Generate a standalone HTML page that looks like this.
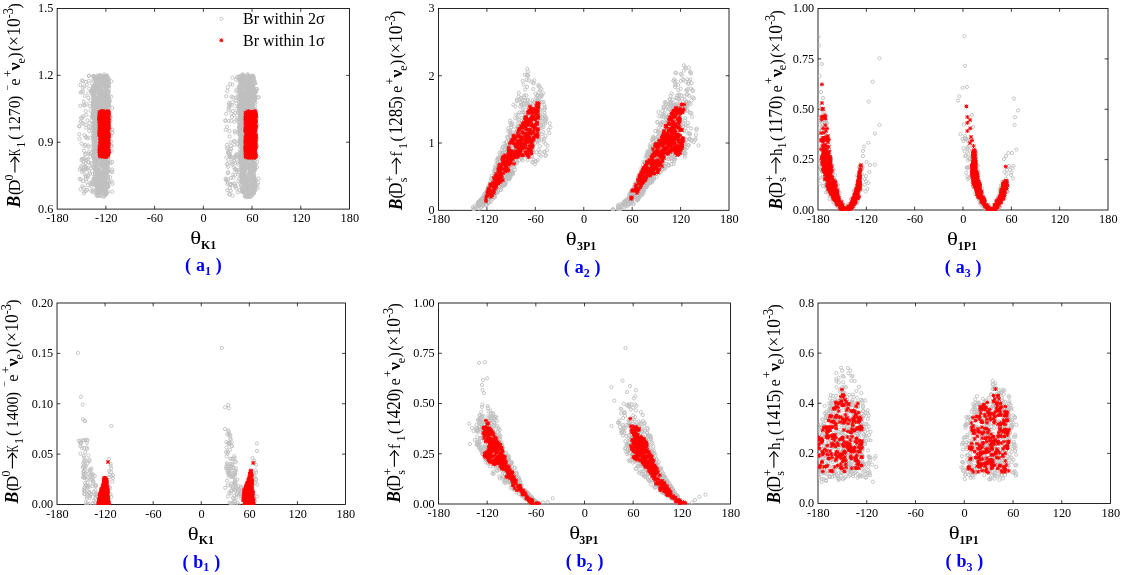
<!DOCTYPE html>
<html><head><meta charset="utf-8"><title>Branching ratios vs mixing angles</title>
<style>
html,body{margin:0;padding:0;background:#fff;}
svg{display:block;will-change:transform;font-family:"Liberation Serif",serif;}
.t{font-size:13.3px;fill:#000;}
.yl{font-size:16.5px;fill:#000;}
.fr{fill:none;stroke:#000;stroke-width:0.85;}
.tk{stroke:#000;stroke-width:0.75;fill:none;}
</style></head><body>
<svg width="1123" height="575" viewBox="0 0 1123 575">
<rect width="1123" height="575" fill="#fff"/>
<defs>
<marker id="mg" markerUnits="userSpaceOnUse" markerWidth="6" markerHeight="6" refX="3" refY="3" overflow="visible"><circle cx="3" cy="3" r="1.6" fill="none" stroke="#c0c0c0" stroke-width="0.9"/></marker>
<marker id="mr" markerUnits="userSpaceOnUse" markerWidth="6" markerHeight="6" refX="3" refY="3" overflow="visible"><path d="M1.05 3H4.95M3 1.05V4.95M1.35 1.35L4.65 4.65M4.65 1.35L1.35 4.65" fill="none" stroke="#ff0000" stroke-width="1.0"/></marker>
<clipPath id="ca1"><rect x="57.2" y="8.5" width="292.3" height="201.2"/></clipPath>
<clipPath id="ca2"><rect x="438.5" y="8.5" width="290.5" height="202.4"/></clipPath>
<clipPath id="ca3"><rect x="818.0" y="8.5" width="290.0" height="202.1"/></clipPath>
<clipPath id="cb1"><rect x="57.0" y="303.0" width="288.5" height="202.1"/></clipPath>
<clipPath id="cb2"><rect x="438.5" y="303.0" width="292.0" height="201.6"/></clipPath>
<clipPath id="cb3"><rect x="818.0" y="303.0" width="292.5" height="201.1"/></clipPath>
</defs>
<g id="a1">
<rect class="fr" x="57.17" y="8.50" width="292.33" height="200.60"/>
<text class="t" text-anchor="middle" transform="translate(57.5 222.2) scale(0.925 1)">-180</text>
<text class="t" text-anchor="middle" transform="translate(106.2 222.2) scale(0.925 1)">-120</text>
<text class="t" text-anchor="middle" transform="translate(154.9 222.2) scale(0.925 1)">-60</text>
<text class="t" text-anchor="middle" transform="translate(203.6 222.2) scale(0.925 1)">0</text>
<text class="t" text-anchor="middle" transform="translate(252.4 222.2) scale(0.925 1)">60</text>
<text class="t" text-anchor="middle" transform="translate(301.1 222.2) scale(0.925 1)">120</text>
<text class="t" text-anchor="middle" transform="translate(349.8 222.2) scale(0.925 1)">180</text>
<text class="t" text-anchor="end" transform="translate(53.4 212.9) scale(0.92 1)">0.6</text>
<text class="t" text-anchor="end" transform="translate(53.4 146.0) scale(0.92 1)">0.9</text>
<text class="t" text-anchor="end" transform="translate(53.4 79.2) scale(0.92 1)">1.2</text>
<text class="t" text-anchor="end" transform="translate(53.4 12.3) scale(0.92 1)">1.5</text>
<path class="tk" d="M105.89 209.10v-3.4M105.89 8.50v3.4M154.61 209.10v-3.4M154.61 8.50v3.4M203.33 209.10v-3.4M203.33 8.50v3.4M252.06 209.10v-3.4M252.06 8.50v3.4M300.78 209.10v-3.4M300.78 8.50v3.4M57.17 142.23h3.4M349.50 142.23h-3.4M57.17 75.37h3.4M349.50 75.37h-3.4"/>
<g clip-path="url(#ca1)">
<polyline fill="none" stroke="none" marker-start="url(#mg)" marker-mid="url(#mg)" marker-end="url(#mg)" points="98.6,101.8 99.5,141.5 105.2,94.2 91.2,90.9 225.7,178.7 247.0,136.5 249.7,169.9 251.3,105.9 94.3,147.6 245.3,100.2 109.1,112.4 241.8,109.3 83.2,164.3 236.3,154.3 100.1,141.3 247.1,88.0 252.3,104.4 99.9,79.4 108.5,154.6 103.4,95.5 244.6,123.2 241.2,181.1 248.5,136.5 252.9,98.0 93.7,76.8 252.0,135.4 102.2,162.7 104.2,155.9 94.8,179.6 108.2,82.5 245.9,134.5 243.8,153.1 243.1,96.5 109.0,79.9 108.3,126.0 243.9,77.2 240.4,154.4 105.6,126.1 242.3,127.2 100.6,89.9 242.7,95.9 106.2,81.2 103.4,142.7 103.6,163.6 98.1,188.4 251.6,83.0 240.5,144.4 241.8,75.6 84.9,169.1 105.8,110.6 231.5,96.7 247.2,150.5 245.7,76.0 248.4,180.8 247.6,144.4 106.9,114.9 248.5,188.4 240.3,80.7 225.7,129.8 241.9,83.3 246.0,110.5 96.9,90.3 100.0,170.5 252.1,163.5 105.6,128.5 106.1,96.0 104.0,142.5 242.2,135.7 111.8,145.8 252.9,170.9 249.7,186.2 241.4,116.8 94.8,99.5 249.1,119.4 99.2,170.6 97.1,179.3 104.9,183.6 93.2,104.3 241.0,167.7 247.6,193.1 251.1,90.9 107.6,146.2 235.2,157.6 92.9,89.0 247.7,74.2 102.1,164.2 96.8,106.2 241.4,79.3 250.5,172.1 249.3,94.7 94.6,84.9 107.1,171.4 227.1,190.2 96.1,108.5 244.4,113.7 245.8,136.9 251.6,94.4 243.2,76.7 98.8,114.7 97.0,189.5 107.7,114.8 234.5,161.0 97.9,76.6 84.9,174.6 253.9,127.7 230.3,151.8 247.5,140.9 105.9,106.4 98.5,92.2 246.6,155.2 251.8,121.6 107.2,99.6 99.8,115.1 249.7,90.5 254.3,83.1 104.5,107.9 100.7,75.9 108.5,96.4 254.0,90.2 241.5,102.4 106.6,147.5 240.8,185.5 242.7,187.8 107.2,174.9 81.4,168.2 103.3,167.1 243.1,152.2 249.3,196.8 101.7,104.5 246.5,165.6 99.5,77.0 251.3,147.7 254.7,160.8 97.1,113.5 229.4,131.1 245.5,196.6 243.8,146.6 246.3,82.2 108.0,134.0 108.8,99.8 254.8,185.7 241.8,108.0 99.8,187.6 242.1,112.8 243.5,177.2 239.6,140.4 254.4,178.4 109.1,105.5 251.3,164.3 242.6,159.0 98.3,93.9 242.8,135.5 98.3,170.4 239.3,128.1 94.8,120.0 253.8,100.6 242.9,167.3 108.7,125.9 97.4,130.5 88.4,161.9 242.2,176.9 244.8,166.9 248.8,183.0 92.7,191.8 100.5,175.3 254.8,89.8 245.5,104.7 106.1,105.4 245.4,113.6 248.4,124.7 110.1,100.7 84.3,191.5 85.9,191.1 97.7,109.3 248.4,163.3 230.5,157.3 103.2,194.1 240.7,80.5 101.3,143.5 235.9,79.8 243.2,109.4 104.9,145.4 94.7,79.2 239.8,88.8 99.5,91.8 106.7,99.2 247.6,167.2 86.3,114.9 102.2,185.2 106.9,109.0 102.2,117.6 252.2,146.4 104.6,83.7 83.2,116.2 244.9,159.3 93.2,113.3 86.5,160.0 96.6,81.8 241.9,118.1 108.9,106.6 94.2,92.3 242.2,115.7 99.0,132.1 247.1,92.6 105.8,83.6 253.0,173.9 248.2,100.6 239.0,106.2 250.4,95.1 103.7,160.8 250.0,94.1 254.6,100.0 229.2,194.3 103.8,142.9 111.3,145.7 103.7,112.7 108.4,145.7 242.7,116.8 104.4,142.7 101.3,78.8 253.1,114.1 243.3,155.7 248.6,91.1 102.0,90.3 236.2,91.4 247.1,102.3 250.6,196.5 240.5,159.7 104.7,194.1 105.2,165.6 254.4,190.6 103.7,155.4 253.0,185.6 249.4,115.2 244.6,162.4 249.9,132.7 246.6,88.3 245.5,83.2 99.9,165.8 250.2,174.4 104.4,171.3 103.5,152.3 242.1,76.6 249.5,88.6 244.6,142.0 244.9,196.4 249.4,132.7 93.2,75.8 96.5,183.6 227.3,164.2 79.6,138.7 243.5,148.5 247.5,113.9 255.0,190.7 95.7,84.1 241.6,101.7 249.4,191.3 240.1,85.1 244.0,147.0 105.1,104.3 248.7,137.7 256.0,116.4 255.0,91.3 95.5,131.5 248.1,163.4 101.4,76.4 97.3,86.7 97.3,95.8 100.5,116.3 242.1,169.7 97.7,192.4 254.5,118.4 104.8,185.6 244.1,97.9 88.0,167.8 242.9,171.3 91.4,116.4 103.4,124.8 244.0,102.4 244.5,146.7 253.6,141.0 250.9,177.6 243.3,175.4 97.6,175.9 249.8,161.0 109.1,124.9 240.4,104.7 239.9,190.3 242.3,91.8 251.2,84.2 88.8,151.8 96.2,127.4 94.9,78.4 101.5,164.4 98.1,194.9 103.4,166.0 255.3,91.5 107.1,77.5 110.6,116.7 100.9,117.9 252.2,159.6 251.8,161.6 99.2,129.4 241.4,127.7 252.8,83.9 104.1,128.1 105.5,92.8 105.5,141.7 252.7,119.8 244.6,151.9 101.6,85.3 111.8,181.5 103.6,117.1 102.6,94.9 103.2,160.1 108.0,171.5 241.2,120.0 93.9,158.0 243.0,94.9 248.5,104.8 112.4,132.6 100.0,82.6 101.0,82.5 241.4,140.1 239.9,146.5 99.2,96.0 96.5,138.7 253.9,146.1 255.0,83.4 239.2,128.0 107.0,164.9 242.5,75.3 90.7,127.4 100.4,77.1 108.9,135.2 253.1,106.8 109.1,115.0 100.5,181.1 102.7,113.9 249.9,151.0 230.0,154.7 100.3,141.3 242.3,97.3 96.4,150.7 94.4,104.8 105.0,176.5 252.1,116.3 93.7,94.1 96.1,79.9 239.1,127.2 254.8,101.4 238.2,169.9 239.2,119.4 106.2,157.8 245.5,180.3 91.8,91.0 245.9,157.1 94.5,108.7 242.3,109.0 80.7,179.5 100.9,76.1 97.2,196.1 251.9,185.2 249.2,152.4 98.7,110.6 251.3,82.5 241.7,177.3 102.0,76.0 106.8,148.9 107.1,100.6 247.1,152.8 247.1,133.6 101.4,179.3 245.7,182.7 246.8,81.2 255.6,113.6 225.6,120.9 238.6,87.5 247.9,167.5 253.2,87.9 104.3,156.9 245.9,92.5 251.0,140.7 244.0,145.7 108.5,144.0 108.2,157.4 247.5,184.2 107.8,177.8 95.8,100.8 105.9,169.4 242.8,179.7 240.9,91.8 108.3,153.0 226.8,148.1 101.9,91.9 230.9,183.9 248.7,186.0 253.8,88.6 247.7,164.9 101.1,83.3 99.2,187.0 242.0,150.1 243.1,92.8 232.6,195.7 105.1,112.7 245.6,161.3 107.9,153.9 254.5,96.1 258.7,97.1 249.7,153.0 236.8,169.8 102.1,132.5 240.2,116.5 239.6,140.3 229.6,136.5 94.9,146.3 94.6,143.8 99.3,113.9 258.5,178.5 108.1,93.1 107.5,113.5 106.4,102.7 103.7,90.6 95.5,106.3 247.8,180.2 248.1,188.6 105.7,104.7 94.1,123.0 108.7,162.8 244.4,170.2 100.5,79.6 235.9,100.3 249.0,196.3 240.6,85.8 249.7,84.7 227.6,184.1 248.6,133.4 104.2,165.6 245.7,183.4 246.7,144.5 98.7,161.6 253.8,114.4 243.9,122.0 242.4,187.5 96.6,117.6 106.0,77.3 104.2,167.2 250.7,165.0 244.0,85.2 253.5,190.8 87.3,120.4 88.9,80.8 92.6,112.1 103.6,123.4 88.3,93.5 103.2,174.4 80.2,105.8 97.6,98.8 97.4,115.3 88.0,185.2 252.9,78.7 242.1,95.0 109.1,135.3 236.1,97.7 111.3,141.6 104.2,124.4 244.3,117.2 248.4,87.7 251.0,128.9 98.4,102.3 102.6,82.3 106.0,174.3 94.7,153.3 257.5,188.2 106.0,111.9 249.4,149.0 254.7,167.7 97.9,85.5 104.2,106.8 100.4,174.8 254.5,150.3 243.5,146.3 108.4,171.3 97.8,100.7 104.1,118.1 92.3,91.7 100.0,112.4 242.0,174.3 241.6,188.2 241.9,119.4 253.8,89.4 239.2,101.8 95.2,122.5 81.9,171.8 242.0,179.1 99.4,171.6 242.4,77.9 229.3,106.6 250.4,123.5 100.0,156.9 253.0,150.7 93.9,118.7 248.9,136.3 83.5,105.0 104.3,83.0 232.8,164.4 250.3,78.6 231.4,113.4 94.1,90.3 104.7,103.5 257.0,167.1 256.4,127.2 244.8,118.3 111.1,96.6 252.6,112.8 250.0,81.7 102.0,173.9 99.2,167.3 102.5,154.6 241.5,170.4 243.3,136.9 243.5,146.8 256.3,89.5 95.0,169.3 245.5,173.9 100.4,178.6 249.3,146.8 254.5,124.5 243.0,173.0 100.1,88.4 245.3,113.2 104.2,123.6 90.4,100.7 250.1,125.0 240.2,132.4 93.9,76.1 254.9,135.8 251.0,125.6 239.2,105.9 247.2,186.9 253.6,98.3 253.6,154.8 98.3,173.1 89.1,88.6 253.0,146.6 239.3,178.6 108.9,103.5 96.2,143.3 246.6,157.2 250.1,144.4 242.3,166.6 98.5,174.8 246.9,195.3 244.1,102.0 99.6,141.8 243.7,112.4 241.2,96.4 242.9,124.9 97.0,134.2 253.1,87.3 244.3,104.4 99.6,188.6 93.9,94.4 239.2,88.4 103.7,76.1 102.8,164.7 248.2,164.4 254.6,155.0 245.2,178.0 252.6,159.5 98.8,157.8 94.3,115.1 100.1,106.6 228.1,152.3 249.4,92.1 102.4,155.6 237.3,144.2 79.6,178.9 100.0,95.0 243.1,127.5 248.6,175.7 236.3,103.5 94.0,105.9 97.2,170.3 250.5,92.0 86.3,167.2 112.1,161.9 243.8,177.6 242.1,82.0 255.2,121.6 228.2,172.1 256.6,155.5 254.0,137.3 235.3,113.1 250.9,151.8 104.2,113.6 241.4,184.8 252.6,147.0 254.0,88.1 100.6,146.6 96.1,134.6 98.1,130.3 240.0,129.2 240.4,90.1 254.1,188.5 247.3,149.2 239.4,86.0 106.2,156.9 250.9,174.0 85.7,176.2 93.5,98.5 106.1,142.6 241.5,178.4 228.8,153.3 101.8,184.9 250.5,128.5 108.7,101.6 246.6,101.0 247.2,86.3 95.8,171.9 254.9,168.8 82.3,118.0 96.1,88.9 101.1,97.5 248.9,134.9 104.2,139.7 237.6,96.4 101.2,98.9 245.8,150.0 84.6,95.8 100.4,153.9 105.4,88.4 93.5,97.3 94.9,145.4 255.4,125.9 94.3,128.2 101.6,138.2 103.8,177.3 249.7,97.0 254.4,141.3 235.1,174.9 101.0,115.8 92.6,89.1 100.4,90.8 104.7,148.9 251.2,88.4 97.2,78.9 101.5,146.6 112.3,183.7 100.4,105.2 244.3,182.3 101.3,144.9 97.9,78.9 103.4,106.3 107.3,169.2 95.3,180.3 239.8,87.3 244.9,134.2 249.6,106.5 248.2,178.0 95.4,141.1 240.6,142.6 102.6,151.9 96.4,167.8 101.8,175.4 83.6,101.5 106.2,120.3 247.7,75.6 93.0,133.3 96.7,180.5 99.1,126.7 254.4,96.8 82.0,158.8 241.9,119.5 248.5,179.2 242.7,162.6 104.3,111.6 104.8,178.5 100.7,117.6 251.4,180.6 102.0,120.7 240.0,93.8 241.6,191.7 100.6,81.6 244.8,98.0 83.3,170.1 248.3,143.8 254.9,124.7 98.8,97.9 243.9,167.0 106.3,172.1 249.9,187.5 101.2,165.1 253.0,185.2 236.7,89.9 248.7,189.1 102.0,171.3 101.2,120.8 94.7,111.9 106.2,99.8 93.1,136.3 250.3,164.3 242.3,137.9 246.3,186.1 95.0,99.0 105.8,116.8 105.6,162.0 93.7,113.0 242.3,175.6 248.2,181.6 92.9,173.9 246.1,120.3 254.0,111.5 249.3,142.3 91.7,152.7 243.1,155.6 100.0,104.5 94.8,152.3 242.9,106.9 249.7,126.4 105.8,114.6 92.5,102.2 240.3,109.3 255.0,106.4 91.1,168.2 95.6,108.7 94.8,172.9 93.8,156.5 252.8,162.9 107.9,167.2 250.8,87.8 241.5,98.2 107.8,159.7 93.5,151.3 239.4,90.6 248.2,78.7 251.9,157.6 106.8,167.5 241.0,164.1 242.4,76.6 101.4,150.8 253.4,180.2 105.0,143.6 106.8,164.8 98.5,139.7 101.2,131.5 102.8,83.4 252.0,155.8 103.7,77.2 104.4,114.6 105.1,181.7 249.0,91.6 86.0,137.1 100.0,115.2 250.8,132.9 106.0,105.0 251.5,139.3 103.9,178.0 102.6,145.8 252.5,76.2 248.5,196.8 245.6,140.8 92.9,92.1 93.3,190.4 253.4,148.9 105.9,84.4 245.6,196.1 103.2,82.4 247.3,193.8 227.3,91.1 240.7,160.6 106.1,100.3 104.6,114.6 252.4,123.1 97.8,132.1 252.2,152.6 253.0,99.0 255.1,152.2 258.0,182.8 97.2,107.6 108.2,79.8 250.8,78.2 100.1,183.9 250.8,89.7 247.3,89.2 244.3,87.9 98.1,112.4 83.4,161.1 251.4,186.9 242.8,182.5 244.9,143.6 248.0,86.5 250.7,172.7 254.6,179.4 246.9,84.5 95.3,109.6 110.2,177.2 95.4,108.8 92.5,128.8 245.3,83.5 97.0,77.6 246.5,159.3 95.8,159.5 96.3,119.7 108.9,102.5 246.6,83.0 92.0,83.6 85.0,144.8 89.0,76.0 248.2,167.7 98.1,127.7 107.9,80.8 105.8,112.1 254.6,165.5 97.1,162.3 112.3,191.8 107.2,186.9 90.0,106.1 106.5,110.9 91.2,163.2 252.3,181.0 101.1,79.1 96.6,89.6 108.7,85.9 240.4,119.3 94.0,152.9 250.9,76.4 102.9,80.4 96.7,146.2 240.3,134.2 241.4,113.2 246.1,158.6 246.2,125.2 105.0,157.8 103.8,146.5 256.6,145.9 102.2,152.6 253.3,126.0 246.2,130.9 244.2,84.1 254.8,170.0 239.6,134.8 246.1,138.5 245.8,110.4 232.8,111.0 103.5,179.8 93.9,127.1 108.7,83.0 99.6,195.2 248.7,78.2 248.3,104.4 101.2,102.1 248.9,105.6 251.5,154.4 85.9,168.3 104.4,196.5 107.3,185.2 240.1,80.0 96.5,141.1 244.6,99.5 96.8,160.8 108.7,96.8 100.1,178.2 246.6,161.5 253.4,124.1 253.9,111.0 252.3,177.7 101.2,112.8 106.6,160.6 108.6,140.7 103.4,165.3 107.2,172.8 111.4,81.3 257.4,146.0 243.4,113.9 253.4,154.5 93.9,104.6 89.5,123.0 240.0,105.3 241.4,137.8 239.1,126.9 242.6,168.8 244.4,103.8 107.5,171.7 98.9,127.8 102.8,172.6 251.6,149.1 93.6,155.4 100.2,139.4 240.2,125.5 240.7,128.3 241.4,181.3 107.7,179.9 250.2,80.2 106.5,163.4 112.3,169.6 101.1,131.3 241.5,113.2 97.7,100.1 108.3,154.8 98.8,123.4 245.8,140.5 252.7,189.3 246.6,123.4 248.4,85.9 248.3,100.9 229.7,188.2 93.6,108.7 95.9,142.5 239.4,128.5 102.2,160.8 97.0,184.5 103.7,152.3 93.6,91.7 244.6,103.5 239.3,142.0 250.5,109.4 102.4,109.6 243.2,101.4 248.5,98.5 254.5,121.1 245.4,149.8 94.2,90.6 106.1,95.1 94.3,105.6 103.6,183.0 98.5,156.7 107.6,162.5 240.3,114.7 107.9,143.8 104.2,142.4 99.5,183.4 254.5,180.2 255.2,99.7 80.2,84.9 240.0,141.4 89.2,131.0 99.9,123.4 95.0,122.6 253.3,76.5 240.0,81.7 101.8,108.0 102.1,125.9 240.8,127.5 256.1,127.6 107.2,98.3 254.0,153.6 93.6,167.8 107.9,97.8 255.4,92.8 243.9,180.8 254.2,171.9 89.7,173.4 241.9,171.9 103.6,95.8 93.7,130.9 101.1,83.1 253.6,162.8 94.7,152.1 95.8,114.9 108.0,97.0 252.3,113.2 105.9,146.7 94.8,125.9 234.1,183.4 95.2,164.4 251.5,193.3 93.6,101.9 100.4,106.5 251.5,163.1 247.4,130.5 250.4,156.3 95.4,79.3 107.8,184.0 240.4,99.4 250.3,166.6 107.3,100.7 93.6,134.5 242.5,149.5 107.6,184.1 82.4,122.9 109.1,113.0 251.9,175.9 92.7,115.9 241.1,136.3 239.4,145.7 245.2,149.4 103.0,112.0 242.9,151.4 105.3,168.7 251.8,115.9 248.2,76.5 106.3,142.3 97.8,105.8 244.3,145.2 107.8,116.2 80.6,121.9 96.4,104.6 104.4,79.7 229.2,104.4 99.3,126.3 249.3,138.1 254.4,113.6 252.1,123.6 248.6,107.2 254.9,131.7 97.9,79.0 107.9,150.5 249.6,99.6 97.5,105.1 249.9,132.7 88.8,126.7 102.0,154.4 239.6,133.4 248.2,84.2 92.7,88.2 245.6,155.3 107.3,156.0 95.8,158.1 245.0,93.4 106.7,110.0 244.3,97.5 248.2,92.2 245.9,89.3 255.5,137.4 240.3,137.9 229.5,155.4 240.0,91.4 246.9,102.2 94.6,156.0 93.7,104.1 96.7,125.0 253.9,148.4 88.3,145.4 106.6,165.8 93.8,109.3 87.1,189.9 255.9,118.9 93.4,116.8 107.1,151.2 242.7,156.4 236.3,156.2 105.9,135.8 248.9,156.4 253.6,154.5 240.9,82.2 254.3,152.0 101.1,92.3 254.4,166.1 254.1,142.8 244.1,80.1 110.7,163.2 93.2,79.7 104.0,181.6 233.4,177.8 99.0,97.1 248.6,79.0 100.8,87.0 254.0,141.2 100.6,155.7 255.0,153.4 93.2,126.4 252.8,133.1 251.0,132.1 86.7,104.1 254.8,116.9 101.4,173.5 254.1,100.9 106.8,192.5 105.9,125.5 249.2,163.9 101.3,103.2 253.2,148.5 95.9,185.3 107.0,164.3 243.9,181.9 243.0,116.3 247.5,157.0 106.4,188.0 106.9,108.3 252.1,175.8 94.5,177.9 105.0,131.4 107.3,139.8 98.0,176.7 106.2,127.5 244.5,84.3 105.4,181.2 242.4,128.7 103.9,137.8 94.7,149.3 246.7,142.7 86.2,127.8 245.4,176.1 249.0,143.1 231.9,161.8 237.3,77.4 99.5,138.7 248.7,96.5 229.8,194.4 243.2,132.9 249.9,192.5 101.0,119.3 243.0,138.3 240.1,152.8 246.2,93.6 93.6,140.9 245.2,184.3 239.7,105.3 248.6,140.4 254.4,167.7 240.6,90.1 250.1,113.7 108.4,77.8 250.0,187.1 106.0,124.9 107.4,128.7 104.6,76.5 109.0,121.5 101.1,111.0 228.8,121.0 107.5,149.4 97.9,175.1 98.1,132.0 105.0,133.3 93.7,124.8 103.2,113.0 251.6,85.1 250.4,116.0 231.9,116.9 97.0,163.8 94.1,139.2 99.4,139.5 253.0,108.4 242.6,179.6 240.5,99.3 241.3,101.5 94.1,113.6 239.6,76.7 103.8,85.8 104.5,193.0 251.7,115.3 105.4,133.4 240.3,79.7 244.5,129.7 240.4,162.2 250.4,170.6 95.7,124.4 98.4,122.4 239.2,110.4 247.5,159.7 93.6,141.8 243.4,147.0 102.5,159.5 255.4,102.7 103.9,155.1 108.3,171.3 247.8,127.5 247.1,106.6 97.9,187.6 104.1,138.0 242.3,181.5 107.1,76.0 235.3,186.6 244.7,78.8 94.5,160.0 248.5,178.6 239.5,122.0 95.9,139.8 107.9,107.1 98.6,161.6 253.3,102.1 99.8,152.7 230.3,184.9 97.4,87.5 251.3,98.0 99.0,93.3 107.6,111.1 101.3,158.8 244.1,152.6 235.2,162.6 95.5,190.1 248.8,131.4 100.3,192.3 241.7,103.4 252.3,111.9 239.7,96.8 246.2,158.6 106.6,157.3 100.2,141.2 105.5,106.2 93.1,103.8 83.9,193.3 254.1,153.2 250.7,167.5 106.8,144.9 255.0,123.9 101.3,119.5 247.5,98.4 253.5,191.9 104.8,187.5 246.4,89.4 95.8,170.9 240.3,128.1 106.5,100.1 99.5,177.1 107.6,81.5 104.1,142.6 81.5,160.1 104.3,185.9 230.7,190.8 97.0,129.8 100.2,90.2 105.9,141.1 97.0,99.9 253.9,167.0 101.1,115.4 249.5,109.5 99.5,138.9 247.8,189.4 104.5,81.4 232.0,105.4 249.9,164.9 241.8,161.9 103.7,183.1 101.3,163.0 95.9,90.7 103.6,188.0 81.5,91.7 253.4,157.1 99.9,191.1 105.6,135.1 104.0,189.6 84.0,158.9 242.6,145.3 102.6,97.5 244.6,107.5 99.7,75.7 99.3,122.1 90.3,137.7 240.1,143.0 106.9,186.2 92.5,106.5 100.2,113.4 239.6,94.2 249.7,161.4 249.1,83.9 108.3,104.9 104.1,178.4 87.8,177.4 245.0,77.5 98.5,136.6 256.3,180.4 243.6,104.4 107.8,90.8 104.1,163.7 251.1,118.5 104.3,74.4 106.7,92.7 228.4,159.8 106.8,144.5 244.1,115.9 248.2,157.0 249.3,135.8 101.7,93.4 108.0,79.7 255.6,124.7 243.2,102.4 98.8,177.7 242.9,75.4 249.2,130.1 102.8,160.6 93.5,111.2 252.6,108.0 245.7,185.0 241.0,124.0 93.8,111.2 248.3,129.8 101.5,195.6 102.7,189.7 241.6,95.5 105.4,190.6 96.5,81.8 242.3,191.7 97.7,97.8 240.2,104.3 95.0,149.8 226.4,157.4 93.2,94.3 245.6,146.9 247.1,107.2 247.0,161.5 230.5,185.2 253.0,160.0 98.6,194.7 249.8,158.8 239.3,78.7 247.5,84.8 100.9,96.8 252.6,76.4 251.6,144.8 102.4,129.8 228.3,152.3 99.6,75.3 93.6,90.5 95.9,138.6 252.1,152.9 95.3,158.6 96.0,115.0 228.1,152.9 241.6,162.1 104.4,183.3 238.1,112.2 94.1,95.5 104.4,179.6 246.3,185.6 108.2,162.0 243.1,74.4 242.0,165.6 104.6,79.8 102.1,81.7 102.4,102.6 100.9,175.7 106.2,96.8 248.8,150.0 250.7,152.3 244.6,130.5 101.3,191.2 106.9,171.1 105.9,101.2 252.4,160.7 230.0,156.6 108.7,159.9 106.9,75.8 249.8,157.4 235.1,168.7 106.6,171.2 107.0,105.2 95.8,185.5 240.5,110.7 108.8,105.5 97.6,102.1 239.0,107.1 99.5,114.9 244.1,176.4 252.7,85.3 228.1,166.8 240.5,114.6 102.2,117.7 254.8,169.9 245.8,127.9 245.9,163.8 85.8,179.1 254.5,181.8 101.4,135.5 104.6,189.2 247.8,93.9 245.0,117.7 104.8,151.2 250.3,89.4 104.0,82.9 107.4,85.3 103.6,148.2 255.0,131.5 107.3,86.0 99.7,181.1 239.3,123.4 252.7,148.7 110.3,120.7 104.2,112.0 99.3,175.0 98.5,154.2 244.1,158.4 101.9,80.1 243.2,117.2 108.2,164.1 249.1,179.9 240.5,136.7 94.6,106.8 103.5,77.6 99.5,122.5 252.2,174.8 234.5,121.7 99.3,187.4 105.3,97.6 94.8,165.5 238.9,172.2 231.1,149.2 94.3,127.4 254.1,193.0 105.6,143.2 247.1,148.7 242.0,79.9 96.0,89.2 101.4,184.0 103.5,163.9 241.0,158.6 108.1,93.6 243.8,192.3 242.3,166.1 111.8,150.6 252.2,106.3 234.2,115.3 252.6,91.2 254.7,131.1 96.8,162.0 97.2,169.9 107.7,163.2 242.1,164.3 100.4,133.5 108.2,91.9 252.1,141.3 108.2,186.7 99.8,108.4 101.6,155.3 100.5,124.2 106.9,90.8 253.5,150.5 99.4,96.8 107.9,113.4 98.0,115.0 249.5,186.6 107.9,177.0 85.2,166.4 244.9,185.4 100.1,156.3 105.2,110.0 103.1,191.0 242.5,139.3 227.4,164.2 102.0,184.9 93.9,103.5 249.1,129.3 96.7,153.7 97.8,175.3 233.4,157.7 240.4,119.2 238.2,164.5 102.6,173.2 98.9,145.6 96.2,119.0 246.5,104.6 252.0,85.9 245.8,98.5 85.5,154.0 255.7,119.3 106.9,132.8 102.7,144.4 240.3,106.8 257.7,125.2 241.0,174.3 242.2,169.1 253.9,148.1 99.8,126.4 100.5,123.6 88.7,146.9 106.3,172.7 248.0,104.1 101.2,106.9 252.6,106.2 245.0,171.1 240.5,183.6 240.7,94.8 97.2,123.7 256.1,187.6 88.9,75.7 251.9,162.2 97.2,152.7 98.7,195.7 103.7,106.4 104.8,194.8 84.4,86.4 249.5,76.4 250.5,100.2 100.6,96.2 243.2,182.0 102.6,149.6 106.8,99.3 258.4,157.4 253.7,163.6 105.5,79.8 93.7,143.8 237.8,162.5 86.5,181.7 252.8,132.7 107.0,154.2 101.8,171.9 254.1,150.3 106.6,86.6 106.3,144.5 254.5,164.2 98.4,113.2 253.1,148.6 253.4,117.1 255.5,119.3 253.3,116.4 104.7,97.5 101.5,164.2 112.1,171.6 112.1,107.8 96.0,144.4 250.4,178.6 254.8,96.0 99.1,112.5 244.1,84.0 230.6,184.5 95.3,184.7 232.3,102.0 105.3,105.6 97.3,134.1 103.5,86.3 241.1,83.0 95.8,170.1 244.9,169.2 94.4,137.5 254.8,109.1 250.3,115.1 255.0,138.2 106.3,89.8 251.7,172.3 83.0,81.0 243.7,144.9 96.8,85.4 98.0,184.4 248.3,175.4 241.1,79.1 101.0,178.5 95.3,184.6 245.8,168.2 108.4,122.2 245.2,179.9 245.0,184.3 251.7,157.9 243.3,169.7 107.7,115.2 241.0,106.4 103.8,156.3 231.5,120.9 102.4,104.4 102.1,183.5 99.8,136.4 243.9,172.9 97.7,135.7 97.9,121.5 248.3,81.1 247.1,121.3 241.7,106.9 233.7,167.2 100.5,186.0 252.4,194.3 241.1,156.7 96.1,82.1 251.7,135.3 250.0,110.5 109.1,101.8 245.8,117.1 243.3,119.0 102.6,90.9 253.3,187.1 251.6,148.7 83.6,170.5 234.8,131.0 246.1,190.1 244.4,80.7 88.5,162.5 234.4,144.8 92.6,92.4 249.4,90.9 242.1,165.3 100.1,78.0 90.5,182.7 97.3,179.8 246.1,154.8 106.3,126.6 105.5,168.6 249.6,183.1 104.2,79.0 93.5,101.2 243.6,158.4 246.3,104.0 250.2,143.4 253.5,156.2 241.1,84.9 106.5,194.3 257.2,161.8 253.8,89.7 101.2,142.5 90.5,184.5 98.3,182.5 97.7,187.4 247.8,166.3 243.4,119.7 241.4,181.5 243.1,148.4 95.5,86.3 249.4,99.6 100.8,118.5 250.2,113.7 247.0,150.9 97.7,143.7 240.9,103.4 92.4,184.3 248.4,133.6 101.7,129.5 242.9,134.5 245.5,97.1 234.7,157.3 104.6,175.9 96.6,107.1 98.7,84.1 246.0,160.4 99.1,107.7 249.1,139.9 98.5,79.2 245.1,149.5 250.0,148.1 102.0,154.1 241.2,114.2 253.7,193.3 254.0,176.0 99.2,96.5 248.2,117.6 246.4,185.2 101.6,107.1 247.3,189.5 255.1,142.5 108.6,100.9 97.4,112.2 244.7,115.8 96.8,149.8 102.0,100.8 95.3,93.1 249.9,192.3 99.4,121.8 240.0,118.8 84.5,146.3 251.3,138.8 97.1,193.4 243.1,163.6 249.4,157.5 254.1,145.6 94.0,111.0 244.4,86.9 248.7,98.4 100.7,164.9 245.9,150.5 249.4,107.8 243.4,145.3 254.2,174.6 104.3,114.1 108.1,81.1 106.6,92.5 101.3,127.7 254.1,95.1 245.8,104.6 239.5,113.9 247.3,158.6 99.3,182.8 97.9,107.0 239.9,81.6 248.9,173.5 253.2,155.9 254.4,119.3 99.0,164.4 240.9,116.7 105.8,79.0 84.5,135.1 102.3,165.0 104.8,167.2 104.6,96.2 104.1,162.3 97.2,81.1 104.7,190.9 83.5,123.8 246.3,163.7 251.6,127.6 251.4,171.3 98.8,161.5 94.1,135.7 246.1,110.9 252.1,76.4 85.5,168.5 243.3,165.9 96.0,135.2 95.0,130.2 245.7,185.2 232.6,157.4 97.5,140.5 247.1,173.3 97.5,110.1 98.8,146.5 236.3,170.5 98.7,93.1 90.6,110.7 81.9,80.5 251.4,88.7 101.5,116.7 97.1,112.8 239.1,111.6 243.0,108.9 253.0,75.6 242.5,152.1 108.9,126.0 239.1,99.5 106.7,87.2 250.4,153.1 253.7,190.3 100.6,175.1 104.1,109.3 253.3,99.8 229.9,156.2 94.8,174.2 104.1,126.1 97.9,142.1 108.6,97.9 108.2,137.4 255.9,164.4 247.4,147.7 245.4,85.9 248.0,149.6 97.2,189.2 244.5,143.5 80.5,189.4 254.7,183.9 240.1,157.8 257.0,88.9 239.3,95.4 252.8,148.3 255.0,98.3 98.9,159.2 97.6,111.4 245.2,170.5 96.5,195.1 242.4,105.8 249.0,81.1 97.4,90.9 93.0,138.3 88.3,175.4 251.2,146.3 107.6,117.9 242.8,79.4 106.8,75.6 251.4,192.2 93.7,114.6 80.6,92.7 253.4,123.4 253.4,164.2 250.3,110.9 237.0,77.4 252.2,117.2 105.8,94.2 247.5,149.6 247.3,102.6 245.4,154.5 245.1,141.1 248.3,98.6 100.1,190.7 95.0,176.6 230.9,148.5 239.6,128.6 99.4,107.5 242.2,174.8 247.6,114.3 99.1,136.0 108.4,83.2 107.6,181.2 93.6,154.1 106.0,102.8 245.2,79.3 93.7,131.4 103.2,98.1 255.0,144.3 239.9,130.5 102.5,128.5 93.0,87.3 244.1,157.1 256.1,155.2 253.6,189.2 242.4,156.9 93.3,144.9 248.0,110.7 94.0,178.1 242.5,96.6 112.2,129.6 95.8,152.1 97.8,119.0 245.6,77.5 231.6,163.7 243.7,168.0 84.8,105.4 244.0,100.3 240.6,122.9 97.0,112.9 248.4,92.4 101.9,117.8 99.0,177.4 248.8,132.5 106.2,102.7 98.5,189.2 103.2,109.7 94.8,168.8 106.5,119.4 104.9,144.9 98.3,193.5 252.7,99.0 88.2,97.8 232.4,84.7 94.0,149.7 254.3,113.1 251.8,125.8 252.5,178.8 104.7,172.1 105.4,154.8 255.3,91.9 86.0,137.1 253.8,162.5 92.7,95.2 239.8,76.6 105.1,159.0 243.4,181.8 83.0,181.1 107.2,84.8 242.7,93.4 242.8,86.8 250.4,86.2 94.1,122.1 103.9,135.8 97.5,162.5 250.3,136.1 106.3,191.5 238.6,157.9 102.2,103.7 243.3,137.6 97.7,143.9 247.1,180.1 247.6,121.2 246.0,85.3 247.3,187.2 104.1,184.2 254.0,170.0 107.4,119.1 244.7,78.0 95.9,169.0 239.9,102.8 243.3,163.8 102.9,141.2 96.9,185.8 106.1,142.0 254.5,156.6 241.5,111.3 250.7,159.0 231.0,178.0 245.1,90.5 249.4,142.6 85.7,111.1 238.5,76.4 247.4,118.8 248.4,180.7 247.5,126.4 247.1,79.2 104.3,82.8 104.4,161.1 239.8,109.8 250.5,100.7 101.1,153.7 242.6,118.1 254.0,193.0 104.4,134.4 93.4,85.6 243.3,86.9 248.7,187.9 253.8,137.4 235.1,141.7 237.2,118.5 105.3,77.8 101.5,145.3 229.1,102.8 96.3,166.0 242.3,94.1 96.5,166.0 99.6,94.3 240.1,81.9 248.9,105.5 236.5,108.6 104.3,172.4 112.1,172.2 99.5,192.7 90.6,156.7 97.8,172.9 239.3,122.6 103.5,181.0 249.9,171.3 105.6,99.1 240.3,162.1 244.6,160.3 102.1,98.1 107.1,133.2 100.1,89.0 249.9,79.7 256.5,91.0 108.4,186.7 243.3,183.0 248.4,93.8 250.2,179.3 250.1,152.4 250.3,155.4 247.7,117.8 249.4,187.7 248.4,127.7 101.6,177.9 245.9,153.2 101.0,86.5 102.3,98.9 240.3,154.6 245.9,164.7 241.5,167.0 108.3,168.3 102.2,80.6 254.2,118.4 87.7,159.0 107.0,163.5 105.0,190.6 241.4,154.5 249.2,126.2 245.8,99.2 245.9,110.9 102.7,97.2 95.4,98.9 244.7,135.5 244.6,98.2 254.2,185.5 104.9,98.1 243.5,145.5 94.6,128.4 97.3,168.8 250.1,164.4 254.3,183.9 106.3,78.3 250.0,171.1 108.2,130.2 251.0,185.3 241.5,141.5 247.3,116.2 97.1,184.3 104.4,110.5 251.8,181.6 97.4,143.6 92.7,116.5 107.3,109.9 240.0,76.6 245.6,124.1 86.3,124.9 94.4,119.3 247.9,192.0 257.0,117.3 246.7,197.3 79.3,134.2 253.2,96.0 246.5,179.7 107.8,131.8 253.7,186.3 101.0,168.9 107.5,136.5 255.8,185.9 98.8,154.0 100.2,75.4 254.3,80.1 86.8,84.6 250.7,152.6 251.2,125.0 254.7,81.6 91.6,164.4 89.5,171.2 102.1,94.2 97.8,102.2 245.4,182.3 253.8,82.5 251.7,103.4 94.4,102.9 249.7,100.5 245.9,98.6 83.3,170.3 97.2,174.6 254.8,97.4 249.5,131.9 243.6,128.0 96.6,182.5 97.9,121.4 241.8,161.2 240.1,157.2 94.4,161.7 104.5,189.7 243.2,109.7 103.4,103.1 107.8,161.9 109.2,112.8 100.8,164.3 245.3,128.9 94.6,109.1 96.4,169.1 96.3,143.3 235.2,169.7 102.8,101.8 242.3,188.9 101.1,196.0 107.5,110.4 96.4,90.4 250.4,106.0 93.1,149.9 105.5,166.8 250.7,104.4 104.8,108.8 252.9,128.0 248.2,130.2 102.6,149.9 94.9,98.3 100.9,86.9 104.2,122.6 93.5,146.9 246.6,118.2 92.7,93.8 105.3,102.5 94.2,159.6 101.7,153.1 228.6,108.3 106.9,154.2 243.3,99.3 82.9,87.7 93.5,87.6 241.2,94.4 98.4,191.6 107.3,125.0 246.9,96.6 94.3,77.7 97.0,120.1 108.6,103.6 103.5,196.5 246.4,165.1 232.4,77.6 255.0,143.0 243.6,79.1 98.3,76.9 247.3,146.7 98.7,124.2 101.6,124.5 252.5,179.2 98.3,100.2 102.1,154.4 97.0,177.6 247.1,80.5 242.1,75.2 107.1,162.7 99.7,160.9 244.5,178.3 98.4,185.3 95.7,131.4 95.4,145.3 252.4,186.8 238.8,131.9 97.5,118.2 105.9,193.7 245.1,97.4 241.4,120.8 249.2,82.4 104.0,136.2 100.5,142.2 96.9,194.4 242.1,82.7 93.0,123.1 247.4,126.6 243.9,174.2 101.1,126.8 245.2,191.0 99.7,114.9 102.9,113.8 227.7,87.3 239.4,131.0 247.9,75.7 255.2,83.4 247.6,165.1 251.6,99.5 245.5,98.0 93.9,99.3 250.0,137.8 95.1,84.9 100.0,152.4 245.5,181.8 96.8,190.0 106.5,97.7 107.3,116.3 104.3,121.3 91.6,120.4 107.9,119.3 251.2,144.4 95.1,159.8 248.5,182.9 248.8,146.1 99.1,161.0 239.4,134.4 245.8,193.7 226.7,180.3 103.2,171.5 241.5,171.6 241.1,141.2 247.8,194.1 242.1,174.0 108.3,183.3 239.8,99.0 105.7,92.7 96.8,188.5 105.8,89.5 242.4,115.2 93.7,106.7 104.6,176.3 97.0,113.9 108.1,170.7 97.8,126.4 251.6,88.0 248.7,90.2 239.4,110.3 93.8,147.1 252.5,145.6 241.4,158.0 244.4,190.0 100.5,84.4 252.3,83.6 105.8,108.7 244.0,192.9 242.6,92.3 106.6,178.7 96.5,122.3 227.0,144.8 108.3,152.0 239.8,78.6 108.6,86.0 108.1,126.4 246.2,94.3 99.0,185.1 85.1,154.7 240.9,176.8 102.9,129.7 241.4,95.2 103.3,77.1 249.1,161.3 248.7,92.1 253.7,77.7 104.6,93.4 248.0,167.5 227.7,148.5 241.3,177.3 106.4,152.3 108.8,85.3 253.6,77.6 253.4,81.6 98.0,80.1 101.1,122.9 101.4,183.1 105.6,162.6 105.3,93.2 103.1,188.9 106.4,86.8 238.4,106.9 108.9,88.3 242.4,83.6 87.4,138.2 95.2,178.9 103.6,174.2 105.6,147.0 94.8,96.8 238.8,105.2 252.6,194.9 244.5,137.4 102.5,142.5 103.4,95.0 112.3,132.8 254.8,118.9 98.3,105.6 102.8,132.5 254.6,141.9 248.6,152.3 95.3,140.5 244.4,103.3 257.2,184.8 96.6,137.7 244.2,135.0 104.2,129.7 249.2,77.1 106.0,90.3 253.0,155.9 240.5,94.7 106.6,167.2 246.2,100.8 240.5,127.6 110.1,117.1 253.0,174.7 104.2,188.4 96.1,122.6 99.3,99.0 243.9,189.7 102.0,189.1 243.7,172.1 102.5,128.7 102.1,94.0 103.3,155.8 102.2,84.5 245.9,118.1 101.4,159.8 94.4,112.7 252.7,134.0 253.1,90.4 100.7,93.8 246.5,133.3 81.1,166.5 251.8,78.2 105.9,76.4 239.7,119.8 254.7,166.4 96.2,90.6 102.5,124.5 252.3,83.7 100.5,115.4 247.5,128.2 107.2,122.5 247.8,158.2 108.2,191.5 238.4,174.5 98.1,183.2 79.1,126.2 92.5,182.0 244.2,149.5 236.5,119.7 248.3,92.4 101.8,123.1 98.9,176.9 239.9,131.3 244.0,166.4 254.4,118.8 247.3,127.2 101.6,124.8 97.0,147.8 97.9,116.2 106.2,80.1 107.1,172.8 243.0,191.3 246.8,152.6 242.1,115.6 241.5,95.0 102.9,131.5 233.2,174.4 228.2,179.4 92.7,94.2 247.7,194.5 98.8,149.9 246.6,78.2 248.1,110.0 104.6,81.3 97.3,121.8 254.4,142.5 240.0,116.5 246.1,77.2 242.1,148.9 242.4,163.4 252.9,159.9 241.0,110.2 99.1,107.5 245.6,116.5 94.8,141.0 108.4,150.0 247.7,133.8 97.2,192.7 86.5,176.7 97.3,108.1 105.4,96.9 234.8,184.5 239.8,146.0 103.5,102.9 105.3,190.2 254.1,180.6 100.8,96.5 93.8,76.6 93.0,114.8 245.1,104.7 95.8,150.7 248.7,119.5 244.9,187.8 103.5,124.7 250.2,79.7 234.0,141.0 99.7,191.6 250.8,154.0 227.7,173.3 248.3,177.7 248.1,124.7 101.2,143.6 243.1,111.6 250.8,128.8 257.4,138.8 253.1,151.2 80.9,117.8 97.1,170.8 107.8,142.4 83.9,187.6 247.7,87.7 254.2,151.6 242.5,160.8 101.1,144.0 79.8,169.4 251.6,98.2 235.2,132.6 96.9,164.7 107.3,110.3 105.1,137.5 93.0,155.9 99.2,137.6 245.7,95.0 95.1,102.3 252.8,123.4 249.6,166.0 254.2,125.5 249.1,133.1 250.1,97.9 237.8,192.3 97.7,98.5 102.0,105.0 239.8,150.3 108.8,146.8 245.8,125.6 93.6,181.1 98.4,187.7 251.7,93.4 240.3,98.6 248.7,105.2 104.1,123.6 97.2,75.5 243.1,188.8 233.0,97.3 101.7,95.6 95.6,128.0 251.6,157.9 101.6,113.7 242.3,126.4 104.7,145.9 102.6,168.9 250.5,93.1 108.0,147.0 100.7,191.9 251.5,143.2 248.7,131.3 104.1,124.0 250.3,137.6 100.4,179.5 93.2,166.8 250.9,172.7 104.1,109.7 243.1,109.3 100.8,182.8 244.8,195.4 245.4,108.1 250.1,97.2 108.7,125.5 93.3,183.0 95.1,78.8 95.3,146.6 246.7,132.5 254.1,147.5 88.1,153.5 251.5,188.9 102.0,134.3 253.8,113.7 91.4,91.4 95.7,146.7 81.4,143.5 242.6,124.1 254.8,93.6 242.4,83.2 95.1,160.2 251.6,154.8 254.3,176.6 99.6,145.4 92.9,117.6 106.1,151.7 95.4,164.0 253.1,170.0 95.9,181.5 92.7,96.1 107.5,87.6 245.7,106.1 252.7,105.4 240.1,94.3 225.2,120.4 246.7,85.1 249.6,146.9 98.0,149.3 104.5,131.3 89.8,154.1 101.1,134.7 106.0,116.1 248.5,177.1 239.3,109.8 108.0,186.4 246.2,85.8 103.8,181.2 243.2,120.2 250.6,104.2 254.0,177.5 107.0,172.0 103.0,145.2 93.3,178.9 103.0,191.2 249.7,76.2 105.3,177.7 231.1,145.8 83.3,158.8 105.9,138.2 100.9,130.0 100.0,111.5 241.9,153.6 243.1,88.3 240.6,115.0 104.4,124.2 109.6,181.9 103.8,81.2 241.9,132.4 254.0,114.9 99.3,142.5 107.9,131.9 86.7,169.1 99.7,154.3 241.9,173.6 108.8,133.0 225.8,179.8 247.0,192.0 228.7,110.2 241.9,126.3 247.7,123.0 239.5,126.4 242.6,126.9 101.6,122.5 238.2,181.1 95.3,111.1 247.3,122.8 251.8,96.9 248.8,101.5 253.3,119.1 254.9,183.2 246.2,146.4 247.6,194.4 103.7,142.8 241.3,115.4 102.3,116.6 94.2,96.9 247.6,98.4 95.9,86.8 99.0,186.0 230.4,104.8 108.6,148.5 248.0,79.4 99.8,118.9 99.4,143.6 94.2,130.2 245.9,89.0 99.2,152.5 103.3,157.3 249.4,109.1 95.9,151.3 246.3,105.3 105.1,152.7 240.9,151.3 94.1,136.4 250.5,109.4 250.1,101.1 251.9,182.0 252.6,161.1 93.0,113.3 104.0,151.3 96.1,103.5 244.4,106.5 101.8,155.2 91.9,183.3 94.6,161.8 243.7,79.9 101.1,159.8 242.9,190.6 100.7,84.1 106.9,144.9 104.0,186.8 95.5,78.2 106.1,106.1 243.7,137.8 252.3,104.9 102.7,130.5 226.1,113.7 91.3,190.9 105.1,86.5 101.3,77.4 240.4,159.5 251.0,196.6 249.5,87.2 241.9,165.4 100.1,81.4 102.2,85.0 101.4,99.8 93.4,192.2 249.3,81.9 100.0,93.9 249.0,183.4 91.5,186.6 106.7,117.3 247.2,143.0 96.2,101.3 248.0,112.1 101.0,139.8 96.3,140.4 104.0,180.0 98.1,78.2 248.6,94.0 99.9,125.3 242.1,156.8 254.3,120.1 110.2,129.6 254.1,177.5 101.0,179.0 102.0,125.1 241.9,176.2 102.1,95.5 105.3,118.4 249.0,189.3 97.9,138.1 235.9,155.9 93.8,117.6 96.6,105.4 251.1,169.2 96.7,99.1 244.1,115.7 227.1,127.0 94.6,110.2 85.1,163.4 105.8,159.4 227.5,182.4 247.6,129.0 248.8,85.4 100.0,95.7 235.6,185.9 253.5,122.1 109.0,91.5 249.6,127.9 248.2,195.1 247.0,123.5 237.5,154.3 254.4,110.6 108.9,101.7 252.7,115.2 105.4,86.1 107.8,97.0 240.0,129.0 247.3,79.6 236.2,188.3 250.5,121.7 96.6,152.1 239.6,77.5 97.8,110.0 250.7,97.7 257.8,97.4 84.0,150.8 226.3,96.2 246.3,150.3 86.4,159.9 110.9,135.9 239.6,125.0 242.3,190.0 251.1,138.8 99.4,156.0 101.3,192.4 83.0,91.6 98.9,81.4 108.0,106.3 239.4,92.5 98.7,175.1 248.3,94.5 230.5,142.2 94.2,158.6 106.3,183.0 95.9,159.8 248.0,180.2 246.6,113.9 104.5,122.1 245.9,149.6 251.4,168.7 108.1,145.3 95.7,85.0 98.7,191.5 101.3,91.6 243.0,183.3 249.3,192.4 105.1,194.6 106.6,110.9 105.0,84.7 247.5,153.4 243.0,109.5 241.2,115.2 254.5,180.2 241.1,112.7 99.8,158.7 243.2,141.4 254.9,155.2 242.7,158.4 248.2,154.1 94.6,128.1 95.8,114.7 105.4,193.6 94.6,127.5 82.4,186.3 79.5,126.4 107.7,94.2 230.1,83.9 94.6,131.9 240.8,100.9 96.0,87.2 107.2,162.7 245.4,111.7 104.3,115.8 249.2,160.1 102.1,171.5 85.9,82.0 248.0,187.5 96.6,107.4"/>
<polyline fill="none" stroke="none" marker-start="url(#mr)" marker-mid="url(#mr)" marker-end="url(#mr)" points="103.0,146.8 101.3,129.3 101.0,125.2 108.7,140.4 102.4,115.4 107.5,154.1 108.8,113.3 106.9,125.1 101.2,133.7 102.2,154.0 100.8,127.9 100.9,144.2 104.0,133.5 107.9,138.3 104.2,150.8 104.9,152.6 105.5,144.5 104.4,116.3 104.9,151.5 106.5,155.2 101.8,150.8 100.9,111.6 99.7,120.6 101.5,147.2 104.2,151.4 102.8,117.9 102.1,119.9 106.7,154.4 104.5,136.5 104.7,143.2 107.3,149.1 103.6,134.2 103.8,118.5 100.0,149.0 103.5,119.0 99.7,112.1 103.4,137.4 108.1,146.1 103.2,138.1 99.5,118.5 103.5,138.3 105.8,153.5 102.8,129.2 100.7,123.9 101.1,149.1 105.3,147.4 99.9,133.0 105.6,121.2 104.4,112.9 105.5,138.8 105.5,112.9 104.5,127.8 101.5,156.6 104.3,143.7 104.0,152.2 100.9,133.4 106.0,119.0 100.7,133.6 104.5,151.3 105.5,121.9 102.5,149.5 100.9,125.4 102.4,138.8 106.2,118.1 103.5,150.8 105.6,150.8 107.5,135.3 101.9,125.7 104.4,152.8 102.0,147.3 101.8,122.0 99.8,129.2 107.1,130.2 105.3,115.1 102.3,135.1 99.4,123.9 107.1,115.7 106.9,140.4 101.5,119.2 105.7,137.2 102.6,148.3 104.5,153.9 102.6,131.5 107.3,125.2 106.6,147.1 105.6,138.8 107.6,119.0 108.5,151.1 102.6,111.1 108.9,152.3 105.4,156.0 100.8,125.1 103.1,118.7 101.0,150.8 104.2,129.9 103.2,143.4 106.0,129.5 100.3,126.0 102.2,119.3 104.9,155.2 104.9,113.4 100.6,154.2 108.7,128.5 103.7,123.4 105.8,152.9 104.9,143.7 99.4,150.8 104.6,112.9 102.5,145.1 101.3,148.1 105.2,140.7 107.9,153.0 102.3,117.4 106.0,145.6 101.9,129.8 107.5,118.7 100.2,154.4 99.4,120.8 99.5,131.9 106.0,121.2 100.5,134.2 101.4,137.3 103.4,123.2 107.1,123.2 104.7,112.8 107.7,119.5 105.6,156.9 101.4,143.1 100.0,153.6 105.6,143.7 99.7,128.7 105.0,122.8 106.5,137.2 101.3,151.0 105.5,122.5 102.7,141.9 105.4,131.0 105.7,113.8 101.5,115.4 105.9,144.3 106.1,140.1 102.5,134.4 103.4,117.7 107.1,117.2 102.0,145.3 107.6,115.5 106.7,122.1 108.1,115.6 108.8,123.9 101.8,149.3 102.5,118.5 102.2,154.2 104.6,133.5 104.7,116.1 104.7,143.9 99.3,119.6 108.2,133.8 101.8,139.2 103.1,113.4 108.5,127.0 103.8,127.7 107.1,127.7 102.5,131.9 108.6,152.6 99.8,154.0 105.0,117.7 102.4,142.1 108.3,147.1 102.6,133.4 106.7,138.3 104.4,113.7 100.9,117.2 101.5,143.1 104.6,133.1 104.6,118.6 100.9,139.5 108.6,119.7 104.4,120.4 99.9,156.3 106.8,148.3 105.6,114.2 102.7,156.5 103.9,143.8 108.5,143.9 101.0,153.1 106.4,122.1 99.7,125.9 103.4,122.5 103.0,132.2 101.4,152.1 105.5,155.0 105.2,119.7 99.9,124.5 104.6,151.2 107.1,153.6 106.6,134.8 102.7,118.1 99.4,147.0 105.2,123.3 100.5,112.0 103.7,122.2 107.5,114.2 104.0,132.4 105.7,120.2 105.0,122.4 103.1,121.4 107.2,134.8 99.5,133.2 107.4,115.9 107.4,141.9 106.5,145.1 99.6,130.0 107.3,143.3 106.6,139.5 103.0,149.5 100.6,150.4 107.3,133.3 105.0,144.1 99.5,118.4 107.0,124.3 103.2,146.6 105.9,113.6 103.1,121.5 103.6,129.1 102.8,147.0 103.9,140.2 101.3,125.2 103.8,138.8 103.4,147.0 102.8,122.0 102.2,133.0 107.5,145.3 101.4,155.5 107.8,140.6 104.3,151.2 105.8,139.2 99.7,135.2 107.4,130.4 108.3,128.3 103.4,148.0 103.5,120.1 105.3,115.2 100.3,139.8 104.4,116.5 103.3,111.8 107.5,150.3 100.1,127.4 101.7,141.1 104.2,136.8 107.6,137.5 104.8,144.7 101.5,145.3 108.2,139.4 108.1,125.6 102.3,137.3 99.9,135.2 100.3,138.3 108.4,111.9 102.5,111.8 102.6,126.7 99.3,117.7 105.3,133.4 105.9,127.5 106.1,140.6 106.7,124.8 104.0,114.4 102.4,134.2 107.2,153.8 106.4,124.0 103.2,145.7 107.9,154.2 102.9,126.4 106.5,134.2 107.4,131.2 100.7,129.0 104.6,144.0 102.9,155.9 100.7,129.2 101.2,118.6 107.6,153.3 108.5,136.8 99.7,112.8 101.6,155.0 102.5,154.7 102.9,112.9 106.8,144.6 104.9,136.4 106.0,119.0 102.6,129.2 100.5,139.9 104.6,118.0 107.6,114.8 102.9,120.2 106.6,119.5 99.9,148.7 102.8,145.5 106.2,151.2 102.6,148.1 104.3,148.9 102.0,116.1 105.4,153.4 102.3,136.8 104.9,114.8 105.2,147.3 102.3,111.5 102.6,130.2 105.1,119.2 99.8,152.1 104.6,130.8 106.8,115.1 105.9,149.7 103.1,129.6 108.2,118.2 105.4,133.9 104.1,140.5 104.9,142.0 101.7,146.0 103.6,122.7 100.8,145.8 108.1,151.4 106.9,155.5 108.6,135.8 106.3,114.8 99.6,116.1 105.3,154.9 103.9,153.3 101.2,143.1 105.4,117.3 102.3,144.1 104.4,143.5 104.1,149.2 105.0,137.6 107.3,150.5 105.5,156.9 105.4,151.3 104.4,148.7 102.7,130.5 105.8,153.1 107.5,151.5 105.5,153.3 108.8,118.2 102.0,126.0 103.8,149.2 107.8,140.2 99.9,129.0 105.9,151.0 100.7,151.0 107.0,147.8 105.5,157.0 106.4,131.3 108.7,135.0 108.6,137.2 106.7,143.4 99.5,116.6 107.8,113.4 103.5,136.2 107.6,121.1 102.5,150.1 103.5,145.3 100.7,143.8 104.0,155.2 103.4,128.6 102.3,120.4 105.4,118.3 102.3,134.2 107.5,120.9 100.8,153.6 106.2,128.5 100.1,125.7 101.1,114.4 102.4,128.9 106.3,155.8 101.8,121.9 101.4,119.3 106.2,137.1 100.9,130.6 103.1,133.4 106.5,149.8 107.2,134.1 106.5,156.5 108.4,135.0 107.4,117.8 104.0,133.0 103.7,137.6 108.3,126.5 103.2,149.3 104.3,136.2 108.0,111.0 103.5,148.0 104.3,126.8 100.3,142.5 105.2,117.0 99.3,135.3 104.6,146.5 105.1,112.5 106.0,126.1 106.1,141.6 107.0,123.8 103.5,130.4 103.7,126.8 99.9,120.8 103.3,121.7 104.7,127.3 105.5,120.7 104.8,137.7 108.3,146.0 107.7,135.4 104.6,112.6 104.1,131.7 100.0,130.7 104.0,133.0 108.9,114.7 104.4,125.4 102.5,131.2 107.9,151.3 100.9,124.7 105.1,143.0 105.1,123.2 105.8,133.2 103.7,153.4 101.9,150.5 105.9,142.7 102.7,125.4 105.9,137.1 100.0,117.3 106.0,112.1 104.0,116.1 105.9,124.7 105.3,127.8 107.2,112.7 108.7,143.6 99.4,114.6 103.9,152.3 102.7,111.0 107.0,118.5 101.6,146.7 104.9,151.6 107.1,112.0 105.3,147.2 104.8,147.1 106.0,135.3 107.6,142.8 101.7,137.3 107.9,140.9 107.8,115.4 101.5,127.2 105.0,120.4 100.2,144.2 103.8,119.6 108.6,111.9 105.9,152.6 106.4,132.6 101.6,141.3 100.8,154.9 104.4,129.0 103.7,155.6 100.4,144.4 100.7,122.9 101.7,142.1 105.4,124.0 104.3,148.8 99.8,130.6 102.7,146.3 107.5,148.9 103.0,152.3 106.6,135.8 108.0,114.4 102.5,145.4 105.6,155.2 107.7,140.9 103.4,130.5 108.4,123.0 101.7,111.6 100.1,149.6 102.3,128.3 108.4,122.2 107.7,127.1 107.4,154.8 104.4,152.5 102.4,123.6 106.7,145.3 108.3,132.5 108.1,113.2 108.5,120.8 105.9,153.6 107.6,137.6 106.6,130.9 105.6,119.2 100.7,147.7 104.5,149.2 99.9,119.0 106.3,134.9 100.7,143.4 104.5,122.5 101.7,140.3 108.8,127.2 101.4,140.8 105.9,142.0 103.4,148.7 102.0,149.7 108.1,155.6 104.4,121.4 105.8,112.5 106.5,124.4 107.7,112.9 108.3,130.9 102.3,138.0 108.8,150.9 103.5,134.0 100.5,138.0 101.1,114.9 103.8,113.8 102.8,135.9 107.2,125.6 105.8,125.0 102.5,125.6 103.4,114.5 104.4,152.2 103.3,139.0 104.6,136.4 255.9,114.9 253.3,140.6 251.9,135.4 249.7,122.3 251.7,128.9 252.2,146.2 251.9,136.8 246.1,131.7 249.9,125.0 249.3,129.6 251.7,143.8 253.0,141.9 245.7,151.7 253.4,121.2 255.1,150.8 247.2,114.8 246.0,150.3 245.9,148.1 249.9,132.8 248.4,142.7 255.9,138.8 250.0,134.2 251.0,135.9 248.7,145.0 250.4,126.0 250.6,145.0 252.5,132.4 256.0,115.2 250.4,127.0 255.6,154.4 250.3,157.0 254.3,131.1 252.0,149.1 247.8,140.7 246.7,146.6 252.9,127.1 251.8,140.4 251.1,134.1 247.3,156.2 254.3,136.9 247.4,115.7 254.4,155.7 252.1,112.3 249.0,136.0 247.8,113.8 252.4,153.3 247.1,130.4 255.3,116.7 248.0,113.0 255.6,126.2 246.4,130.2 249.6,153.3 247.3,127.6 247.4,142.0 246.8,135.8 250.4,153.0 253.8,131.1 245.7,142.2 248.3,150.7 249.0,118.8 250.8,157.8 254.5,153.5 252.4,115.5 249.2,150.1 247.1,142.7 255.3,135.2 249.8,115.5 253.7,124.7 246.6,126.4 248.9,114.6 255.1,156.4 249.3,151.3 249.2,128.7 246.7,152.3 245.5,122.6 251.9,134.8 253.9,144.5 249.5,155.9 252.0,134.0 252.7,126.8 247.1,146.5 248.3,151.8 245.9,124.6 253.5,117.6 247.9,147.1 250.9,148.6 254.5,134.5 246.7,143.7 248.6,146.3 246.3,136.6 248.3,111.3 246.9,134.0 246.0,156.9 255.3,118.0 246.0,112.7 254.6,118.8 251.5,124.5 249.7,157.1 253.1,150.1 251.9,140.4 249.5,152.6 252.8,139.3 246.3,149.0 254.3,138.8 248.6,136.5 247.9,144.7 251.6,136.3 250.7,116.2 255.2,115.7 249.2,127.4 251.5,147.2 248.0,126.9 251.6,147.8 250.9,154.6 250.6,131.9 250.6,121.0 245.9,138.4 253.7,134.9 249.4,130.0 247.0,117.2 254.2,113.6 247.9,126.5 253.6,150.1 254.5,143.7 254.2,137.4 254.3,131.7 250.6,155.4 249.3,130.0 246.4,142.1 254.9,129.0 253.5,147.2 253.7,127.2 245.7,144.7 251.9,146.7 245.7,149.7 245.5,131.1 250.0,130.7 251.0,144.8 253.9,158.0 248.4,130.2 250.3,141.0 255.0,148.9 252.1,119.2 246.5,154.2 254.0,129.1 252.2,124.1 253.5,131.6 254.9,155.0 252.9,133.1 254.0,156.9 249.1,129.7 247.4,148.6 247.7,147.4 255.4,140.6 246.9,137.0 246.7,130.2 246.9,131.0 252.8,122.4 249.4,118.5 247.4,157.6 254.8,146.5 246.9,139.3 251.4,139.6 255.4,116.6 248.5,133.3 247.2,143.3 248.4,111.4 247.6,135.8 254.9,138.2 250.0,150.1 254.0,127.4 253.1,153.2 252.0,154.9 251.1,143.6 250.7,144.6 247.0,120.4 248.5,130.4 250.6,157.3 251.8,147.4 252.5,131.1 252.4,149.9 247.5,123.5 253.6,126.3 246.9,135.2 255.1,113.8 254.9,139.1 249.8,140.3 245.5,130.4 250.7,139.7 255.1,154.6 254.9,126.2 254.7,123.4 246.2,156.0 251.0,116.4 254.4,113.9 253.4,129.1 253.1,118.9 253.0,156.0 248.1,117.8 250.9,133.5 252.4,123.7 252.2,155.0 245.4,116.4 255.4,127.3 249.6,127.0 254.9,149.5 248.3,143.8 246.6,133.0 253.3,135.0 251.0,132.4 252.4,113.4 245.8,139.0 250.2,133.4 254.2,132.8 251.0,149.1 248.8,144.0 248.6,157.5 254.0,133.2 252.6,123.3 246.2,128.4 253.6,156.1 248.9,125.0 255.8,156.2 252.4,119.0 253.5,138.0 246.8,117.7 254.6,128.0 251.4,146.1 252.9,131.7 248.3,121.3 249.1,144.0 255.5,128.4 249.8,150.2 254.9,113.2 249.5,122.6 251.8,154.5 251.5,140.9 251.4,124.6 253.2,139.2 246.2,140.3 247.1,148.1 253.1,153.8 252.1,113.4 254.6,146.0 254.3,130.6 252.0,135.7 255.5,141.5 250.1,114.1 247.1,123.8 250.2,152.9 252.8,115.8 256.0,121.7 247.3,128.9 249.1,149.7 253.3,127.3 247.2,133.2 247.9,113.5 254.7,130.3 254.8,145.2 249.9,141.4 254.1,148.9 254.0,131.7 252.0,147.6 252.1,138.6 246.7,147.4 247.6,133.3 247.2,144.2 250.7,147.2 252.3,121.3 248.4,130.9 245.5,113.3 246.8,131.2 254.8,115.8 246.1,129.9 251.0,113.0 251.1,133.6 247.4,121.0 250.3,147.5 252.5,146.1 252.6,113.5 253.9,112.8 247.1,135.0 245.9,146.8 251.8,156.8 254.1,143.5 248.8,124.8 255.6,136.0 256.0,121.3 253.7,153.1 245.9,139.9 251.4,139.0 252.7,122.1 254.9,150.6 246.2,137.5 254.2,153.4 248.0,118.6 252.7,141.7 250.0,153.5 246.4,151.5 255.9,113.9 255.6,154.7 253.4,147.2 255.1,147.5 245.7,148.7 250.3,128.1 247.2,143.0 253.2,156.5 254.7,114.2 246.0,150.6 249.7,119.8 250.8,114.0 249.3,142.4 249.3,127.2 254.0,156.9 254.1,127.1 250.1,153.7 251.5,111.9 248.6,132.5 249.9,148.8 252.9,145.4 251.2,141.6 245.8,127.3 245.6,149.1 246.0,121.9 246.8,124.6 255.4,145.0 252.5,149.0 246.9,120.8 253.3,147.1 252.2,128.0 246.7,138.5 252.0,112.3 255.5,140.0 246.5,132.6 254.4,122.6 252.7,113.4 246.1,128.3 247.2,147.5 250.4,119.6 255.1,145.0 247.1,122.4 255.5,119.2 245.8,129.3 254.7,147.3 245.3,119.3 250.4,136.8 252.3,121.9 252.1,121.1 247.3,119.0 255.6,143.6 248.9,146.8 251.4,133.3 245.7,140.9 248.5,132.5 249.4,121.0 252.4,143.0 253.3,137.7 253.4,117.8 246.8,112.2 254.5,156.1 249.5,117.4 249.1,139.7 250.5,139.0 245.5,141.9 245.5,156.3 253.7,124.3 246.8,154.7 247.0,126.4 247.5,152.9 255.4,141.3 252.5,131.4 251.1,120.5 254.7,151.9 250.4,138.8 250.2,152.3 248.1,113.3 247.1,155.1 252.3,113.0 246.3,119.5 252.4,149.1 252.8,151.8 251.8,137.0 251.7,152.6 250.3,126.7 249.6,129.0 253.9,155.8 255.2,124.2 249.4,150.6 248.8,135.5 248.8,113.8 247.4,153.7 254.6,111.3 250.9,156.6 249.7,122.6 249.6,124.6 255.8,115.8 249.8,144.1 252.2,143.7 250.1,119.5 246.6,116.8 245.6,119.4 252.9,125.8 251.3,121.6 245.4,129.0 248.5,143.0 252.4,136.8 245.5,147.9 252.5,124.6 245.4,147.1 248.5,155.9 249.9,116.6 251.1,113.8 254.4,137.5 251.7,151.1 245.5,153.3 249.0,131.4 248.6,125.5 255.1,137.1 246.4,124.5 247.1,146.6 247.1,150.3 251.5,126.9 254.3,149.5 247.7,135.4 255.5,111.3 245.5,136.7 253.7,136.0 253.3,132.3 245.8,123.9 248.8,118.9 245.7,142.9 247.2,127.8 253.9,115.7 254.8,154.2 246.6,133.0 251.2,150.8 248.5,112.9 250.7,119.6 250.2,145.9 254.5,127.0 248.5,150.5 253.3,144.5 249.3,132.7 252.5,115.3 249.5,139.6 254.9,126.8 256.0,136.6 249.1,116.1 250.7,141.2 251.8,125.8 246.9,155.7 256.0,126.5 251.9,141.0 248.2,124.2 246.1,138.0 246.8,136.2 249.8,119.3 252.4,153.3 251.8,143.2 254.9,123.7 254.7,124.6 250.8,142.9 252.9,153.1 246.8,135.6 252.2,127.9 252.1,152.9 255.0,128.4 254.8,143.6 249.0,114.7 251.5,125.7 255.2,157.4 249.8,138.9 248.8,121.0 250.8,156.0 254.7,145.0 252.3,123.4 247.6,148.0 251.1,140.8 253.9,123.0 248.4,137.5 248.8,135.7 249.9,148.4 254.0,125.7 251.2,148.5 252.7,154.1 255.5,144.6 253.7,121.2 249.6,134.2 246.7,136.0 249.3,115.0 254.7,136.9 251.8,120.8 250.1,124.8 253.6,114.4 250.8,150.4 252.7,118.7 249.5,124.5 251.1,130.0 245.6,131.5 251.2,140.5 247.4,117.4 248.2,115.3 249.4,142.2 248.7,140.6 251.0,124.0 252.4,148.5 255.8,134.6 248.6,133.1 254.1,141.7 250.4,114.8 253.9,137.5 248.3,135.6 251.3,118.7 256.0,147.4 248.5,123.2 255.6,130.9 248.7,149.6 247.0,118.0 250.7,113.0 254.0,151.0"/>
</g>
<g fill="#000" transform="translate(20.2 207.4) rotate(-90) scale(1 1.06)"><text x="0.00" y="0.00" font-size="17.5" font-weight="bold" font-style="italic">B</text><text x="12.40" y="0.00" font-size="16">(</text><text x="16.10" y="0.00" font-size="16">D</text><text x="26.90" y="-6.90" font-size="12">0</text><path d="M34.90 -5.00H50.20M45.30 -9.20L50.60 -5.00L45.30 -0.80" fill="none" stroke="#000" stroke-width="1.05" stroke-linejoin="miter"/><text transform="translate(51.30 0.00) scale(0.620 1)" font-size="16">K</text><text x="59.60" y="4.70" font-size="12">1</text><text x="67.60" y="0.00" font-size="16">(</text><text x="75.40" y="0.00" font-size="15.8">1270</text><text x="106.30" y="0.00" font-size="16">)</text><text x="117.10" y="-8.70" font-size="9.7">&#8722;</text><text x="121.66" y="0.00" font-size="16.5">e</text><text x="130.30" y="-7.60" font-size="12">+</text><text transform="translate(136.90 0.00) scale(1.100 1)" font-size="16.5" font-weight="bold">&#957;</text><text x="144.03" y="4.60" font-size="12">e</text><text x="149.60" y="0.00" font-size="16">)</text><text x="156.40" y="0.00" font-size="16">(</text><text x="161.50" y="0.00" font-size="17.5">&#215;</text><text x="171.66" y="0.00" font-size="17.5">10</text><text x="189.20" y="-6.60" font-size="11.5">-</text><text x="192.95" y="-6.40" font-size="13">3</text><text x="198.80" y="0.00" font-size="16">)</text></g>
<text transform="translate(190.3 244.0) scale(1.2 1)" font-size="19" fill="#000">&#952;</text>
<text x="200.9" y="249.2" font-size="12" font-weight="bold" fill="#000">K1</text>
<text text-anchor="middle" x="203.4" y="271.2" font-size="18" font-weight="bold" fill="#0000ff" word-spacing="0.4">( a<tspan dy="3.6" font-size="12">1</tspan><tspan dy="-3.6"> )</tspan></text>
</g>
<g id="a2">
<rect class="fr" x="438.50" y="8.50" width="290.50" height="201.80"/>
<text class="t" text-anchor="middle" transform="translate(438.8 223.4) scale(0.925 1)">-180</text>
<text class="t" text-anchor="middle" transform="translate(487.2 223.4) scale(0.925 1)">-120</text>
<text class="t" text-anchor="middle" transform="translate(535.6 223.4) scale(0.925 1)">-60</text>
<text class="t" text-anchor="middle" transform="translate(584.0 223.4) scale(0.925 1)">0</text>
<text class="t" text-anchor="middle" transform="translate(632.5 223.4) scale(0.925 1)">60</text>
<text class="t" text-anchor="middle" transform="translate(680.9 223.4) scale(0.925 1)">120</text>
<text class="t" text-anchor="middle" transform="translate(729.3 223.4) scale(0.925 1)">180</text>
<text class="t" text-anchor="end" transform="translate(434.7 214.1) scale(0.92 1)">0</text>
<text class="t" text-anchor="end" transform="translate(434.7 146.8) scale(0.92 1)">1</text>
<text class="t" text-anchor="end" transform="translate(434.7 79.6) scale(0.92 1)">2</text>
<text class="t" text-anchor="end" transform="translate(434.7 12.3) scale(0.92 1)">3</text>
<path class="tk" d="M486.92 210.30v-3.4M486.92 8.50v3.4M535.33 210.30v-3.4M535.33 8.50v3.4M583.75 210.30v-3.4M583.75 8.50v3.4M632.17 210.30v-3.4M632.17 8.50v3.4M680.58 210.30v-3.4M680.58 8.50v3.4M438.50 143.03h3.4M729.00 143.03h-3.4M438.50 75.77h3.4M729.00 75.77h-3.4"/>
<g clip-path="url(#ca2)">
<polyline fill="none" stroke="none" marker-start="url(#mg)" marker-mid="url(#mg)" marker-end="url(#mg)" points="502.4,154.1 661.6,158.1 502.5,184.0 624.1,203.1 628.2,204.3 504.0,183.2 670.6,115.2 531.0,106.5 658.4,168.3 683.1,112.7 678.1,115.0 668.7,142.1 640.3,188.6 632.0,199.2 639.0,197.8 539.2,124.1 629.7,194.9 537.7,142.5 498.1,184.1 638.3,180.4 522.0,132.9 504.5,184.2 522.7,124.4 542.3,122.4 625.2,202.7 653.4,179.8 511.5,145.3 512.6,171.7 691.3,140.8 681.6,75.2 658.7,173.4 490.2,183.7 681.5,125.0 680.1,121.9 670.3,151.9 498.5,177.6 655.2,160.5 644.5,177.8 487.6,193.9 506.8,151.4 510.7,151.7 514.0,156.1 507.8,176.1 536.7,141.2 522.3,101.3 510.9,133.9 650.3,165.4 678.7,95.3 510.3,178.0 499.0,157.4 637.2,195.2 618.3,207.5 626.9,202.6 508.2,179.1 499.1,187.5 681.8,148.3 526.0,120.0 514.0,152.5 531.0,127.5 637.3,197.3 655.9,158.7 638.1,187.1 538.0,95.0 631.4,194.4 507.2,175.7 685.5,149.0 635.8,183.4 485.6,205.4 686.7,140.2 510.0,142.4 508.3,131.0 513.5,158.8 613.2,209.2 488.5,203.0 483.6,203.2 506.5,156.1 512.0,156.8 678.3,99.0 507.1,158.6 689.7,139.4 479.2,208.6 679.5,124.5 503.3,182.6 507.4,176.1 478.9,202.5 664.6,113.5 689.0,81.2 533.3,82.4 663.9,122.8 647.2,154.5 623.8,202.3 649.4,174.4 666.7,163.8 670.2,132.5 665.3,145.1 479.2,203.8 664.0,155.1 482.3,198.3 646.5,171.4 637.2,182.9 684.7,157.0 493.9,178.8 545.3,123.5 503.3,185.9 495.4,168.1 679.1,109.2 659.0,132.4 538.6,86.5 533.0,147.1 645.4,185.4 633.3,197.4 647.3,163.4 687.8,105.7 484.9,198.1 524.5,155.2 484.4,200.8 686.3,101.4 486.6,192.5 631.4,197.0 647.6,179.9 642.2,175.1 519.1,160.1 537.4,99.6 630.7,203.7 689.7,133.3 682.3,148.5 502.4,186.0 482.8,199.5 498.0,190.9 515.5,160.8 654.3,144.8 520.8,98.4 663.9,106.3 625.4,205.1 627.8,204.5 673.8,104.9 690.1,134.3 688.1,83.5 520.0,154.8 521.5,158.7 528.1,100.1 528.3,104.1 624.0,203.0 514.3,136.2 496.3,190.0 656.2,162.6 498.7,182.1 536.6,136.4 513.9,152.0 490.0,192.4 634.8,183.6 657.5,151.2 538.1,101.2 696.4,129.9 685.7,153.4 508.2,150.0 521.5,104.8 641.9,172.6 639.3,188.0 624.7,207.5 636.1,184.5 624.4,201.9 513.4,166.8 506.3,182.4 691.1,128.3 624.9,203.3 520.3,132.1 538.7,114.5 653.2,136.6 484.7,202.0 483.8,201.2 521.7,121.3 683.3,126.3 508.0,138.1 495.1,194.2 531.4,81.7 646.3,186.4 495.3,181.9 512.3,161.1 624.1,202.6 638.3,176.6 503.9,185.4 653.6,153.9 491.6,178.3 528.4,124.5 635.3,189.4 520.4,134.9 671.8,93.5 625.9,203.1 662.4,127.8 627.0,201.6 682.3,110.1 544.5,138.4 511.7,172.0 516.1,147.1 664.9,132.4 654.7,173.7 495.7,176.9 645.4,178.0 637.2,193.7 685.9,68.6 479.3,205.2 668.8,114.6 655.7,150.7 507.2,147.2 536.2,152.4 487.9,199.5 652.9,179.5 505.1,164.3 660.0,124.7 547.0,150.3 532.0,131.9 672.7,158.6 505.4,184.0 498.1,159.2 643.7,183.6 520.6,102.5 662.2,157.9 685.1,127.7 481.6,204.0 688.5,133.7 612.9,209.6 496.4,188.6 634.7,191.9 493.7,188.9 545.3,122.0 650.8,155.3 502.3,165.9 543.9,141.9 517.2,127.5 635.5,184.4 500.8,183.4 495.2,171.3 625.9,201.5 491.7,186.0 657.4,122.4 683.3,123.9 626.3,203.3 692.9,91.0 620.7,209.1 651.6,182.6 524.6,100.1 478.4,202.3 649.9,146.3 483.9,194.6 662.1,135.0 501.6,181.5 510.6,151.9 631.9,195.6 683.4,153.2 643.7,193.0 684.8,99.8 645.1,163.2 652.3,176.9 509.5,175.3 626.7,199.6 489.7,193.1 637.5,192.7 653.9,178.5 490.2,195.1 525.6,141.7 542.8,117.7 510.7,135.4 641.5,189.0 504.2,148.6 520.2,106.7 647.8,151.3 628.8,197.1 645.6,163.0 652.2,161.1 649.1,164.3 498.6,159.3 532.6,100.3 654.0,157.2 510.4,136.3 664.8,124.5 487.1,197.1 505.9,166.7 687.0,90.5 532.9,108.5 650.4,176.8 515.2,106.4 528.0,71.8 670.8,154.4 670.6,95.9 633.1,198.9 487.6,196.8 641.7,192.0 510.0,174.0 647.9,160.2 687.8,122.9 646.2,185.9 519.9,147.6 633.4,197.0 672.4,155.2 494.1,196.7 496.0,172.8 654.2,170.4 490.6,181.4 625.9,203.3 487.9,187.6 547.6,145.5 682.6,105.6 676.9,104.0 512.5,151.8 639.0,183.9 490.3,197.9 529.4,114.3 498.6,172.8 649.4,163.2 549.4,133.1 550.4,127.3 528.8,107.9 539.9,114.3 510.7,164.5 517.6,123.2 492.3,182.8 490.4,191.9 646.2,170.8 631.6,198.2 675.4,72.8 672.4,130.3 529.0,105.5 534.1,102.0 507.8,153.7 498.4,181.5 631.8,195.3 522.6,160.5 687.3,79.4 668.6,165.8 660.2,172.3 523.1,104.6 497.0,180.1 653.9,145.4 675.2,141.1 539.7,86.4 677.3,126.4 495.3,169.7 492.5,193.2 671.9,161.3 662.6,114.7 483.6,202.1 685.8,106.4 668.3,126.0 690.9,73.6 643.1,191.3 477.2,206.3 634.9,195.8 690.3,72.6 672.7,154.2 497.2,163.0 501.1,183.0 533.6,152.2 674.7,141.9 534.3,80.1 495.0,167.6 665.3,166.8 651.7,162.9 528.7,80.2 548.3,129.9 680.5,109.2 518.4,129.4 642.9,164.8 488.8,197.7 650.2,153.0 682.5,109.4 482.8,205.7 659.4,140.1 623.8,203.9 624.5,204.3 664.6,130.6 481.0,201.0 646.5,156.1 672.1,141.2 498.4,165.6 497.5,159.3 652.2,157.1 523.6,84.6 685.3,118.2 660.2,148.9 509.2,142.4 489.8,183.6 659.0,162.3 625.5,206.0 494.9,178.9 670.7,101.7 672.5,110.4 679.5,144.0 627.4,201.9 646.2,180.9 528.7,148.5 533.4,114.0 669.5,151.9 527.9,117.3 645.0,173.8 682.9,110.7 527.8,75.3 677.7,122.4 647.8,160.3 502.3,167.0 658.8,143.8 500.6,166.0 648.6,179.6 648.0,163.5 485.2,196.0 687.0,147.6 650.6,144.1 538.7,150.0 634.8,188.4 698.4,145.5 658.4,155.5 659.9,152.5 527.3,99.8 636.2,199.1 544.0,152.1 627.0,199.1 652.5,153.8 621.0,206.4 641.5,182.7 542.8,125.1 496.1,173.8 636.8,182.3 669.8,103.2 673.8,138.7 673.5,106.1 624.0,203.0 647.8,154.7 502.3,170.3 669.5,99.2 624.4,201.3 662.7,165.1 661.8,121.8 523.4,154.3 512.0,172.2 656.7,177.0 477.9,203.4 496.5,189.1 516.6,130.7 539.8,152.0 473.6,209.1 654.6,159.6 510.7,173.0 484.2,199.2 684.2,143.3 648.1,160.6 516.4,142.4 637.7,185.0 499.6,186.7 502.5,157.6 532.9,103.8 631.1,199.8 524.8,114.9 494.8,172.9 629.9,195.1 678.2,149.7 528.0,152.2 492.4,193.4 499.5,152.7 537.6,95.1 515.1,152.9 505.4,176.9 505.8,158.4 520.3,153.1 664.9,102.3 481.6,198.8 534.0,132.1 535.7,110.2 538.4,84.8 630.1,194.3 489.0,188.8 667.0,117.5 647.5,157.5 650.8,161.5 646.0,164.4 487.8,190.6 499.2,188.1 540.2,128.3 659.0,151.7 485.0,197.1 479.1,201.3 678.2,105.7 515.3,132.3 658.3,136.2 648.2,159.1 539.0,100.5 510.1,130.2 679.9,102.3 488.7,189.1 644.2,190.0 491.3,196.1 519.4,123.6 663.3,148.7 513.4,104.7 514.1,144.7 501.8,152.7 648.2,152.5 544.2,105.1 501.6,183.7 658.4,132.4 684.4,148.3 526.4,95.3 669.8,143.4 533.9,118.6 681.3,95.5 515.4,133.8 644.8,188.3 671.3,118.1 675.2,82.7 480.1,201.4 659.7,157.5 523.3,138.7 665.5,109.8 546.4,119.7 633.2,190.6 663.8,107.2 647.4,161.9 526.8,75.1 676.1,98.1 654.0,149.7 541.5,127.9 645.4,157.5 503.3,171.2 500.0,187.6 667.0,106.8 644.5,172.8 663.2,143.6 509.2,170.6 619.4,208.5 665.0,127.2 484.5,196.1 625.7,203.2 677.9,105.6 663.7,108.4 501.8,186.9 521.6,156.1 685.0,106.7 641.0,174.5 545.2,117.1 651.6,175.6 515.1,154.7 510.0,120.6 637.6,200.1 472.9,207.1 492.2,187.7 486.7,204.5 663.8,145.2 635.0,189.2 515.6,138.0 624.0,202.6 618.0,209.5 496.0,183.6 638.2,195.2 668.0,106.3 497.6,190.0 649.5,172.4 480.9,204.4 509.0,172.1 627.7,200.9 661.4,116.5 663.2,169.1 633.2,192.9 688.9,103.0 640.9,189.9 510.7,157.6 682.0,98.8 488.2,186.7 649.7,183.3 542.7,114.4 524.2,117.2 535.4,93.7 671.4,164.3 662.5,149.6 503.2,169.5 473.6,209.1 476.1,207.8 668.9,123.1 511.7,131.7 527.5,136.1 636.3,191.5 670.6,127.1 670.6,140.4 515.7,136.8 499.9,176.1 503.0,162.1 511.3,175.2 673.3,80.8 696.0,134.9 646.5,174.2 545.3,155.8 517.5,149.8 666.7,120.0 618.0,205.6 539.1,118.1 690.0,113.1 618.6,208.3 656.4,169.3 663.5,117.0 518.1,156.6 499.5,177.3 684.5,152.9 509.5,171.4 520.3,127.2 650.8,182.1 670.2,128.5 538.7,92.4 690.6,103.8 689.2,95.9 539.3,154.7 665.4,150.8 508.1,173.5 643.3,182.5 665.0,142.0 627.3,206.0 666.1,119.5 530.0,106.6 646.7,155.0 521.1,104.7 670.5,158.4 522.5,148.6 502.4,181.8 648.6,168.8 495.8,189.9 515.1,163.1 539.1,117.0 673.9,107.4 642.2,193.0 640.0,183.4 662.7,162.8 635.2,186.4 628.9,204.5 497.1,192.5 501.4,157.2 515.4,139.1 618.8,207.6 487.9,197.0 691.5,100.3 678.8,114.7 626.4,200.9 501.4,182.3 487.4,189.4 675.1,158.9 656.6,155.8 645.3,169.7 502.9,158.8 488.5,187.6 631.9,192.9 521.9,140.0 510.2,161.0 654.0,178.5 620.9,208.9 623.7,205.2 626.7,202.9 529.1,135.7 500.2,171.5 643.3,176.2 540.3,109.2 675.9,140.8 652.8,154.5 663.6,116.7 507.1,137.0 497.0,167.5 667.2,156.9 479.3,205.2 676.4,105.1 630.9,193.8 499.2,159.7 658.4,157.8 539.5,97.4 666.8,137.3 506.7,146.2 505.9,178.6 506.5,141.9 636.5,184.3 641.2,186.9 630.4,192.5 667.4,121.2 683.1,138.9 663.2,145.3 502.0,181.0 499.2,186.7 672.6,106.1 687.7,94.2 649.9,182.3 487.8,197.6 531.2,103.3 495.3,181.7 650.8,156.1 485.1,193.2 517.9,114.7 645.3,164.8 481.0,201.5 649.3,151.9 680.6,88.7 489.1,187.8 688.8,67.6 685.6,81.7 639.8,196.5 686.9,103.7 642.0,194.0 694.0,98.4 684.4,96.2 493.4,192.9 638.9,196.0 687.6,103.2 685.1,67.2 511.7,174.6 662.7,166.7 524.7,101.1 542.4,118.7 668.3,136.9 495.6,188.0 632.6,190.0 478.4,201.9 657.8,158.4 515.2,118.3 504.1,143.5 691.0,88.4 523.2,103.4 510.3,142.3 519.9,142.3 640.2,187.5 630.4,200.1 492.6,196.0 677.3,152.9 675.6,81.2 636.8,191.3 510.8,171.6 480.8,207.7 689.3,139.0 504.9,177.8 515.7,148.7 525.1,89.6 537.7,99.5 658.4,130.6 688.7,84.0 505.2,152.2 524.8,142.1 487.9,191.4 479.1,204.5 524.8,129.8 636.1,185.5 637.2,184.6 517.0,142.5 493.0,194.6 643.6,177.3 632.0,202.0 505.8,145.2 624.7,201.5 641.3,174.7 524.3,107.7 491.1,188.8 480.1,204.0 507.7,145.5 543.5,127.1 532.3,161.9 671.5,158.2 531.3,129.7 687.8,110.4 662.5,145.8 487.4,199.9 519.0,126.5 648.4,170.6 672.5,119.3 672.1,106.4 630.4,203.6 676.8,149.3 635.3,194.1 640.6,182.7 543.3,132.1 488.0,196.5 652.2,181.9 503.0,182.8 509.3,170.8 647.0,183.1 667.4,117.2 630.7,200.2 664.4,136.8 647.9,184.3 653.8,161.7 514.5,162.8 680.2,134.9 497.6,192.9 515.1,169.8 652.9,145.6 683.0,80.1 510.5,148.8 506.0,142.3 489.5,202.3 517.5,150.3 639.8,185.4 676.0,155.4 542.1,134.2 664.9,168.9 649.8,155.8 502.9,147.5 639.4,179.3 636.8,192.1 545.6,135.9 653.5,157.5 480.8,200.0 689.8,138.6 508.4,176.7 646.8,169.5 650.4,148.7 474.6,206.1 504.9,164.9 516.2,115.1 521.3,155.0 529.4,122.1 493.2,179.8 519.4,99.4 671.6,129.1 673.5,103.1 521.2,97.7 484.3,196.6 544.9,116.0 635.1,191.1 501.7,157.1 684.0,138.6 662.7,166.0 475.2,208.2 638.4,198.8 673.2,114.8 674.1,159.1 517.4,118.8 665.0,146.7 479.3,201.7 678.0,118.3 675.6,144.4 663.5,148.9 521.1,138.9 493.4,186.5 501.3,176.9 687.7,89.1 489.9,193.6 623.5,203.9 506.2,178.1 653.3,138.2 489.3,189.9 654.4,169.7 647.1,172.6 518.8,148.4 674.4,139.5 671.6,104.2 513.0,173.7 686.0,125.1 692.7,97.4 661.6,156.7 652.4,159.9 508.5,172.9 656.0,163.4 643.5,175.6 528.9,136.9 486.7,193.9 543.8,139.4 619.5,206.1 499.7,177.0 657.7,136.5 673.0,148.1 637.4,200.5 536.9,116.0 508.3,128.1 523.3,112.0 539.0,132.9 659.7,158.9 536.2,98.1 521.9,158.5 540.3,118.6 520.2,139.5 532.8,137.7 674.4,147.3 544.0,109.9 516.9,100.0 501.7,150.1 532.0,124.8 677.9,126.1 512.8,173.0 539.2,140.7 632.5,198.8 524.5,95.4 665.8,103.7 682.1,121.5 544.5,112.9 658.5,112.0 635.4,186.0 642.6,170.9 681.8,146.8 677.9,121.3 519.3,134.0 516.8,101.2 618.3,208.9 666.8,137.8 510.0,154.8 657.7,151.3 691.7,83.1 690.2,71.7 652.2,164.5 511.0,125.0 520.0,141.9 619.5,208.8 509.4,175.0 495.5,165.3 654.3,164.8 482.4,199.0 537.8,109.9 686.4,131.3 679.7,130.1 505.1,157.3 647.2,185.4 678.9,99.0 673.2,142.1 494.5,193.3 646.4,181.2 527.3,127.3 508.9,175.7 508.2,167.0 651.1,176.6 493.9,186.2 693.7,142.3 673.7,129.8 651.2,178.1 681.0,73.8 538.7,132.7 524.0,149.9 506.7,147.1 632.7,193.4 691.4,112.9 650.4,172.4 541.7,120.7 655.2,130.9 510.5,151.4 542.4,101.8 549.8,123.4 511.4,127.3 642.7,173.5 540.1,90.5 523.6,130.2 527.0,103.8 519.0,142.5 512.3,151.0 643.9,188.7 531.5,116.7 519.7,152.8 507.5,178.0 652.0,140.1 535.9,161.4 686.6,94.6 671.5,111.1 692.2,116.6 629.0,201.3 495.0,191.6 519.4,112.2 677.8,117.9 624.0,203.2 661.1,124.0 665.7,102.3 633.9,192.9 528.9,119.8 482.3,203.6 633.4,192.1 535.7,142.7 685.0,110.0 658.0,132.0 540.7,156.2 673.3,138.8 502.9,161.6 504.9,149.7 497.7,172.4 516.3,140.3 516.8,162.9 540.7,110.3 534.9,164.2 494.7,177.5 500.6,189.9 643.7,189.2 495.1,169.6 686.2,90.1 652.3,179.8 667.9,153.4 629.5,194.4 491.0,201.5 628.1,199.4 648.6,159.8 500.9,184.9 683.9,65.3 538.8,136.6 482.6,201.8 630.9,202.6 678.9,98.8 663.7,139.0 502.5,183.3 664.3,149.0 477.4,203.5 514.5,145.1 541.5,89.1 531.7,135.3 657.4,141.7 504.1,159.4 543.3,93.4 651.9,176.3 677.8,106.6 668.5,158.4 667.4,135.9 493.5,188.0 529.7,111.4 537.1,124.2 696.7,128.6 533.7,159.9 523.5,154.5 652.5,139.1 613.0,209.4 638.4,188.4 687.0,110.7 677.3,95.2 527.0,86.9 541.0,95.8 497.5,171.5 489.1,202.1 533.7,141.3 510.3,123.0 649.8,151.6 692.4,89.9 652.9,139.4 668.9,134.8 639.7,189.9 546.0,155.4 494.8,177.2 664.3,163.2 529.1,140.3 533.6,112.2 503.2,164.3 635.3,191.6 498.5,166.6 498.0,162.9 519.3,136.7 482.4,203.5 654.0,164.8 482.9,197.0 532.9,149.7 680.9,138.5 493.7,171.3 530.3,124.5 510.2,172.6 650.7,147.5 687.2,102.0 671.7,135.5 527.3,156.8 531.8,110.1 532.9,110.8 539.9,146.2 646.3,176.0 662.4,122.5 659.3,116.3 653.5,159.1 489.6,186.2 497.3,166.3 647.3,182.7 533.3,89.0 489.8,187.6 668.1,159.3 686.0,139.4 479.3,202.9 538.8,104.1 674.7,124.4 631.0,201.9 676.9,98.2 624.5,202.1 484.4,197.4 662.0,170.0 489.1,197.1 526.7,105.0 493.9,197.4 541.1,124.9 515.4,160.2 511.8,142.7 651.5,168.8 509.2,159.3 683.6,149.9 683.2,79.4 486.5,191.5 529.6,140.2 533.7,83.4 677.8,121.7 674.2,161.1 661.4,136.9 661.3,159.6 544.7,107.1 527.3,68.8 494.0,197.5 671.1,103.1 519.6,156.2 499.8,182.8 644.5,186.3 537.1,96.1 628.1,200.1 494.7,170.4 668.1,164.9 691.7,140.1 628.9,201.2 631.4,199.7 533.5,135.7 684.4,154.5 646.8,153.8 502.5,147.0 540.7,116.8 668.0,116.5 495.7,192.9 647.7,151.2 480.4,199.7 641.3,168.3 516.2,133.0 683.0,111.8 675.5,85.1 537.5,140.8 667.6,117.7 673.7,164.0 511.9,162.8 545.5,143.9 481.5,200.4 651.2,178.2 492.8,198.8 499.9,158.5 657.4,145.6 532.5,133.0 511.9,124.4 675.0,87.0 643.6,183.3 500.2,164.3 489.3,198.7 624.0,203.6 505.4,155.8 672.3,106.2 508.8,178.7 510.0,131.4 650.0,179.5 514.0,126.7 521.6,117.9 501.3,157.2 528.3,75.9 643.1,172.4 679.6,119.3 679.6,143.4 669.0,104.2 494.4,175.1 483.2,205.8 545.5,120.9 535.6,161.1 623.0,204.0 522.7,108.5 650.9,179.6 525.7,146.6 619.9,204.3 485.9,201.7 657.7,137.4 535.0,129.1 617.9,205.6 666.1,131.1 631.0,191.7 487.6,193.4 657.7,142.6 487.8,193.5 500.1,154.3 640.5,172.1 531.3,139.6 537.5,133.3 642.5,189.5 520.6,157.8 491.0,185.9 651.5,155.7 539.3,104.0 681.7,112.1 523.8,128.1 504.5,165.2 525.9,117.0 509.2,135.4 486.7,205.0 658.6,128.1 635.5,196.5 524.1,97.2 634.6,188.3 497.9,157.9 631.1,193.9 678.1,84.9 480.5,202.2 644.8,170.8 483.9,196.9 625.5,203.8 652.0,148.0 516.5,139.8 507.0,174.5 501.4,177.2 653.6,164.5 520.3,132.9 678.2,90.0 518.5,127.3 531.5,117.6 661.0,138.3 649.9,154.3 630.4,193.6 637.7,198.3 488.3,194.6 679.3,94.5 511.5,148.0 641.0,181.3 544.7,151.7 639.5,186.2 489.5,186.8 506.6,159.6 524.3,112.7 661.3,156.9 473.6,209.7 684.2,108.5 541.7,139.4 639.7,193.8 493.8,181.3 625.6,203.5 510.6,136.9 630.6,199.2 499.3,171.3 496.3,178.8 487.0,200.4 647.3,163.2 521.4,112.6 543.7,102.1 500.4,185.1 500.9,189.9 640.6,191.2 527.7,160.0 665.5,133.9 500.8,167.1 695.0,140.0 546.3,118.0 686.7,106.1 539.3,137.8 503.8,158.9 661.6,124.8 484.1,198.4 634.1,194.9 650.0,178.4 672.9,130.9 488.3,186.8 523.2,112.2 502.6,169.2 514.5,167.0 677.0,152.0 625.6,201.7 630.9,193.9 695.6,138.5 659.1,147.2 637.8,177.7 687.9,144.9 645.5,182.2 658.5,147.1 510.3,133.9 541.4,96.8 660.1,158.2 654.0,137.8 633.7,203.5 680.7,148.1 657.6,141.6 509.2,179.4 641.0,192.7 645.6,168.5 636.1,186.6 664.1,166.5 663.8,114.7 537.6,127.9 626.9,201.5 527.1,133.9 690.2,79.4 531.9,155.9 646.0,172.5 503.2,152.5 652.0,149.5 484.6,200.7 484.9,196.8 508.5,164.8 641.9,195.2 670.0,99.5 630.0,194.5 504.9,164.7 681.3,152.5 509.3,147.2 683.8,130.7 683.7,151.2 526.6,79.8 672.4,146.5 502.4,152.5 672.2,99.4 653.9,141.0 518.7,135.9 518.1,126.7 505.4,183.4 622.0,204.6 644.1,190.0 683.7,70.7 496.4,172.6 644.8,162.2 494.5,189.4 632.2,190.6 496.6,160.5 537.8,160.2 542.0,95.0 538.5,102.2 531.9,156.6 518.8,119.4 633.4,204.3 512.1,167.9 648.5,172.2 490.9,178.6 518.4,96.5 633.7,191.1 633.8,186.9 640.1,184.7 502.5,182.9 680.6,109.2 522.7,143.1 625.1,201.6 641.1,171.0 499.6,181.9 503.7,180.4 495.1,197.1 676.4,140.2 508.3,175.5 503.6,171.3 668.7,109.1 625.6,201.3 510.2,175.8 647.2,161.5 645.4,176.1 498.6,181.0 646.8,187.1 671.7,113.6 509.8,171.8 481.4,202.6 519.1,140.0 544.8,108.7 492.0,175.8 510.4,172.5 657.3,122.0 673.1,157.4 688.9,145.3 626.9,201.7 676.1,141.2 642.0,192.2 524.7,74.9 684.8,144.2 637.6,199.5 529.0,112.3 533.2,162.5 638.0,180.9 477.7,205.1 687.7,125.9 669.4,108.5 625.3,201.0 684.9,120.7 656.3,140.0 499.6,186.4 668.8,165.1 507.3,149.8 503.7,161.1 630.0,196.5 660.9,145.5 662.4,111.0 630.2,194.3 670.7,110.7 636.5,199.7 527.0,153.8 512.2,122.7 674.1,79.5 511.4,142.3 522.7,80.9 676.3,73.1 532.4,138.7 508.1,147.8 678.9,110.0 642.9,183.3 480.1,201.8 504.0,181.6 674.5,150.5 512.7,172.2 639.9,194.8 644.8,167.0 532.7,128.0 517.3,161.6 504.7,185.3 536.2,131.3 680.9,81.0 510.5,168.1 649.7,182.2 625.1,202.5 482.4,205.9 633.0,192.6 643.7,161.9 518.8,92.8 502.1,157.9 674.3,108.8 510.0,154.2 653.9,152.1 629.8,200.5"/>
<polyline fill="none" stroke="none" marker-start="url(#mr)" marker-mid="url(#mr)" marker-end="url(#mr)" points="494.0,183.7 531.0,109.5 538.3,103.5 493.8,177.9 528.0,122.6 524.2,122.2 527.9,151.8 535.7,135.6 511.2,141.6 517.9,156.5 535.6,114.1 509.0,150.4 511.7,158.3 524.2,126.3 509.9,150.9 535.0,112.1 500.4,167.5 529.7,141.6 525.4,137.2 527.1,133.6 490.5,184.4 493.2,185.9 493.9,190.8 518.5,155.6 534.2,118.8 509.5,150.9 523.3,124.8 536.1,106.1 521.0,149.0 498.3,170.1 509.2,164.7 527.4,153.4 530.8,150.4 492.1,192.7 533.0,117.0 538.1,116.3 510.3,153.7 507.7,163.5 536.9,124.3 518.9,136.0 531.4,125.9 499.6,172.2 499.2,164.4 526.7,142.2 531.4,148.0 504.1,164.4 491.4,194.3 538.1,105.9 535.4,109.6 501.9,176.2 485.9,199.2 519.9,128.8 516.1,145.4 520.7,151.3 513.8,135.5 538.4,106.8 488.7,188.6 523.5,148.2 513.3,141.0 528.1,111.6 517.2,145.6 519.4,153.5 528.2,139.0 532.7,116.7 496.2,181.9 532.9,139.5 518.9,135.1 513.5,139.8 531.4,153.4 519.1,130.6 518.4,151.8 508.6,150.5 507.7,156.4 501.5,164.8 489.2,194.3 498.4,175.6 503.2,156.6 486.9,196.2 496.3,176.6 501.3,167.0 519.0,148.9 529.9,129.7 529.5,110.5 499.5,172.0 503.8,158.7 515.9,151.4 505.1,162.3 493.2,185.7 516.0,147.4 530.3,147.1 526.0,116.8 520.1,151.5 525.1,151.8 497.7,181.5 509.3,153.8 538.1,129.2 527.3,137.8 505.9,161.7 537.7,129.1 512.2,154.7 498.7,170.3 506.1,167.6 535.3,119.6 502.3,159.8 525.7,118.1 501.2,176.8 531.9,116.0 493.9,192.9 537.5,136.2 503.5,162.4 525.4,122.8 537.7,111.2 521.9,138.4 526.1,127.2 494.4,180.4 486.5,196.4 531.2,151.8 505.7,164.8 492.0,195.2 517.9,132.2 510.2,152.3 495.8,181.1 506.4,157.8 528.0,129.8 535.9,135.9 510.2,162.9 496.8,180.3 533.0,133.3 498.2,177.8 521.6,143.3 533.3,111.3 520.3,150.9 493.8,187.6 508.9,159.3 528.6,157.1 529.1,110.3 528.7,142.0 490.6,190.3 529.5,119.2 500.4,181.9 526.2,129.5 532.5,110.9 523.4,155.2 515.7,154.4 530.9,109.0 521.8,144.8 500.3,180.2 513.8,155.7 509.9,143.5 536.4,136.1 500.3,172.3 531.1,133.4 521.3,155.0 525.9,124.5 535.5,111.5 508.6,162.6 528.7,137.4 536.5,123.4 526.8,123.7 532.3,113.1 495.7,187.2 533.4,109.5 529.2,145.6 518.5,141.9 537.2,137.0 528.4,135.0 520.9,140.7 533.3,137.1 504.6,162.7 528.1,113.3 508.6,160.9 537.3,133.9 530.5,130.2 514.4,156.3 513.7,136.2 502.9,162.5 525.0,118.3 531.9,117.8 495.3,183.0 515.0,151.6 490.4,184.8 488.2,190.6 506.0,163.0 532.6,125.1 526.8,125.3 517.7,136.5 515.4,138.1 506.6,166.9 504.8,155.2 529.1,149.2 529.2,138.5 508.8,147.5 538.6,103.5 498.4,183.5 516.8,157.3 534.9,127.4 520.7,137.9 526.7,136.8 517.4,143.7 489.0,194.7 521.4,145.4 511.5,139.9 506.5,169.5 535.6,124.5 536.8,103.1 530.0,106.6 519.4,142.3 496.9,183.2 520.8,137.8 526.8,140.5 504.4,169.1 534.3,117.1 528.4,121.3 529.4,150.1 525.1,143.2 519.8,141.4 516.0,144.2 533.4,126.7 511.0,157.5 493.0,184.0 502.8,180.1 537.8,117.8 526.6,133.9 498.6,167.8 522.5,123.2 509.2,158.6 487.4,192.4 510.3,153.8 488.7,190.0 510.7,163.0 523.4,146.5 511.3,159.8 531.3,109.9 531.9,147.5 522.1,132.1 495.9,185.2 533.5,131.9 532.8,145.5 522.0,136.5 526.4,153.5 522.9,132.2 533.9,119.2 522.4,155.3 501.7,169.6 527.7,155.5 495.4,186.6 502.7,157.9 512.8,159.2 508.3,154.9 511.9,151.1 496.3,173.8 506.4,157.7 505.5,162.0 527.3,119.7 519.3,148.9 501.9,168.5 508.5,154.0 528.5,139.9 501.8,180.3 505.1,170.3 516.9,140.8 531.4,142.7 518.4,153.1 537.9,114.8 521.5,127.3 520.4,140.9 524.5,146.8 514.1,163.8 530.9,119.2 528.1,151.8 508.6,158.2 534.4,125.2 533.8,139.1 490.6,185.9 518.8,129.1 511.7,156.3 520.1,144.4 524.4,140.4 487.9,193.0 505.7,171.6 525.6,137.0 524.1,143.6 500.7,174.2 505.1,157.8 494.2,183.9 508.1,169.1 526.3,136.1 531.2,122.6 518.5,149.5 537.3,130.6 538.1,117.9 512.0,156.4 527.9,124.1 530.4,125.2 494.5,188.9 528.8,140.0 524.9,124.0 537.1,134.0 521.1,126.0 528.7,129.9 525.7,120.2 515.2,144.8 529.4,133.9 531.8,145.7 529.0,137.7 494.6,188.1 530.3,120.4 517.1,156.7 526.6,152.6 529.5,112.5 495.9,186.5 499.8,178.3 497.5,182.4 528.9,138.5 506.0,166.6 529.1,132.6 527.7,140.8 538.1,108.9 525.3,134.3 496.8,178.6 536.9,122.1 532.9,108.8 531.9,142.2 486.1,201.3 500.1,176.4 513.4,143.4 503.2,173.3 495.4,175.8 526.8,148.3 491.8,194.8 515.9,144.7 491.0,196.9 523.6,133.2 517.7,135.3 522.4,127.9 514.2,157.2 528.6,154.9 522.8,127.8 532.7,140.4 513.5,153.1 534.2,129.1 525.4,145.2 537.2,123.0 526.6,118.6 509.6,163.4 513.5,138.4 522.6,146.3 496.7,183.4 507.9,159.7 534.7,127.0 508.4,170.7 517.8,145.9 501.1,176.8 525.9,117.6 491.4,185.0 537.6,106.0 520.1,147.9 537.6,111.9 492.9,182.9 494.6,187.5 663.3,153.3 680.0,153.4 681.2,130.0 658.2,160.1 672.4,144.3 668.8,130.6 681.6,104.3 676.5,126.4 677.1,119.0 662.9,135.9 642.0,174.8 656.8,160.8 672.5,125.4 662.8,150.6 673.9,129.5 675.7,113.0 650.8,169.0 662.1,150.6 644.4,176.4 658.8,165.8 682.1,112.2 679.4,120.1 669.5,140.8 674.4,149.0 681.1,111.3 640.1,175.4 641.7,183.0 640.3,187.4 669.3,145.5 680.9,149.3 678.2,136.0 638.3,180.5 671.0,150.6 652.1,159.4 662.4,137.9 681.9,148.2 671.3,120.0 674.0,137.1 645.0,171.5 652.6,169.1 682.3,140.8 666.0,125.8 649.4,169.0 660.5,163.6 665.8,149.2 675.2,149.2 659.3,169.7 635.9,188.4 657.4,155.1 658.7,146.9 653.5,156.0 640.4,183.0 651.9,171.6 676.3,111.5 669.0,134.9 670.9,143.5 678.4,140.2 675.4,152.8 676.2,110.1 678.2,134.2 661.3,152.8 664.9,136.1 646.3,168.0 667.6,153.1 663.6,144.9 668.9,150.2 642.4,180.8 646.0,168.0 631.2,198.9 659.3,143.6 653.5,162.5 663.6,139.1 632.0,190.9 664.1,138.0 651.4,162.9 676.9,135.8 645.9,165.6 667.5,147.6 660.7,142.0 651.4,156.6 653.0,148.9 644.3,178.3 669.1,119.4 675.8,135.0 650.1,171.6 674.5,129.9 678.5,154.6 679.5,118.5 668.9,141.0 649.9,174.2 674.2,124.5 668.7,130.6 669.7,123.5 677.5,139.3 653.2,172.7 663.4,148.0 680.1,149.8 631.8,197.3 684.1,104.4 670.0,128.8 654.5,169.5 675.2,115.6 656.0,167.4 668.5,140.1 678.9,121.0 676.3,153.4 671.5,113.5 666.6,135.1 644.9,180.4 655.8,143.6 641.3,172.5 652.3,170.6 662.0,166.1 641.4,183.2 652.6,172.8 662.2,136.5 675.9,151.4 657.7,153.5 660.0,153.4 675.4,136.2 675.2,144.1 652.7,154.4 660.4,140.7 677.1,113.1 671.7,141.1 657.5,172.4 649.0,172.1 661.2,142.4 666.4,139.4 676.1,123.7 638.5,180.0 666.5,139.3 643.0,169.8 650.9,173.4 633.0,189.9 663.4,132.1 682.0,130.0 671.9,113.9 675.1,137.5 671.0,150.8 668.4,138.1 676.8,137.2 657.5,169.1 657.2,146.1 641.0,179.5 679.0,110.2 639.6,175.3 662.2,145.9 665.0,149.8 650.2,175.4 663.9,158.0 659.6,164.4 669.6,124.2 670.8,140.1 665.2,147.6 682.3,145.7 640.5,174.8 667.7,154.0 666.6,126.0 657.3,150.0 678.7,149.7 679.8,151.8 673.4,133.0 683.6,109.2 659.3,152.5 673.7,121.7 679.7,127.9 671.5,136.3 639.5,176.5 664.9,152.5 674.1,140.9 639.7,177.6 657.3,151.8 642.7,170.2 647.3,173.9 638.2,184.0 683.0,141.7 648.5,171.6 678.9,142.5 658.3,147.1 664.6,150.6 672.8,122.8 664.1,140.1 643.4,170.8 673.8,139.6 663.5,140.6 667.7,134.7 676.2,134.6 636.9,192.9 666.5,142.0 678.2,136.4 647.1,161.6 658.8,161.2 662.5,160.6 656.5,165.7 660.1,156.9 635.9,186.9 679.2,121.0 645.5,177.7 675.6,131.3 659.1,140.5 649.4,175.6 643.7,167.5 669.7,117.1 682.0,104.8 631.1,197.8 653.0,166.0 671.9,129.7 664.1,130.8 642.9,172.5 663.3,155.3 638.0,190.9 637.0,188.4 679.7,112.0 680.0,119.8 643.4,169.9 671.2,149.4 672.3,141.0 667.6,143.3 638.3,179.5 674.1,138.1 676.1,107.7 670.3,119.1 677.1,148.6 654.2,173.3 642.1,172.2 671.4,140.7 676.6,113.4 663.0,143.1 676.9,148.3 672.6,117.0 651.9,170.3 675.5,110.6 669.0,144.6 661.8,154.4 673.5,110.6 683.1,110.8 675.4,134.4 672.9,118.0 656.3,145.0 671.1,142.3 669.4,138.7 659.4,162.1 643.1,176.2 651.2,170.4 643.8,171.0 639.3,180.3 667.8,137.0 669.3,123.4 657.9,171.9 679.7,130.1 677.7,127.2 665.1,142.6 639.2,181.1 664.9,138.6 679.0,123.9 682.6,138.0 676.6,111.4 672.8,115.0 645.5,178.7 665.5,138.4 671.5,131.0 647.2,175.3 654.4,173.7 672.7,130.6 659.9,144.5 655.2,153.9 635.9,190.6 663.8,133.7 670.7,142.3 681.8,111.8 674.3,127.7 663.2,136.3 680.4,112.3 671.9,134.8 657.5,152.4 646.9,162.7 667.9,145.9 666.3,127.5 677.1,151.0 678.5,120.7 645.1,178.7 672.7,142.6 656.8,150.5 672.2,138.3 674.6,147.7 647.5,163.8 680.4,113.3 669.8,152.3 651.5,165.7 680.0,146.9 656.5,146.8 671.1,118.7 647.6,169.4 667.8,153.4 640.8,179.9 681.9,146.4 659.2,143.9 649.9,159.6 644.7,180.4 643.8,176.5 680.0,112.0 675.8,108.9 635.8,185.0 677.7,145.9 644.0,169.4 649.9,173.5 643.3,182.6 675.1,117.0 674.5,142.3 638.5,189.2 650.6,169.5 671.6,146.3 673.1,150.2 645.3,165.3 668.9,139.6 680.0,135.5 683.0,138.7 660.2,155.4 654.9,145.3 652.3,168.1 649.2,161.3 664.8,135.0 653.6,164.8 676.1,136.4 646.6,171.8 675.5,146.8 672.9,125.9 668.5,142.8 640.8,176.4 649.9,162.6 680.1,145.9 672.5,128.0 654.7,155.8 666.1,125.9 662.0,138.9 666.1,143.5 667.9,143.6 673.2,149.4 652.1,167.4 651.8,169.6 682.1,142.8 647.2,167.8 671.7,132.5 677.0,137.3 662.3,161.2 656.3,163.6 670.7,149.2 666.5,138.2 677.1,136.0 679.4,116.9 666.2,137.9 661.8,152.5 675.3,114.4 652.7,159.2 641.1,185.3 659.0,143.7 668.5,123.2 660.7,151.9 672.7,112.2 680.1,110.2 678.8,127.2 678.9,120.4 646.5,177.8 663.5,157.7 680.0,139.6 634.4,190.4 666.7,141.2 679.9,108.3 670.6,131.0 651.8,171.9 654.8,168.2 665.2,151.9 657.1,163.3 666.5,136.8 654.9,161.4 681.0,143.6 671.1,137.7 651.9,165.2 645.1,172.8 659.7,151.2 670.6,129.1 661.7,157.7 656.0,146.6 667.0,132.8 655.3,152.4 664.2,139.4 665.1,135.9 677.1,154.9 654.2,151.7"/>
</g>
<g fill="#000" transform="translate(401.9 210.0) rotate(-90) scale(1 1.06)"><text x="0.00" y="0.00" font-size="17" font-weight="bold" font-style="italic">B</text><text x="11.40" y="0.00" font-size="16">(</text><text x="15.30" y="0.00" font-size="17">D</text><text x="27.70" y="4.60" font-size="12">s</text><text x="27.60" y="-7.10" font-size="12">+</text><path d="M35.80 -5.30H51.60M46.70 -9.50L52.00 -5.30L46.70 -1.10" fill="none" stroke="#000" stroke-width="1.05" stroke-linejoin="miter"/><text x="53.50" y="0.00" font-size="15">f</text><text x="60.90" y="4.60" font-size="12">1</text><text x="68.40" y="0.00" font-size="16">(</text><text x="75.70" y="0.00" font-size="17">1285</text><text x="108.50" y="0.00" font-size="16">)</text><text x="116.96" y="0.00" font-size="16.5">e</text><text x="125.60" y="-7.60" font-size="12">+</text><text transform="translate(132.20 0.00) scale(1.100 1)" font-size="16.5" font-weight="bold">&#957;</text><text x="139.33" y="4.60" font-size="12">e</text><text x="144.90" y="0.00" font-size="16">)</text><text x="151.70" y="0.00" font-size="16">(</text><text x="156.80" y="0.00" font-size="17.5">&#215;</text><text x="166.96" y="0.00" font-size="17.5">10</text><text x="184.50" y="-6.60" font-size="11.5">-</text><text x="188.25" y="-6.40" font-size="13">3</text><text x="194.10" y="0.00" font-size="16">)</text></g>
<text transform="translate(565.8 245.3) scale(1.2 1)" font-size="19" fill="#000">&#952;</text>
<text x="576.9" y="250.3" font-size="12" font-weight="bold" fill="#000">3P1</text>
<text text-anchor="middle" x="582.2" y="273.0" font-size="18" font-weight="bold" fill="#0000ff" word-spacing="0.4">( a<tspan dy="3.6" font-size="12">2</tspan><tspan dy="-3.6"> )</tspan></text>
</g>
<g id="a3">
<rect class="fr" x="818.00" y="8.50" width="290.00" height="201.50"/>
<text class="t" text-anchor="middle" transform="translate(818.3 223.1) scale(0.925 1)">-180</text>
<text class="t" text-anchor="middle" transform="translate(866.6 223.1) scale(0.925 1)">-120</text>
<text class="t" text-anchor="middle" transform="translate(915.0 223.1) scale(0.925 1)">-60</text>
<text class="t" text-anchor="middle" transform="translate(963.3 223.1) scale(0.925 1)">0</text>
<text class="t" text-anchor="middle" transform="translate(1011.6 223.1) scale(0.925 1)">60</text>
<text class="t" text-anchor="middle" transform="translate(1060.0 223.1) scale(0.925 1)">120</text>
<text class="t" text-anchor="middle" transform="translate(1108.3 223.1) scale(0.925 1)">180</text>
<text class="t" text-anchor="end" transform="translate(814.2 213.8) scale(0.92 1)">0.00</text>
<text class="t" text-anchor="end" transform="translate(814.2 163.4) scale(0.92 1)">0.25</text>
<text class="t" text-anchor="end" transform="translate(814.2 113.0) scale(0.92 1)">0.50</text>
<text class="t" text-anchor="end" transform="translate(814.2 62.7) scale(0.92 1)">0.75</text>
<text class="t" text-anchor="end" transform="translate(814.2 12.3) scale(0.92 1)">1.00</text>
<path class="tk" d="M866.33 210.00v-3.4M866.33 8.50v3.4M914.67 210.00v-3.4M914.67 8.50v3.4M963.00 210.00v-3.4M963.00 8.50v3.4M1011.33 210.00v-3.4M1011.33 8.50v3.4M1059.67 210.00v-3.4M1059.67 8.50v3.4M818.00 159.62h3.4M1108.00 159.62h-3.4M818.00 109.25h3.4M1108.00 109.25h-3.4M818.00 58.88h3.4M1108.00 58.88h-3.4"/>
<g clip-path="url(#ca3)">
<polyline fill="none" stroke="none" marker-start="url(#mg)" marker-mid="url(#mg)" marker-end="url(#mg)" points="820.9,169.2 827.6,187.5 977.3,165.8 816.0,120.4 978.9,184.8 831.0,162.2 825.9,134.8 971.5,175.5 1002.6,194.8 1013.5,165.7 816.4,130.0 965.0,65.8 980.8,203.3 852.5,211.1 829.3,159.4 823.0,98.0 977.2,173.3 828.9,185.2 1012.5,168.0 1003.9,194.6 818.5,120.4 977.3,181.7 846.7,211.8 967.7,168.3 830.0,188.0 827.8,184.3 827.0,175.7 819.6,121.3 840.2,203.6 975.6,151.1 854.8,200.5 978.0,197.8 814.8,170.0 837.4,185.5 835.3,204.2 975.3,194.2 991.9,212.4 827.1,186.2 978.9,195.8 859.3,192.2 980.7,199.8 964.6,151.2 818.9,148.2 978.5,173.4 824.7,168.3 977.9,170.1 968.3,154.1 817.5,122.9 848.0,210.4 821.9,109.4 833.4,194.5 982.2,188.5 816.7,128.2 965.9,155.5 816.0,154.9 823.9,160.0 826.0,192.5 847.1,206.5 819.0,131.0 978.9,199.6 967.9,160.1 854.5,202.1 967.6,147.1 976.7,174.1 978.9,194.4 1007.0,170.0 838.0,190.7 983.2,201.9 832.6,165.5 1016.3,149.5 822.8,112.6 821.0,92.0 1011.0,175.0 965.3,156.1 840.8,204.2 1005.9,178.9 821.6,137.9 862.0,168.9 824.9,163.8 852.1,201.4 824.5,112.0 826.0,122.0 976.1,180.8 830.4,171.8 866.6,162.0 854.0,190.8 864.0,146.5 975.7,157.3 1000.9,187.9 963.4,141.2 828.5,173.6 829.1,178.8 985.1,200.0 823.6,170.6 833.3,202.2 1013.9,98.6 857.3,196.6 816.7,170.3 821.8,109.4 857.1,201.3 834.9,180.1 1006.5,174.5 832.2,171.9 869.3,172.0 976.9,176.0 986.7,212.3 964.4,36.3 983.4,206.4 831.0,159.0 1003.1,188.2 817.0,157.3 981.6,193.7 971.6,156.8 975.2,157.3 970.8,175.7 861.2,185.1 854.6,200.1 821.1,161.6 973.2,187.0 853.3,200.6 824.3,167.7 825.5,119.8 969.6,159.0 825.8,158.3 841.8,204.2 978.8,195.1 994.8,210.9 851.9,211.2 979.7,202.6 868.4,142.8 839.2,206.5 861.2,167.6 836.5,187.2 858.9,184.8 979.2,197.5 815.7,154.5 815.9,121.2 859.7,182.1 1006.9,189.8 972.7,182.9 822.7,125.3 1005.4,181.9 973.0,127.0 984.2,206.7 975.5,171.4 844.0,210.6 974.5,152.4 972.4,169.9 978.8,195.1 857.0,175.6 970.6,166.9 972.2,160.3 958.0,100.7 830.4,175.6 972.7,176.2 979.0,184.1 825.9,176.0 974.3,181.4 866.0,181.0 844.7,206.1 973.8,154.7 972.8,163.8 1000.4,201.8 828.9,186.6 975.5,190.5 879.5,58.3 854.8,193.7 819.1,171.3 824.6,146.8 835.1,175.2 821.4,130.1 850.1,208.1 969.0,177.7 824.6,179.1 835.4,181.4 827.5,187.3 982.3,195.0 860.4,175.3 839.6,199.6 824.9,149.7 965.7,138.1 979.3,191.1 831.2,168.5 829.6,149.6 860.1,174.3 999.7,189.5 856.0,195.6 819.3,157.5 827.8,159.4 831.5,167.5 969.0,166.9 862.6,167.2 816.9,145.9 983.6,205.6 968.9,146.2 843.1,204.1 817.4,142.6 825.1,146.0 868.6,101.7 829.2,184.9 841.5,207.9 818.4,179.0 816.1,164.6 831.0,168.0 965.1,136.0 981.3,204.9 819.5,76.0 819.7,183.5 861.4,189.8 822.3,150.8 848.6,207.1 1012.0,153.0 1006.6,181.6 1000.6,188.3 821.3,164.8 874.8,164.7 824.5,152.0 831.5,192.9 962.5,138.8 974.6,159.8 997.6,205.6 976.1,166.1 846.4,210.2 821.4,167.7 854.9,194.6 870.0,165.0 999.2,202.3 858.2,179.8 845.7,208.2 996.5,199.9 856.9,199.2 866.0,176.0 828.3,180.9 829.7,196.2 997.9,207.2 825.9,160.6 829.0,190.9 833.5,170.1 972.0,115.0 999.1,206.2 857.1,203.3 814.4,128.6 858.4,198.2 976.4,153.6 1002.6,181.3 826.6,150.9 851.0,207.4 967.6,139.5 849.0,212.8 975.8,171.8 827.2,182.6 830.9,157.2 815.0,172.0 829.5,182.9 978.1,183.1 824.2,176.6 863.0,151.0 830.3,160.7 986.7,206.6 826.9,160.9 1004.2,184.5 827.8,150.5 834.4,198.3 833.6,169.9 826.2,165.1 1014.6,125.0 997.5,203.6 846.2,211.4 829.8,189.1 986.3,210.4 837.7,185.1 816.6,130.0 831.6,176.7 1006.1,183.7 850.9,198.7 818.5,37.0 973.5,186.5 825.9,184.7 879.5,125.0 1000.1,207.0 823.3,128.4 858.8,171.8 818.0,148.7 827.0,123.2 826.3,174.8 837.9,188.5 966.7,167.5 817.1,139.1 860.4,168.4 978.4,193.7 827.4,171.0 962.7,87.8 1006.0,156.0 981.1,191.2 819.0,45.4 966.0,139.0 814.0,158.8 830.9,163.2 817.4,164.2 823.4,116.6 821.9,64.0 976.4,183.4 968.0,141.0 851.1,209.0 856.0,194.8 978.6,193.3 1004.5,172.0 842.2,208.2 1007.7,191.8 1009.0,166.0 821.5,170.3 819.6,163.4 987.4,206.0 825.8,156.2 827.9,180.1 999.5,202.3 856.4,185.7 977.6,197.8 824.1,162.9 872.7,81.7 814.0,123.3 850.0,204.6 987.2,210.0 995.6,208.1 824.4,122.9 986.3,203.8 968.0,179.1 976.7,187.7 994.0,206.3 835.5,191.5 973.4,159.6 859.1,167.3 875.0,133.6 967.0,87.0 967.3,149.1 973.8,179.9 967.5,176.7 814.2,164.8 821.6,139.6 819.5,128.0 824.5,181.0 819.4,177.6 857.8,201.3 969.2,158.5 856.7,198.1 826.7,148.9 973.3,162.6 825.4,185.8 975.3,163.2 829.8,177.7 865.5,191.5 1007.9,187.5 833.1,192.1 816.1,125.9 832.3,192.3 963.6,148.3 975.1,160.4 822.3,149.9 822.0,124.0 967.0,167.6 1006.9,191.5 1018.0,110.5 1001.6,188.1 854.1,200.2 825.9,120.9 1013.0,178.4 998.8,195.7 837.2,206.6 835.9,183.8 1010.0,170.0 976.0,181.7 972.7,163.3 820.3,159.5 1003.9,159.0 818.3,159.2 816.8,156.4 827.4,191.6 988.6,205.1 837.5,193.8 972.6,177.5 817.1,159.1 996.0,201.0 821.1,169.9 823.0,186.0 820.0,118.0 1011.5,172.5 831.3,159.1 999.9,205.9 977.9,165.5 966.3,172.8 816.8,175.5 836.1,183.0 969.2,150.3 864.5,179.0 828.3,166.0 826.2,187.9 832.2,179.0 829.5,150.0 960.3,134.2 971.7,172.7 834.3,179.1 858.4,180.7 1007.1,191.0 835.0,184.6 867.5,189.0 829.5,199.0 974.6,164.3 981.7,199.8 974.6,170.8 983.5,198.2 829.4,169.3 959.3,96.3 1015.0,117.3 964.7,138.9 817.6,155.0 829.0,145.2 864.7,184.8 978.9,188.7 963.7,124.6 831.9,178.4 868.4,183.0 832.5,172.7 999.3,200.6 1004.6,198.6 997.9,197.7 842.1,201.3 830.8,181.7 984.5,207.9 1000.0,192.2 825.0,151.5 858.6,198.0 1008.4,152.9 987.3,210.5 815.4,148.1 985.0,210.5 819.0,106.0 822.6,177.0 975.9,168.5 974.1,178.0 974.2,163.8 839.6,192.8 1001.0,185.4 816.8,171.5 860.7,168.7 822.2,109.7 830.1,191.1 825.8,170.7 863.0,156.0 862.1,174.5 832.7,189.0 1005.7,186.0 827.2,184.0 997.2,210.0 848.5,204.2"/>
<polyline fill="none" stroke="none" marker-start="url(#mr)" marker-mid="url(#mr)" marker-end="url(#mr)" points="855.0,193.5 836.4,191.5 858.9,196.5 852.1,206.9 829.3,167.6 831.3,167.6 858.0,187.8 823.2,160.3 836.5,194.7 834.5,184.5 859.7,188.2 841.0,207.8 830.2,169.6 839.9,207.1 855.8,193.6 822.3,157.6 828.5,173.0 836.9,192.6 826.7,167.7 825.3,170.2 826.1,155.3 837.9,199.9 859.6,172.6 822.0,158.5 835.5,186.9 829.5,164.0 825.9,163.3 830.7,182.8 859.1,179.6 849.1,207.8 822.1,156.7 858.1,183.1 825.0,163.3 851.0,205.0 859.9,180.2 833.0,185.7 839.4,201.4 835.9,185.4 824.0,168.8 833.1,195.9 828.1,173.6 829.9,164.2 823.1,169.5 854.7,196.6 838.0,205.3 825.2,173.8 836.0,193.8 827.7,171.6 857.3,185.8 856.4,193.6 831.4,165.8 842.3,208.6 849.6,211.2 841.7,204.6 854.2,202.4 828.1,186.0 851.2,206.2 827.5,166.2 852.4,200.0 860.1,170.0 837.3,193.6 857.3,198.3 829.4,175.5 833.0,190.7 824.7,170.5 859.7,176.8 829.6,162.6 828.4,164.0 851.5,206.9 823.6,154.1 841.6,207.9 858.0,184.8 822.8,154.6 852.1,204.5 860.0,176.0 835.3,186.4 853.2,199.0 834.0,188.2 830.4,173.1 837.3,192.6 838.4,201.9 835.7,197.5 847.4,210.1 830.2,161.5 828.2,188.9 827.2,175.1 858.3,197.3 859.7,187.8 858.3,186.9 824.2,153.7 851.2,205.5 830.7,173.8 859.9,182.9 824.9,164.4 823.9,152.1 834.6,197.9 836.6,203.0 855.4,195.8 860.1,183.1 827.6,174.7 828.9,171.7 827.5,180.2 855.7,190.4 857.7,181.8 857.8,197.9 823.9,160.4 833.7,180.2 843.3,208.8 828.9,171.7 834.9,181.8 846.4,210.2 833.5,191.1 831.9,170.8 857.0,196.0 828.2,176.1 825.2,178.5 854.3,199.2 832.9,197.8 829.3,151.8 858.3,180.8 841.5,207.7 850.7,204.3 838.2,196.5 827.2,162.8 828.8,179.6 859.3,184.1 829.9,164.6 830.1,192.3 829.4,178.6 823.5,160.5 828.7,155.1 854.2,197.0 851.3,202.5 829.4,178.5 826.3,154.4 825.7,173.6 836.8,194.5 828.9,188.6 827.3,176.1 858.0,189.8 844.6,208.1 838.0,198.3 835.8,194.8 840.9,206.3 835.2,191.5 835.2,190.8 823.6,155.9 829.4,167.1 827.1,177.8 824.0,158.8 822.3,161.4 828.1,182.6 822.2,163.9 852.9,204.0 853.4,199.2 827.7,163.5 855.7,195.8 835.1,182.9 825.3,175.2 827.1,167.9 860.5,165.8 857.7,184.4 859.1,184.9 857.3,194.5 834.4,200.5 827.5,165.8 830.1,156.8 859.9,189.2 828.5,178.9 848.1,208.8 841.0,208.7 841.3,209.3 852.5,200.6 859.8,185.3 856.8,195.9 853.3,198.3 825.0,161.5 841.2,210.1 858.3,187.2 836.5,201.2 824.2,168.0 836.9,204.2 835.1,189.9 857.0,193.0 855.1,203.4 834.7,188.2 832.0,181.9 855.0,196.7 829.9,161.3 857.9,185.6 827.0,176.3 848.0,209.2 833.6,187.9 827.2,185.2 832.1,189.9 827.5,185.2 840.1,207.0 835.3,197.1 823.1,164.2 843.5,210.4 828.5,163.1 848.3,206.3 849.3,210.1 831.9,178.4 826.5,164.3 833.0,187.9 824.1,159.8 831.0,170.8 826.0,164.1 825.0,165.4 829.1,190.7 860.0,186.5 855.0,200.1 840.5,209.3 825.7,160.8 827.1,176.6 833.9,181.6 828.6,187.6 824.0,158.3 826.2,157.0 824.9,163.8 859.2,173.3 836.6,202.2 823.9,166.9 831.3,192.8 860.0,171.6 829.6,158.0 836.6,190.3 826.3,153.0 835.9,192.4 859.2,184.4 854.9,198.7 847.9,207.6 823.2,169.7 833.5,197.5 827.6,168.2 838.2,198.3 835.7,194.2 838.9,198.3 857.1,188.9 829.2,167.7 828.0,178.3 858.6,176.7 827.0,171.2 827.6,174.7 836.0,197.0 829.9,158.8 855.2,201.3 844.4,207.9 857.3,190.4 831.7,194.9 823.2,158.6 837.2,203.0 842.2,205.7 855.8,193.4 841.6,209.8 860.6,169.1 837.1,190.3 843.4,209.4 834.8,182.9 830.8,194.1 852.1,207.4 854.3,194.9 853.5,198.6 855.9,191.3 824.1,165.4 830.6,185.6 857.5,188.6 841.1,202.8 834.5,188.1 829.4,175.2 849.3,210.1 828.2,159.1 831.9,176.6 835.8,192.4 858.8,182.8 855.2,199.9 826.6,178.7 831.2,188.3 823.5,163.7 825.2,171.2 829.8,167.6 844.2,208.4 831.2,178.3 828.5,186.5 829.1,162.4 831.5,188.4 828.3,177.7 851.7,206.3 838.7,198.5 825.2,179.3 858.8,188.1 858.3,190.4 850.8,206.7 851.7,208.7 836.0,195.1 823.7,152.7 857.5,191.3 860.9,165.1 828.0,152.4 853.3,206.1 823.8,164.9 827.4,155.0 859.0,177.8 833.3,192.0 825.4,158.9 826.4,153.2 842.4,204.9 856.4,189.0 828.2,184.4 823.5,172.0 856.3,196.3 825.4,164.9 823.1,155.4 828.2,178.2 830.3,158.9 849.5,206.1 837.0,201.2 833.5,199.0 859.8,178.0 855.6,202.0 857.4,190.9 829.6,184.4 842.3,206.7 824.7,153.8 852.2,203.1 850.2,209.2 830.1,164.1 854.2,201.4 836.1,196.4 829.4,186.4 828.2,155.0 859.9,176.9 824.0,161.7 840.0,202.5 854.4,199.0 832.9,183.0 836.1,199.7 858.1,193.1 832.1,183.3 852.0,206.0 857.7,186.5 825.1,163.3 856.4,192.7 859.7,184.5 827.2,155.5 831.0,190.2 832.1,191.4 831.9,178.1 829.5,170.9 840.8,202.0 842.0,210.7 827.6,173.6 834.8,194.9 838.0,197.4 853.9,204.2 827.1,179.4 856.4,189.0 832.7,191.4 842.1,211.0 821.1,133.2 826.8,146.5 823.4,146.3 828.8,139.5 822.5,108.8 823.3,150.0 823.1,128.4 823.7,116.8 828.6,146.9 825.3,137.8 822.8,138.4 821.7,119.8 825.1,145.3 827.9,136.0 824.9,145.0 825.2,115.4 823.9,132.7 822.4,145.9 824.0,137.8 824.8,118.2 825.9,131.1 821.8,141.0 823.4,138.0 823.7,140.4 825.3,125.2 821.2,149.5 827.6,139.3 827.6,140.2 822.3,116.5 821.5,116.9 823.7,147.2 826.6,149.7 826.7,140.1 827.9,142.1 824.6,149.9 823.3,142.0 821.9,84.4 821.9,103.0 823.0,109.0 825.3,118.3 827.0,128.5 827.0,137.0 820.8,140.0 999.1,199.4 975.3,181.4 974.5,172.7 974.1,163.2 978.1,196.3 977.0,187.3 1001.1,202.1 978.9,197.1 980.2,198.3 998.7,201.4 977.0,183.1 973.5,154.0 1003.2,195.4 1004.3,193.7 973.2,165.0 978.3,191.3 973.6,180.4 1006.3,182.3 974.4,172.8 978.6,182.8 973.0,154.0 976.4,171.7 973.9,183.6 972.4,166.3 974.8,175.2 983.8,204.6 973.8,167.5 977.2,174.7 972.2,174.8 973.0,165.1 1006.0,182.7 979.1,189.6 1000.2,197.6 975.4,163.2 999.2,200.0 994.9,207.0 976.6,179.6 972.2,165.4 1002.7,192.3 1003.5,198.2 975.1,166.8 987.0,207.5 973.3,162.6 994.9,209.1 997.0,207.5 1000.6,197.4 982.7,196.9 977.8,176.7 974.5,161.6 1006.5,180.9 975.8,165.7 975.3,181.2 1001.5,189.5 973.1,156.1 973.1,154.5 998.8,205.0 978.2,194.0 974.1,168.5 980.3,189.8 975.5,177.8 977.5,189.0 976.3,184.3 994.3,210.8 973.8,172.3 997.4,206.8 992.9,210.1 1003.5,191.2 984.6,202.9 1007.3,185.5 987.4,205.1 979.0,189.3 993.3,209.7 973.1,175.8 974.4,160.6 978.0,189.2 977.2,173.3 976.1,190.7 994.9,205.4 1003.6,192.5 981.2,197.3 974.6,178.1 982.4,198.5 972.6,172.8 974.2,174.5 972.8,175.1 996.8,205.5 972.5,164.7 990.0,208.2 1004.8,186.0 989.3,209.0 1005.4,188.8 1003.5,196.4 996.6,201.7 1002.6,193.8 976.6,180.3 1003.3,188.0 982.3,198.3 1001.0,191.2 974.6,175.7 977.7,191.9 1004.5,195.6 973.4,183.8 971.9,169.8 1004.9,187.8 975.8,182.6 979.4,197.0 974.6,150.7 983.7,199.1 979.6,191.5 979.7,185.1 974.8,159.8 979.9,195.2 974.5,151.6 973.7,179.9 975.6,161.8 978.1,192.8 978.1,190.0 974.5,186.1 987.5,211.1 1002.8,184.5 985.1,205.0 1000.4,202.9 975.6,162.4 1003.5,189.7 1001.1,199.5 977.3,178.1 973.0,168.3 973.0,167.7 1002.2,193.9 1006.6,182.3 1000.4,197.2 977.2,187.8 1004.6,182.8 1006.5,188.5 999.8,196.3 974.3,154.9 990.6,208.5 976.5,171.4 1006.5,183.1 978.8,194.0 976.3,179.8 973.3,169.7 992.0,209.6 997.0,207.3 975.8,169.0 1004.4,181.8 972.7,171.6 973.6,160.6 975.0,167.4 986.4,207.5 1001.6,194.7 974.3,175.8 993.8,208.8 972.1,165.8 983.3,202.8 977.0,192.1 972.2,173.5 979.8,197.3 991.6,210.5 975.9,183.4 979.6,184.3 997.3,205.9 985.4,205.6 1001.7,194.7 1004.5,190.0 981.9,201.2 975.7,185.9 1000.7,199.8 1002.8,188.3 973.6,162.5 974.6,152.9 983.3,199.1 988.5,210.7 999.8,201.8 972.0,172.0 975.7,174.2 995.1,204.6 987.4,209.1 978.2,186.6 975.2,155.8 972.9,151.2 985.2,206.2 999.9,198.2 973.2,158.9 974.8,170.9 990.4,211.0 1004.4,186.8 973.3,157.6 995.0,210.4 975.8,184.0 976.3,180.2 977.0,194.0 985.8,206.9 972.8,180.7 973.9,152.8 973.6,177.5 976.6,181.5 979.0,187.0 981.5,191.9 974.8,186.8 981.4,192.4 979.7,195.0 975.2,165.9 994.6,204.9 979.3,183.6 1001.3,191.3 984.3,203.3 975.3,160.2 972.8,162.3 973.0,176.9 981.4,202.1 974.2,150.0 996.1,209.8 983.7,199.7 976.6,178.8 1004.4,183.7 974.1,179.8 995.0,208.6 974.1,173.1 980.0,194.9 975.9,185.2 984.6,200.4 974.5,163.1 1000.8,193.7 977.5,179.7 977.0,187.4 996.0,206.8 972.3,172.1 1004.9,192.4 973.7,162.6 975.3,176.5 975.6,171.6 979.4,185.9 1000.5,197.0 973.5,162.9 997.6,203.3 1005.7,181.0 983.1,201.7 1002.1,198.9 973.8,181.5 973.8,183.7 982.8,197.9 977.3,186.7 1002.7,199.2 1003.6,185.8 973.4,167.4 974.0,158.8 976.1,183.6 1002.2,193.9 1000.3,202.1 973.7,183.2 980.1,193.1 972.9,154.5 975.0,159.3 975.9,188.5 981.0,195.7 976.1,184.4 987.6,210.9 978.3,195.9 988.5,207.1 980.4,190.6 983.2,199.2 973.7,155.9 973.5,157.1 974.3,152.0 973.2,176.4 978.1,181.5 1003.0,183.4 980.5,193.9 972.2,176.9 977.2,194.2 974.8,169.0 977.0,177.8 982.4,200.5 982.5,197.7 981.6,201.4 998.9,201.1 998.4,198.8 991.7,210.3 1001.8,196.5 980.0,186.1 1004.2,182.5 996.7,200.9 973.5,171.4 1002.7,186.8 974.9,184.2 974.6,152.6 971.9,166.6 999.6,201.8 1001.4,195.7 1004.6,185.8 978.0,180.3 1001.5,194.5 1002.9,198.1 979.2,190.5 973.8,162.6 973.9,183.7 983.0,202.2 979.0,182.1 974.9,158.5 967.4,117.0 970.0,120.0 967.4,122.8 970.2,128.3 967.4,131.0 971.0,137.0 966.4,106.4 970.0,143.0 973.5,146.0 972.0,140.5 1005.7,166.6"/>
</g>
<g fill="#000" transform="translate(781.5 209.5) rotate(-90) scale(1 1.06)"><text x="0.00" y="0.00" font-size="17" font-weight="bold" font-style="italic">B</text><text x="11.40" y="0.00" font-size="16">(</text><text x="15.30" y="0.00" font-size="17">D</text><text x="27.70" y="4.60" font-size="12">s</text><text x="27.60" y="-7.10" font-size="12">+</text><path d="M35.80 -5.30H51.60M46.70 -9.50L52.00 -5.30L46.70 -1.10" fill="none" stroke="#000" stroke-width="1.05" stroke-linejoin="miter"/><text x="53.50" y="0.00" font-size="15">h</text><text x="60.90" y="4.60" font-size="12">1</text><text x="68.40" y="0.00" font-size="16">(</text><text x="75.70" y="0.00" font-size="17">1170</text><text x="108.50" y="0.00" font-size="16">)</text><text x="116.96" y="0.00" font-size="16.5">e</text><text x="125.60" y="-7.60" font-size="12">+</text><text transform="translate(132.20 0.00) scale(1.100 1)" font-size="16.5" font-weight="bold">&#957;</text><text x="139.33" y="4.60" font-size="12">e</text><text x="144.90" y="0.00" font-size="16">)</text><text x="151.70" y="0.00" font-size="16">(</text><text x="156.80" y="0.00" font-size="17.5">&#215;</text><text x="166.96" y="0.00" font-size="17.5">10</text><text x="184.50" y="-6.60" font-size="11.5">-</text><text x="188.25" y="-6.40" font-size="13">3</text><text x="194.10" y="0.00" font-size="16">)</text></g>
<text transform="translate(947.1 245.3) scale(1.2 1)" font-size="19" fill="#000">&#952;</text>
<text x="957.7" y="250.3" font-size="12" font-weight="bold" fill="#000">1P1</text>
<text text-anchor="middle" x="963.2" y="273.0" font-size="18" font-weight="bold" fill="#0000ff" word-spacing="0.4">( a<tspan dy="3.6" font-size="12">3</tspan><tspan dy="-3.6"> )</tspan></text>
</g>
<g id="b1">
<rect class="fr" x="57.00" y="303.00" width="288.50" height="201.50"/>
<text class="t" text-anchor="middle" transform="translate(57.3 517.6) scale(0.925 1)">-180</text>
<text class="t" text-anchor="middle" transform="translate(105.4 517.6) scale(0.925 1)">-120</text>
<text class="t" text-anchor="middle" transform="translate(153.5 517.6) scale(0.925 1)">-60</text>
<text class="t" text-anchor="middle" transform="translate(201.6 517.6) scale(0.925 1)">0</text>
<text class="t" text-anchor="middle" transform="translate(249.6 517.6) scale(0.925 1)">60</text>
<text class="t" text-anchor="middle" transform="translate(297.7 517.6) scale(0.925 1)">120</text>
<text class="t" text-anchor="middle" transform="translate(345.8 517.6) scale(0.925 1)">180</text>
<text class="t" text-anchor="end" transform="translate(53.2 508.3) scale(0.92 1)">0.00</text>
<text class="t" text-anchor="end" transform="translate(53.2 457.9) scale(0.92 1)">0.05</text>
<text class="t" text-anchor="end" transform="translate(53.2 407.6) scale(0.92 1)">0.10</text>
<text class="t" text-anchor="end" transform="translate(53.2 357.2) scale(0.92 1)">0.15</text>
<text class="t" text-anchor="end" transform="translate(53.2 306.8) scale(0.92 1)">0.20</text>
<path class="tk" d="M105.08 504.50v-3.4M105.08 303.00v3.4M153.17 504.50v-3.4M153.17 303.00v3.4M201.25 504.50v-3.4M201.25 303.00v3.4M249.33 504.50v-3.4M249.33 303.00v3.4M297.42 504.50v-3.4M297.42 303.00v3.4M57.00 454.12h3.4M345.50 454.12h-3.4M57.00 403.75h3.4M345.50 403.75h-3.4M57.00 353.38h3.4M345.50 353.38h-3.4"/>
<g clip-path="url(#cb1)">
<polyline fill="none" stroke="none" marker-start="url(#mg)" marker-mid="url(#mg)" marker-end="url(#mg)" points="84.8,467.6 113.0,475.1 254.9,483.2 96.5,493.3 233.6,472.3 230.4,439.7 92.5,503.6 85.0,491.2 234.6,458.0 84.8,477.8 111.3,496.9 235.4,482.1 80.3,446.1 229.6,443.6 228.3,473.3 230.7,485.6 83.2,440.3 86.8,440.4 95.4,490.3 236.0,497.8 232.9,468.2 84.1,489.8 90.9,470.0 229.9,449.8 88.9,492.9 86.6,447.5 235.8,468.4 91.3,468.4 91.9,478.8 110.5,466.0 87.2,503.8 226.7,456.4 235.1,484.5 233.6,474.6 226.0,452.0 83.3,463.0 256.3,479.9 237.4,479.4 91.2,494.2 89.8,497.9 227.9,485.3 234.7,487.7 241.0,491.6 85.2,452.0 226.6,447.5 241.0,486.6 235.2,501.3 227.5,453.7 84.9,459.7 257.0,451.0 87.2,448.8 94.7,476.0 231.0,483.5 232.9,458.9 108.8,477.5 226.0,466.7 77.9,352.9 234.0,482.9 226.4,442.1 233.6,503.8 230.3,463.7 92.9,474.4 83.9,465.2 240.8,493.1 83.7,455.8 234.3,496.0 83.6,471.0 235.8,505.2 80.4,453.6 88.3,455.6 108.9,500.9 239.6,493.3 96.5,495.8 236.6,494.1 256.0,464.8 234.2,498.7 228.0,470.7 254.6,476.5 92.1,494.5 228.2,430.3 87.6,495.2 85.8,502.5 237.2,488.7 232.3,464.7 108.9,496.4 232.5,503.4 227.6,471.7 228.1,442.8 231.6,442.4 88.4,473.3 232.5,474.9 87.7,482.7 91.5,473.8 95.0,484.8 87.4,486.4 89.4,459.8 109.5,474.6 80.9,443.3 235.2,490.4 88.9,485.8 83.8,474.4 232.6,488.3 89.6,470.0 81.8,448.1 231.5,458.7 87.4,440.0 233.2,476.8 89.4,492.1 92.4,486.1 85.1,483.0 80.5,440.8 238.0,485.8 231.5,490.9 229.2,472.4 86.8,498.7 230.0,474.7 89.1,503.7 255.9,478.9 225.0,429.0 92.9,483.6 228.8,408.3 241.2,498.3 227.2,464.8 80.1,442.6 90.2,496.1 89.4,492.9 94.0,500.6 87.3,487.8 87.7,477.3 241.3,495.5 95.9,485.3 230.1,476.6 230.1,468.4 240.9,487.8 254.9,500.9 82.6,467.2 229.9,471.6 83.0,477.3 241.5,490.9 231.8,445.9 254.2,460.8 87.7,477.4 84.9,477.8 84.7,420.8 84.3,477.7 227.9,452.0 226.2,468.5 229.7,442.7 86.8,442.8 233.6,476.4 230.4,458.8 87.5,463.2 109.0,459.0 235.8,470.6 229.7,502.9 85.0,473.6 90.7,479.5 229.2,492.6 232.0,446.2 231.2,464.2 238.3,494.7 95.9,502.6 235.4,490.3 228.4,475.3 88.6,487.6 95.3,498.0 235.3,471.1 238.3,504.7 86.3,461.4 221.9,347.9 109.4,487.2 225.0,407.4 235.1,479.7 80.7,443.6 230.9,490.9 93.8,491.6 235.4,473.7 257.0,443.5 229.6,435.9 85.5,439.8 234.8,480.8 83.3,467.7 228.0,496.4 93.5,481.4 87.2,504.6 83.6,440.2 232.9,498.1 234.9,472.7 95.9,486.2 92.9,481.1 94.6,502.6 84.3,487.9 235.8,461.7 83.4,473.7 86.8,496.6 83.7,471.7 228.9,473.9 96.1,498.6 253.9,477.5 96.5,495.7 227.5,468.8 111.8,476.4 85.0,494.1 257.1,496.5 234.9,474.7 84.2,457.6 92.2,479.4 78.8,440.7 239.4,494.7 253.9,473.4 238.9,489.6 92.1,475.2 82.9,419.3 229.1,443.9 257.2,484.4 86.0,485.1 92.8,477.5 82.6,404.6 111.3,426.0 237.6,502.8 81.0,396.8 84.1,491.0 89.5,461.3 110.4,494.2 231.8,477.0 109.1,471.0 231.6,466.2 85.2,485.9 253.9,498.8 228.8,443.7 112.3,481.5 112.9,478.2 231.0,503.3 111.3,468.4 228.2,467.0 96.0,494.0 90.4,474.7 252.5,458.0 233.9,489.6 228.9,434.0 253.9,462.6 87.4,485.6 233.7,467.6 236.6,494.3 235.9,486.3 84.1,476.3 85.6,466.0 230.5,466.5 234.8,461.6 84.1,493.9 256.0,472.6 238.4,489.3 85.7,466.5 110.6,464.0 230.4,435.0 227.1,434.4 84.1,461.6 230.8,493.3 233.7,501.8 85.0,421.0 227.0,463.2 239.1,490.1 234.6,483.0 110.2,488.3 86.0,505.3 227.1,480.6 234.3,456.1 228.8,431.6 111.0,472.1 230.6,438.7 84.2,447.9 229.3,469.6 84.1,471.8 87.3,471.1 228.2,405.0 87.0,479.5 96.3,495.3 255.6,470.5 232.2,486.6 225.2,487.8 88.8,492.4"/>
<polyline fill="none" stroke="none" marker-start="url(#mr)" marker-mid="url(#mr)" marker-end="url(#mr)" points="107.2,503.0 103.7,495.5 104.5,477.9 103.2,503.6 104.3,502.5 100.7,502.9 101.6,493.0 104.7,502.5 103.9,482.1 103.7,492.0 102.3,499.8 103.8,504.5 104.6,503.3 105.3,479.7 100.6,494.6 100.4,504.3 100.2,494.0 102.6,487.2 103.9,480.1 106.3,483.1 103.4,497.4 103.5,486.4 101.5,493.0 106.0,491.1 106.3,497.5 102.7,492.2 100.7,501.3 105.7,499.1 106.4,485.9 102.3,503.1 106.6,499.9 103.7,494.0 100.6,492.7 103.7,500.5 99.2,499.4 105.5,478.8 105.4,496.8 104.7,486.7 107.8,490.2 108.2,501.7 100.1,497.6 102.6,496.4 101.7,498.1 100.6,503.2 105.6,500.3 108.1,498.9 103.7,495.7 102.8,494.3 105.6,504.3 107.9,502.8 102.5,497.6 104.1,496.5 100.9,502.0 105.1,481.7 98.7,503.4 102.4,499.6 102.0,491.1 101.6,501.5 101.5,500.0 103.6,482.8 98.7,503.2 99.0,499.9 106.5,490.5 102.8,490.5 104.1,478.4 108.3,501.7 108.0,502.3 101.8,498.4 107.3,497.1 104.6,478.8 105.4,498.9 105.3,497.0 104.2,481.8 105.5,481.9 103.4,495.9 105.5,503.8 104.9,484.2 100.0,505.4 103.6,492.8 108.2,501.6 106.6,496.8 102.5,490.5 100.5,494.7 105.5,505.3 102.9,505.1 100.2,497.3 103.2,491.3 102.4,501.9 103.2,485.2 107.9,495.2 105.7,481.8 102.6,502.5 104.0,483.5 99.8,495.6 107.0,502.8 99.2,505.4 102.8,505.1 105.4,477.9 102.4,501.5 105.4,487.9 100.3,497.5 99.0,502.9 102.6,485.8 105.1,505.4 102.7,495.6 99.8,495.5 107.7,498.3 107.4,491.7 100.4,493.5 104.4,480.6 106.4,489.9 107.4,486.7 104.2,494.2 101.6,503.0 106.0,480.4 103.3,498.3 103.3,486.8 107.5,500.6 99.3,499.9 101.0,490.6 107.2,492.1 105.5,505.2 107.7,492.5 104.0,492.9 102.7,493.0 103.6,492.1 101.4,488.6 108.6,503.7 103.9,490.5 108.6,503.3 106.8,490.9 101.9,489.4 103.1,503.8 102.2,492.1 104.7,496.7 108.4,503.8 108.3,503.2 104.3,485.1 107.2,494.4 101.5,499.0 99.5,502.2 103.7,485.3 107.7,491.0 102.6,500.2 106.3,480.0 104.3,487.2 100.8,499.4 105.6,484.4 101.5,498.9 103.2,501.6 107.1,490.7 106.5,483.1 106.0,504.6 107.5,501.0 100.3,499.8 107.4,498.0 104.2,504.7 104.3,486.9 106.2,487.8 106.8,482.1 104.7,499.9 105.0,487.9 102.7,503.2 107.5,498.1 98.4,503.9 101.3,503.5 103.9,480.2 100.8,502.2 108.7,504.9 106.3,483.9 100.9,492.2 100.6,500.0 103.9,488.3 106.9,491.1 101.7,497.3 106.3,488.4 101.9,502.1 105.5,481.9 106.3,504.8 106.1,489.6 102.6,502.5 101.5,504.9 100.4,497.3 103.5,497.2 99.8,502.7 107.1,488.9 107.6,500.2 106.4,480.0 108.2,500.9 106.2,480.6 108.0,462.0 245.5,494.7 248.7,478.8 247.8,496.6 248.6,499.3 244.8,500.2 248.8,503.6 245.9,492.2 251.1,473.8 250.2,500.3 250.3,495.3 244.7,499.1 252.9,492.7 246.8,493.9 244.9,499.8 247.9,483.2 253.0,492.9 251.3,505.0 246.9,486.9 250.5,485.3 250.4,498.8 249.5,503.2 245.3,495.4 246.8,491.6 246.9,494.6 246.0,505.3 251.9,481.7 245.0,502.9 247.6,487.3 248.2,484.5 246.8,491.9 247.4,499.6 246.2,486.1 250.8,497.6 250.2,503.2 246.4,499.3 250.8,503.3 248.9,480.9 248.5,493.5 244.6,493.9 246.7,485.2 250.9,477.2 251.7,480.4 246.5,492.0 251.0,501.2 244.7,490.0 250.3,488.8 250.1,501.2 247.8,493.5 246.4,504.0 246.5,501.1 248.3,493.1 248.2,489.4 244.0,493.7 253.3,500.5 249.1,482.2 246.4,487.1 245.1,501.8 244.1,504.5 245.1,489.5 248.7,494.2 250.8,494.0 245.2,490.1 245.4,491.1 251.3,475.2 249.7,493.9 250.5,501.6 252.1,505.2 247.0,495.3 253.5,502.6 246.7,485.6 243.8,495.7 250.1,474.1 251.6,487.1 248.3,481.4 250.9,499.1 247.2,488.9 250.1,484.0 247.9,483.0 246.2,500.9 250.2,482.4 251.7,490.5 245.0,496.8 244.7,495.1 250.7,504.7 249.3,497.2 250.7,470.8 244.8,492.7 247.9,491.4 251.4,475.8 249.6,500.7 251.8,481.2 251.1,470.8 248.5,479.7 248.3,483.9 249.5,481.5 251.5,501.1 249.9,473.6 246.0,504.5 251.3,488.2 248.4,496.5 245.3,504.0 248.9,497.7 245.5,487.9 248.3,488.8 250.1,491.2 247.3,505.3 246.4,495.1 243.7,505.4 249.8,494.5 252.0,492.8 250.1,473.7 252.2,496.7 248.0,498.2 245.6,503.1 244.8,493.4 251.5,495.4 251.7,482.4 249.4,495.1 243.2,500.2 252.9,503.1 250.8,482.3 251.0,497.6 253.0,505.4 249.5,482.2 250.7,479.8 251.0,480.7 249.2,499.6 243.9,499.8 253.2,500.4 253.3,499.4 249.4,476.8 248.3,489.8 250.5,472.5 244.2,491.1 251.0,472.3 252.6,493.8 251.9,479.5 249.9,500.2 249.0,493.8 251.6,492.5 246.9,483.7 251.4,489.1 250.5,481.0 252.9,496.0 248.9,482.3 245.7,500.0 246.9,504.4 250.3,488.3 250.8,493.2 249.2,494.1 252.1,486.2 252.6,490.0 244.6,490.4 245.3,493.2 248.1,493.2 245.8,497.0 246.9,489.4 247.2,498.7 246.4,486.8 247.5,483.9 249.9,496.3 246.5,499.2 247.4,482.8 246.4,487.8 248.3,496.9 248.8,496.2 251.0,492.1 252.7,505.2 246.1,487.3 251.5,474.7 253.7,505.2 250.2,499.3 250.7,499.8 249.1,486.9 251.0,503.3 244.5,490.3 252.3,483.6 248.7,486.1 249.3,505.0 249.1,501.6 244.4,499.9 247.3,502.8 251.5,474.6 251.0,474.9 250.0,477.2 249.9,477.9 246.2,496.9 246.2,487.0 244.1,500.0 252.1,498.7 246.6,502.3 250.7,504.5 246.4,495.6 244.3,498.7 248.8,501.1 243.5,497.3 249.2,498.5 249.3,501.2 253.0,501.0 248.9,498.9 253.2,463.0"/>
</g>
<g fill="#000" transform="translate(17.7 503.5) rotate(-90) scale(1 1.06)"><text x="0.00" y="0.00" font-size="17.5" font-weight="bold" font-style="italic">B</text><text x="12.40" y="0.00" font-size="16">(</text><text x="16.10" y="0.00" font-size="16">D</text><text x="26.90" y="-6.90" font-size="12">0</text><path d="M34.90 -5.00H50.20M45.30 -9.20L50.60 -5.00L45.30 -0.80" fill="none" stroke="#000" stroke-width="1.05" stroke-linejoin="miter"/><text transform="translate(51.30 0.00) scale(0.620 1)" font-size="16">K</text><text x="59.60" y="4.70" font-size="12">1</text><text x="67.60" y="0.00" font-size="16">(</text><text x="75.40" y="0.00" font-size="15.8">1400</text><text x="106.30" y="0.00" font-size="16">)</text><text x="117.10" y="-8.70" font-size="9.7">&#8722;</text><text x="121.66" y="0.00" font-size="16.5">e</text><text x="130.30" y="-7.60" font-size="12">+</text><text transform="translate(136.90 0.00) scale(1.100 1)" font-size="16.5" font-weight="bold">&#957;</text><text x="144.03" y="4.60" font-size="12">e</text><text x="149.60" y="0.00" font-size="16">)</text><text x="156.40" y="0.00" font-size="16">(</text><text x="161.50" y="0.00" font-size="17.5">&#215;</text><text x="171.66" y="0.00" font-size="17.5">10</text><text x="189.20" y="-6.60" font-size="11.5">-</text><text x="192.95" y="-6.40" font-size="13">3</text><text x="198.80" y="0.00" font-size="16">)</text></g>
<text transform="translate(187.7 539.7) scale(1.2 1)" font-size="19" fill="#000">&#952;</text>
<text x="198.7" y="544.1" font-size="12" font-weight="bold" fill="#000">K1</text>
<text text-anchor="middle" x="201.3" y="567.7" font-size="18" font-weight="bold" fill="#0000ff" word-spacing="0.4">( b<tspan dy="3.6" font-size="12">1</tspan><tspan dy="-3.6"> )</tspan></text>
</g>
<g id="b2">
<rect class="fr" x="438.50" y="303.00" width="292.00" height="201.00"/>
<text class="t" text-anchor="middle" transform="translate(438.8 517.1) scale(0.925 1)">-180</text>
<text class="t" text-anchor="middle" transform="translate(487.5 517.1) scale(0.925 1)">-120</text>
<text class="t" text-anchor="middle" transform="translate(536.1 517.1) scale(0.925 1)">-60</text>
<text class="t" text-anchor="middle" transform="translate(584.8 517.1) scale(0.925 1)">0</text>
<text class="t" text-anchor="middle" transform="translate(633.5 517.1) scale(0.925 1)">60</text>
<text class="t" text-anchor="middle" transform="translate(682.1 517.1) scale(0.925 1)">120</text>
<text class="t" text-anchor="middle" transform="translate(730.8 517.1) scale(0.925 1)">180</text>
<text class="t" text-anchor="end" transform="translate(434.7 507.8) scale(0.92 1)">0.00</text>
<text class="t" text-anchor="end" transform="translate(434.7 457.6) scale(0.92 1)">0.25</text>
<text class="t" text-anchor="end" transform="translate(434.7 407.3) scale(0.92 1)">0.50</text>
<text class="t" text-anchor="end" transform="translate(434.7 357.1) scale(0.92 1)">0.75</text>
<text class="t" text-anchor="end" transform="translate(434.7 306.8) scale(0.92 1)">1.00</text>
<path class="tk" d="M487.17 504.00v-3.4M487.17 303.00v3.4M535.83 504.00v-3.4M535.83 303.00v3.4M584.50 504.00v-3.4M584.50 303.00v3.4M633.17 504.00v-3.4M633.17 303.00v3.4M681.83 504.00v-3.4M681.83 303.00v3.4M438.50 453.75h3.4M730.50 453.75h-3.4M438.50 403.50h3.4M730.50 403.50h-3.4M438.50 353.25h3.4M730.50 353.25h-3.4"/>
<g clip-path="url(#cb2)">
<polyline fill="none" stroke="none" marker-start="url(#mg)" marker-mid="url(#mg)" marker-end="url(#mg)" points="667.1,484.1 499.9,457.5 508.6,475.5 676.3,500.8 498.8,468.6 482.4,404.7 481.9,451.8 657.7,471.2 499.8,449.1 483.4,447.2 489.3,458.8 639.4,441.7 519.5,490.3 673.2,490.8 528.3,495.6 482.9,426.7 532.2,498.7 483.3,434.3 631.0,431.1 664.0,477.1 673.3,496.9 476.8,443.9 497.0,427.5 509.9,481.4 512.0,462.6 674.4,495.3 532.0,497.9 663.4,483.4 484.2,456.7 505.6,452.4 627.2,454.3 516.7,481.4 482.3,427.3 635.5,424.7 510.6,487.9 680.9,500.6 632.3,439.1 525.8,494.4 638.6,421.3 493.4,425.7 498.8,428.2 672.1,496.0 650.7,447.7 497.1,425.8 484.9,362.2 497.3,470.9 669.6,487.8 492.8,458.1 517.8,477.0 663.4,480.5 656.5,473.6 489.5,426.5 659.0,479.7 674.4,499.6 668.9,486.5 512.4,474.8 636.2,468.6 629.1,406.7 508.2,473.0 516.7,474.0 506.2,458.8 520.2,480.9 667.7,490.0 655.4,455.7 535.7,501.7 496.3,463.2 520.9,487.9 620.6,408.6 632.9,437.2 624.9,428.7 639.7,471.2 648.8,479.9 507.5,475.4 629.3,442.3 633.7,427.4 488.5,411.3 486.9,424.0 621.4,430.0 532.5,498.6 658.6,469.1 640.7,459.9 528.9,497.0 679.2,501.4 644.4,467.9 522.8,492.7 528.9,496.7 656.8,463.7 483.4,422.2 493.8,461.1 676.1,497.3 621.5,409.3 675.9,496.3 516.0,485.7 506.0,467.6 484.0,448.2 669.2,491.2 627.3,444.7 492.7,449.0 628.6,460.3 670.2,496.9 517.0,480.9 652.7,452.2 530.7,499.3 635.2,438.0 504.7,473.9 660.8,488.6 634.7,425.2 490.3,410.6 650.9,438.7 653.9,458.2 624.2,433.3 499.1,469.5 629.3,435.2 629.3,450.4 511.1,477.6 670.2,486.3 643.8,449.8 502.1,454.7 678.3,500.7 627.0,392.0 517.7,483.5 497.8,451.9 495.3,448.6 639.9,430.6 672.2,493.6 623.4,429.9 628.5,420.3 619.4,420.2 642.5,471.0 486.0,458.8 514.5,484.7 677.5,499.3 651.9,450.8 485.5,458.0 518.1,485.5 481.4,431.9 502.9,476.5 485.5,426.8 644.4,467.1 486.9,423.0 635.9,410.5 678.1,501.6 637.2,447.7 490.0,455.6 631.7,456.7 653.0,463.1 483.2,454.5 502.5,455.0 479.9,419.6 647.5,445.8 641.1,424.2 670.7,492.5 525.7,496.0 530.5,499.7 526.0,497.8 498.0,452.0 628.0,452.2 623.7,427.8 624.3,431.9 508.5,459.5 528.8,497.4 672.4,488.3 652.8,457.1 497.3,446.1 651.4,480.1 644.5,445.0 681.7,501.7 506.1,469.8 671.6,493.3 533.2,500.6 508.7,459.0 494.8,459.6 527.7,494.6 662.6,492.4 516.7,492.4 631.6,404.2 637.4,461.0 493.5,466.6 478.0,419.9 623.2,424.9 628.8,438.7 670.9,492.1 653.8,478.9 665.9,478.7 481.3,411.7 630.1,422.0 644.3,438.4 481.9,416.3 662.8,490.5 662.9,493.0 666.9,482.3 635.0,417.1 508.4,467.4 507.7,458.0 668.2,483.6 643.7,476.0 526.9,496.7 638.5,430.4 640.6,444.9 661.5,491.6 507.6,480.0 483.5,416.1 507.2,475.5 629.2,425.0 529.9,497.8 622.3,432.2 673.9,498.8 509.1,467.1 671.2,489.5 523.0,494.4 657.7,478.0 676.0,499.8 674.2,499.0 529.4,498.6 653.2,480.7 646.4,444.0 479.5,443.9 630.1,453.1 482.7,422.7 482.6,437.3 644.9,423.3 647.2,446.8 630.1,426.4 668.3,490.3 635.8,390.3 508.7,456.7 625.5,348.0 520.1,488.9 662.1,485.0 640.7,465.1 638.4,432.0 486.8,447.4 488.8,447.4 516.6,472.7 479.7,426.6 482.0,406.9 494.3,425.0 658.0,483.6 671.5,498.7 482.5,390.0 518.4,487.5 494.9,454.3 481.3,429.4 491.8,452.8 638.2,442.5 656.6,459.8 515.7,484.1 508.7,481.5 502.8,454.9 478.3,443.6 477.8,432.0 651.6,464.4 491.9,451.8 478.7,419.2 663.4,475.4 478.2,428.6 491.3,461.8 659.3,482.3 492.5,434.9 528.0,495.2 636.8,461.5 676.9,500.2 655.5,475.5 481.3,438.1 531.9,497.9 633.7,431.6 655.9,476.3 500.6,460.7 503.0,454.9 527.5,493.5 481.6,416.7 630.8,409.5 522.4,489.7 547.6,502.0 647.9,478.8 530.2,498.3 479.0,362.8 504.7,458.3 671.8,493.0 662.0,485.8 671.5,487.4 633.1,439.4 673.6,492.5 482.1,420.4 517.9,480.9 646.5,468.3 639.0,426.0 531.7,500.0 496.1,464.8 491.1,444.7 510.2,482.1 496.9,420.8 531.2,499.9 656.5,482.0 502.6,460.7 497.6,459.9 530.8,499.4 518.8,489.6 668.0,489.5 665.6,491.3 662.0,490.3 495.5,451.0 479.9,428.9 508.1,474.0 642.9,421.1 488.9,441.9 527.9,499.9 651.2,461.9 653.6,468.5 499.8,478.5 511.7,479.1 508.0,478.4 678.1,500.3 494.3,439.4 662.3,473.6 501.5,448.1 477.3,427.9 659.7,484.8 518.9,493.9 673.9,498.1 512.5,474.1 628.5,405.3 476.9,429.9 672.3,493.8 483.3,434.2 533.5,501.3 491.1,413.5 536.1,501.5 666.4,494.1 484.3,425.0 651.2,439.5 654.1,461.1 646.8,475.0 519.1,479.0 667.7,495.3 657.9,474.4 679.2,500.7 669.7,491.0 508.4,469.5 486.9,430.1 499.5,468.5 625.8,451.4 505.5,463.2 543.0,502.5 656.6,459.2 499.8,430.1 514.3,481.4 498.1,432.1 509.5,465.8 514.3,467.9 651.3,453.6 643.2,439.8 498.3,436.7 480.5,447.2 480.0,421.2 631.9,425.9 629.4,423.7 490.0,419.5 645.0,431.0 482.2,450.5 508.8,459.5 655.4,486.6 502.0,446.2 490.1,461.8 660.5,480.9 628.0,444.6 552.6,498.2 633.4,429.6 676.3,496.0 506.4,456.9 654.1,454.0 625.5,447.7 476.0,428.1 623.7,403.7 533.7,501.6 529.0,494.6 489.6,456.6 678.1,496.9 500.7,448.1 623.6,426.6 487.6,454.5 648.6,473.7 476.9,441.7 500.0,463.2 500.6,443.5 660.1,483.6 624.8,412.7 485.1,446.7 659.8,475.7 521.4,486.5 648.6,448.6 644.3,475.4 647.8,429.2 491.0,423.2 503.7,481.6 506.6,478.5 521.9,495.0 649.0,446.1 523.4,493.7 488.5,415.6 672.6,492.8 509.5,468.3 661.2,487.5 635.1,404.3 510.8,473.5 501.1,442.4 517.6,485.3 520.8,483.7 656.7,463.1 518.5,479.8 669.6,495.5 652.2,453.3 627.5,449.4 493.2,471.8 510.5,481.8 611.6,425.8 653.2,462.4 651.5,442.7 659.7,469.6 524.3,492.0 653.0,463.4 626.4,436.0 640.4,433.0 513.1,488.9 625.3,441.2 630.0,449.2 503.2,462.5 479.6,415.8 667.3,495.1 491.8,457.1 665.1,491.1 632.3,456.0 478.3,430.0 531.6,497.2 635.8,444.7 643.7,442.5 521.2,495.5 632.3,448.1 640.4,456.4 500.1,449.8 679.8,500.0 514.9,467.8 674.5,494.9 488.5,452.3 526.8,498.6 647.5,442.7 674.8,492.1 638.9,472.8 643.2,474.1 493.2,413.4 653.3,466.3 664.9,482.7 513.5,484.6 487.3,426.3 505.1,480.7 639.6,425.3 514.9,489.0 525.4,491.3 482.9,438.1 638.4,466.0 528.5,493.5 661.7,470.5 505.2,465.3 705.4,494.7 619.5,423.7 533.7,501.4 529.2,497.6 519.0,484.4 490.0,454.5 656.5,483.5 680.4,501.0 489.4,442.6 503.3,448.1 646.2,456.9 523.2,495.4 630.0,386.0 669.1,487.9 636.5,428.0 500.5,450.6 492.6,462.6 633.8,432.8 675.8,500.2 625.0,448.8 637.2,449.6 672.3,492.5 505.5,481.1 525.4,495.7 484.7,445.1 480.3,423.3 500.7,447.2 636.0,441.2 647.3,443.0 530.3,498.1 512.4,487.2 480.9,450.9 508.3,455.6 643.2,441.9 530.6,498.9 500.5,435.8 506.2,480.0 485.0,459.1 649.6,435.6 515.8,479.6 626.6,444.9 494.7,416.7 495.8,462.5 643.3,430.7 516.1,484.5 662.3,482.9 507.1,477.8 641.4,429.2 504.9,463.6 666.8,480.4 625.1,416.0 477.2,430.9 474.7,440.0 497.2,443.0 479.4,445.1 476.4,424.9 528.2,496.8 667.5,487.4 495.2,433.9 499.6,437.0 490.4,436.8 640.6,465.3 657.6,468.3 658.8,462.2 534.1,500.6 499.3,465.0 655.2,487.7 499.2,476.4 480.8,417.7 489.7,416.6 679.0,500.9 527.4,496.5 524.7,496.1 514.5,490.0 512.7,483.2 632.9,462.7 523.1,495.4 671.1,486.3 497.4,431.9 506.4,482.9 676.9,494.9 650.6,435.8 674.7,493.5 490.5,439.3 493.3,459.5 623.9,412.9 502.4,453.2 483.7,452.3 661.7,491.9 499.9,439.3 674.6,493.9 648.9,471.5 675.1,499.6 535.0,501.8 519.3,488.2 499.9,445.4 658.5,482.7 527.2,497.0 481.7,429.2 502.8,467.6 672.9,496.2 663.3,491.4 662.1,485.7 509.1,462.1 654.6,453.3 509.3,463.1 519.7,486.4 477.8,444.3 491.3,424.1 651.0,484.6 643.7,454.3 666.8,486.6 508.0,467.2 493.4,436.2 525.2,493.4 528.0,496.5 509.0,476.4 678.0,499.9 679.7,500.4 629.6,461.2 670.2,492.5 480.0,414.9 642.8,415.0 477.8,443.1 480.5,447.8 511.5,470.6 666.8,481.6 478.6,441.9 492.8,413.9 653.4,446.5 514.9,479.6 515.6,475.4 529.4,495.4 518.9,477.5 642.9,466.0 513.2,476.6 663.3,486.2 637.3,434.8 638.1,440.8 623.2,418.0 518.6,482.9 652.4,443.4 630.4,460.4 496.7,470.1 663.2,482.8 659.5,469.4 480.0,438.0 611.3,387.3 634.5,461.6 524.3,490.4 490.1,452.5 515.0,488.1 648.9,480.4 495.7,466.5 655.7,465.0 654.4,460.6 658.2,471.3 506.0,468.7 647.6,428.0 497.2,461.7 641.6,474.2 636.3,448.9 530.6,497.1 649.0,450.3 500.8,454.5 647.7,443.2 534.0,499.8 632.7,452.3 629.4,446.7 505.7,457.9 493.7,422.3 635.4,426.3 659.0,487.3 663.7,486.5 489.6,420.7 654.1,477.2 660.6,467.5 654.3,487.3 645.2,477.1 646.1,470.0 501.5,445.2 499.8,439.8 635.4,396.2 640.8,412.1 662.8,478.8 531.9,498.1 488.0,408.0 630.6,446.9 487.7,454.4 659.9,482.3 495.2,436.5 506.0,469.6 630.3,439.3 507.0,458.9 511.5,484.5 524.7,498.5 666.1,486.1 495.7,459.0 692.0,502.5 628.7,444.7 649.1,469.1 675.9,497.5 511.5,472.0 499.5,434.3 627.3,443.2 484.1,420.5 516.9,490.2 491.7,418.4 506.3,453.4 488.6,433.5 481.0,423.8 535.7,501.4 672.3,489.5 673.9,498.4 654.4,479.1 653.2,473.3 484.6,430.4 493.1,429.9 648.9,462.7 521.4,484.9 648.8,438.9 643.6,460.9 495.8,465.5 529.9,498.8 486.1,431.2 649.0,470.0 515.3,476.3 637.4,466.1 661.0,468.8 526.3,499.3 655.6,483.7 500.3,462.9 532.0,501.6 670.6,497.1 645.2,445.5 679.3,501.2 510.8,483.7 488.4,456.8 515.8,478.3 666.9,494.4 666.7,495.4 628.6,406.4 653.8,450.5 494.0,418.3 489.8,434.9 518.3,486.6 680.1,501.0 655.9,479.4 498.2,460.8 511.1,471.8 634.8,420.7 495.8,454.7 667.4,486.1 508.6,459.4 488.7,430.3 644.4,439.7 527.7,494.1 485.9,456.4 649.5,480.9 646.0,469.9 651.2,459.9 491.4,420.1 526.9,491.8 513.5,479.0 525.6,497.6 632.6,446.8 496.2,438.1 526.4,498.7 640.9,450.6 526.2,493.3 643.8,465.1 658.4,481.5 488.2,463.3 659.0,484.8 521.8,493.1 483.7,450.8 673.7,499.2 665.0,476.7 493.8,473.7 531.0,499.3 649.9,454.4 675.9,498.7 508.5,472.1 657.4,464.5 527.6,495.4 650.8,469.3 486.5,423.2 502.0,463.1 482.8,454.3 650.1,471.5 633.8,419.3 655.7,476.2 531.2,499.3 632.3,434.5 496.0,443.7 501.7,468.6 650.4,463.9 648.1,474.4 672.7,489.5 477.4,437.2 481.2,424.6 632.1,459.7 509.2,462.7 525.6,496.9 638.2,442.8 502.8,471.4 677.2,497.8 662.6,478.0 651.3,451.2 493.3,426.5 666.2,487.9 699.4,496.8 639.7,423.0 485.4,435.0 639.9,449.5 660.5,485.2 663.3,484.3 656.8,483.9 647.4,471.7 510.9,462.0 637.9,466.7 522.6,492.6 622.5,380.8 495.0,456.2 633.9,398.4 677.8,496.1 648.0,437.0 520.6,492.5 636.5,405.9 527.2,498.6 479.9,439.0 649.1,452.4 502.8,473.0 527.7,498.4 667.1,488.2 494.9,416.9 505.6,457.6 669.2,488.3 536.0,501.7 652.4,479.4 485.0,439.0 506.9,459.2 629.4,403.8 663.0,475.7 532.2,498.7 656.9,480.5 496.3,417.0 633.1,443.8 654.2,466.1 480.3,449.0 676.3,499.9 525.1,497.5 659.8,477.0 481.5,441.0 670.2,490.6 633.5,444.7 519.1,483.4 511.2,462.2 645.1,434.4 644.4,426.4 664.8,485.9 632.7,453.6 479.0,448.2 487.9,418.5 677.4,501.1 476.8,445.0 633.0,433.1 494.9,452.5 618.8,422.4 524.7,495.9 494.0,447.0 656.1,483.4 514.2,472.9 526.1,492.1 512.8,476.5 487.0,378.4 502.8,465.0 642.1,438.5 640.7,450.2 619.9,427.0 663.5,483.7 493.0,439.4 523.6,494.0 639.5,455.5 499.2,446.7 621.1,413.4 672.6,498.7 667.7,495.2 494.4,422.9 642.1,431.6 633.0,423.7 633.0,407.7 679.6,501.6 644.9,453.0 508.1,479.0 645.6,440.0 621.3,433.1 661.9,487.5 661.7,480.6 494.7,420.2 681.9,501.5 627.9,449.8 523.8,495.8 492.5,473.7 483.3,427.3 473.5,431.0 638.1,425.3 527.5,498.5 621.3,431.0 641.7,466.3 497.2,463.1 679.3,499.7 516.8,484.2 525.8,494.1 662.9,487.0 623.0,435.5 636.5,430.8 503.5,469.6 483.8,433.9 494.5,457.7 651.6,472.6 640.0,453.3 668.6,485.1 491.8,417.5 670.8,493.6 662.0,480.6 644.9,476.7 502.3,478.3 664.4,483.3 483.0,380.0 519.2,491.1 668.2,493.7 649.0,462.9 490.0,466.5 650.9,437.3 494.6,445.8 479.3,420.9 657.2,484.6 639.4,431.2 507.8,457.2 634.8,425.2 661.2,481.7 647.9,437.3 522.0,490.7 502.4,444.8 516.6,472.6 670.5,486.0 486.4,438.2 659.1,475.0 499.1,440.9 505.8,462.3 512.0,466.6 482.2,452.6 618.0,422.8 469.2,423.7 476.6,430.9 647.1,433.0 663.3,493.0 486.6,460.4 614.3,400.6 511.4,462.6 663.8,477.6 631.0,439.1 675.3,498.5 479.0,422.9 514.0,485.1 522.6,496.3 663.3,473.2 530.4,499.4 667.7,480.9 504.8,482.8 678.8,499.2 472.0,428.0 673.7,495.8 506.6,459.7 652.6,462.4 628.7,435.4 680.2,501.2 669.6,484.0 695.0,500.0 488.9,439.9 627.0,405.2 647.1,446.3 652.5,472.1 658.8,487.0 487.5,406.1 494.5,461.5 653.0,465.8 658.4,478.4 640.3,463.0 525.3,490.4 652.8,469.5 666.9,484.9 626.1,425.1 484.0,393.2 660.1,484.0 483.4,432.7 650.9,463.9 470.1,444.1 665.6,494.8 659.3,483.0 486.1,462.5 510.5,464.1 624.6,412.4 485.9,430.3 628.6,422.2 678.0,499.6 675.5,501.3 493.7,433.6 479.5,427.1 643.9,422.9 519.1,480.2 507.0,470.2 670.1,496.2 661.1,476.0 502.0,455.0 531.0,498.8 484.6,434.1 499.1,442.7 639.5,445.5 627.6,452.7 648.1,435.2 677.4,495.8 531.2,496.4 485.7,440.2 676.6,500.8 660.1,479.5 491.4,415.8 503.6,477.2 482.3,453.9 629.1,442.6 642.2,439.4 528.0,495.2 643.9,471.1 635.7,468.8 639.0,457.9 502.6,465.4 493.7,444.1 512.8,479.6 631.8,437.4 667.5,494.2 506.2,477.0 502.2,464.1 677.5,501.1 508.3,459.4 482.0,385.0 499.6,465.8 647.1,432.7 520.8,486.0 652.1,467.3 673.0,490.2 657.2,468.4 659.5,485.5 492.3,458.4 655.9,466.0 657.1,468.0 633.3,415.5 655.8,465.6 505.4,461.2 627.8,425.9 534.7,500.5 673.8,494.9 665.0,476.7 643.9,444.7"/>
<polyline fill="none" stroke="none" marker-start="url(#mr)" marker-mid="url(#mr)" marker-end="url(#mr)" points="502.1,466.9 490.7,445.7 487.9,430.3 487.6,438.4 502.5,468.7 515.4,481.0 501.5,465.0 498.8,443.3 515.7,480.6 497.1,442.2 491.2,451.9 534.1,503.9 513.7,481.3 485.3,433.4 519.9,485.9 510.4,477.9 483.6,433.0 484.2,438.1 488.3,434.1 491.8,431.9 508.0,472.2 490.8,429.5 493.6,435.1 500.3,454.0 498.4,456.7 486.1,430.5 504.4,460.5 493.8,460.3 494.4,464.0 492.7,433.2 492.6,456.3 487.2,455.6 495.7,439.3 486.0,420.5 492.3,450.7 501.4,454.6 488.9,435.6 496.1,462.9 513.3,477.5 497.2,463.2 486.0,452.7 525.8,494.9 537.3,503.5 508.1,468.6 512.5,480.1 501.5,466.9 529.1,498.5 508.9,466.4 519.8,486.9 512.3,472.7 493.3,448.7 495.0,444.9 510.9,477.1 496.7,462.0 498.9,444.6 490.9,460.9 492.8,439.6 488.0,456.0 488.3,429.7 488.9,454.0 488.6,460.6 515.7,483.6 487.2,451.7 490.7,442.9 536.9,503.6 519.1,486.1 510.7,475.8 508.9,471.9 500.8,453.4 505.8,461.5 487.9,435.8 501.4,457.4 531.5,499.8 494.1,462.0 500.4,464.8 491.0,451.7 488.8,451.2 514.6,488.1 485.8,429.2 490.4,458.0 531.0,501.1 522.6,494.2 504.7,465.6 492.0,432.3 502.7,451.5 523.0,494.4 489.3,429.4 529.4,501.9 497.2,451.1 488.9,427.7 502.2,468.4 503.8,460.2 483.5,433.2 524.9,492.6 528.3,499.4 511.8,478.4 491.1,447.6 494.7,461.0 501.2,452.4 491.3,448.4 532.4,500.4 502.1,465.5 496.8,459.2 484.2,427.6 492.7,441.5 520.6,489.1 490.5,438.5 505.0,469.5 519.3,485.7 496.5,459.0 483.6,427.8 501.2,459.4 504.3,469.1 512.9,484.9 523.1,494.0 485.0,435.0 488.4,449.8 486.7,433.3 488.6,459.1 488.5,428.9 495.3,460.9 497.4,446.1 488.6,439.1 500.5,466.1 522.6,493.5 488.1,458.3 487.0,452.7 493.2,463.6 487.5,428.8 526.4,498.7 490.4,454.8 526.9,496.6 485.7,431.6 508.7,477.0 514.2,480.9 496.5,448.3 490.6,456.3 531.0,502.0 499.3,455.0 499.6,446.7 499.1,462.3 486.6,435.2 508.0,476.7 497.1,458.5 514.1,478.3 493.5,445.2 489.4,447.2 506.7,470.3 488.2,430.6 488.7,428.9 504.7,456.8 489.8,454.3 502.0,449.4 490.0,462.5 508.6,473.4 494.5,437.0 496.2,460.0 489.2,453.6 512.5,480.4 494.0,450.3 485.7,427.2 491.8,439.6 489.2,455.5 495.2,451.6 490.5,448.9 530.2,499.7 490.9,440.9 507.2,470.7 508.9,471.1 491.3,450.6 506.4,476.7 491.0,431.3 516.9,490.3 528.8,500.3 492.1,442.0 498.7,457.2 510.1,472.2 514.2,482.2 494.8,455.3 491.3,448.2 505.3,466.3 539.0,503.5 485.2,453.6 500.3,444.7 504.2,456.5 501.3,466.0 497.8,458.0 523.2,493.3 496.6,449.4 488.2,442.0 489.4,456.5 494.6,464.2 486.3,455.5 510.5,478.2 485.2,453.8 494.1,442.7 497.9,456.2 489.5,434.2 531.7,502.5 490.1,444.7 508.5,471.8 483.6,428.0 510.2,472.5 515.6,480.6 507.4,476.1 501.8,456.3 495.3,448.6 489.1,455.1 538.2,504.2 485.4,454.3 495.1,442.9 489.9,430.0 512.0,472.1 490.7,432.2 499.0,449.7 496.3,438.2 497.6,446.0 497.4,442.3 512.4,472.6 492.6,433.2 509.1,476.3 504.3,463.2 512.1,476.8 494.4,447.2 484.4,455.5 489.9,448.1 532.3,503.9 491.9,441.1 531.8,503.0 520.4,490.0 491.2,456.7 504.5,458.2 510.0,469.9 485.7,441.3 490.2,443.7 496.7,460.1 484.5,435.0 503.9,459.4 489.8,430.9 485.5,429.1 501.3,455.5 510.9,476.7 507.6,471.6 519.5,489.3 485.6,431.7 500.9,462.7 498.7,458.5 488.8,430.1 498.0,462.9 495.8,458.5 485.3,430.2 486.0,457.2 512.2,476.3 520.1,489.2 505.8,463.0 492.4,440.4 492.7,450.3 488.6,457.3 501.5,447.5 492.9,434.1 495.6,446.5 509.0,475.8 496.7,452.5 501.9,461.7 496.5,452.3 501.8,454.4 500.0,460.6 527.5,498.4 523.1,491.1 513.7,476.8 496.0,441.7 505.5,461.7 487.1,424.0 489.3,455.2 489.9,456.5 491.6,441.3 488.8,446.3 506.9,466.2 501.9,456.4 509.9,474.2 485.3,430.3 537.2,503.0 517.6,486.8 531.7,500.5 485.1,456.1 486.4,440.4 531.5,503.2 502.4,462.1 512.4,481.4 521.7,491.2 488.4,423.2 513.2,485.4 497.7,450.5 502.2,468.0 487.7,457.6 494.0,448.2 496.4,444.2 493.8,443.0 520.1,487.5 522.8,490.2 646.1,442.8 632.6,432.5 665.5,489.1 648.0,466.9 636.9,447.4 652.3,463.9 651.2,456.6 679.6,500.5 642.4,448.7 676.7,501.5 680.2,501.7 633.8,433.5 644.3,450.3 637.5,448.5 681.3,503.9 668.9,489.3 651.2,463.4 669.0,493.4 642.3,448.1 646.1,462.2 656.7,471.6 638.8,450.9 636.5,441.1 667.1,487.0 638.5,439.9 655.4,468.6 642.5,440.0 649.9,455.3 652.6,462.7 670.6,493.7 661.6,481.0 637.8,455.0 642.9,443.1 644.1,459.6 646.5,447.0 654.9,473.8 646.9,449.9 638.8,437.8 654.4,470.6 634.9,457.6 630.9,426.1 635.4,436.1 641.7,453.2 642.4,448.7 633.5,450.2 644.1,451.9 666.8,493.9 679.8,502.1 673.1,495.9 631.8,448.0 635.9,441.4 630.9,445.8 660.0,482.7 663.0,488.4 657.8,479.1 635.8,442.3 651.8,465.7 637.4,451.5 647.9,467.1 653.4,474.3 639.5,441.2 643.5,451.9 643.6,455.8 645.3,441.2 642.1,438.5 638.0,445.2 646.2,463.3 660.1,487.7 648.7,453.7 653.4,468.9 640.8,439.1 644.7,451.9 636.0,428.7 649.2,467.4 656.5,483.2 640.6,447.2 662.2,481.0 670.0,495.2 658.0,483.0 639.5,450.9 648.0,456.7 645.0,465.1 653.5,475.8 644.1,461.3 643.1,460.3 645.8,460.1 636.2,459.6 632.0,448.0 640.0,449.1 645.9,466.2 648.8,451.6 638.4,430.2 636.9,435.3 646.7,465.7 676.5,500.6 649.6,454.4 632.1,440.2 637.8,434.8 646.3,443.9 668.2,495.0 643.7,441.0 641.2,442.8 655.3,466.4 636.6,443.5 643.5,463.8 645.0,451.8 683.5,502.3 643.8,438.7 678.3,499.9 649.9,459.3 664.7,491.4 664.7,485.0 664.4,490.9 637.5,458.5 635.0,445.2 652.3,470.6 656.9,468.4 649.7,467.7 632.7,449.0 653.5,460.4 631.6,431.9 641.2,442.9 666.2,491.5 636.7,435.3 636.8,437.5 668.0,495.3 666.6,485.9 634.2,456.9 650.7,473.6 659.1,484.1 635.5,429.5 641.1,436.4 679.5,504.2 639.7,445.3 637.4,439.5 679.8,503.5 638.0,439.1 638.7,452.2 657.8,471.5 638.1,451.4 638.8,459.9 651.0,469.4 648.0,463.2 635.2,456.3 645.7,444.5 647.8,466.5 654.3,465.2 635.3,432.6 636.5,441.7 646.9,464.4 673.9,497.4 675.9,501.3 647.1,456.4 635.7,433.6 652.1,476.3 663.9,487.1 634.7,458.2 636.0,456.9 637.4,437.9 637.6,428.8 651.9,460.9 664.2,482.5 670.5,491.7 653.4,469.4 632.3,449.1 665.1,486.0 651.8,457.0 654.1,475.7 646.0,442.7 633.6,443.3 651.5,459.8 639.8,448.4 666.4,487.7 667.1,494.2 646.6,444.6 658.0,479.5 660.6,489.7 660.1,489.6 635.6,429.6 643.5,439.1 639.5,446.4 662.6,483.5 662.0,487.1 633.4,457.1 639.0,428.9 652.5,466.4 654.3,475.1 650.8,455.8 659.8,475.2 642.4,458.3 649.3,467.9 642.4,450.6 650.6,463.9 645.8,465.8 650.5,472.4 633.7,451.6 651.9,461.9 633.2,442.1 636.7,440.1 655.0,480.0 654.0,466.1 685.4,503.4 632.2,430.6 635.1,436.0 642.1,445.1 638.8,441.3 648.6,470.9 645.9,459.1 655.9,478.3 640.0,456.3 638.4,429.4 656.0,483.8 660.9,490.0 641.9,440.4 667.9,490.9 646.0,446.4 648.0,457.1 643.3,447.1 645.3,443.5 632.9,439.8 641.5,449.1 645.9,456.1 641.3,459.8 667.2,493.3 650.0,461.2 644.2,464.3 636.6,451.6 631.6,429.2 635.7,434.2 634.9,438.6 636.4,426.9 652.7,471.9 654.1,478.1 644.3,447.2 642.4,462.6 637.5,454.8 653.6,471.8 641.3,461.1 639.9,440.4 638.8,438.3 636.1,447.9 646.2,456.6 635.9,442.8 660.6,487.4 641.0,439.9 633.5,426.8 640.4,452.4 637.9,447.4 634.2,451.0 652.9,474.3 673.4,498.3 656.2,473.9 648.2,462.0 636.7,455.2 646.5,450.2 645.8,467.0 652.0,469.2 634.0,441.5 633.8,434.7 637.3,455.6 666.1,489.9 641.2,452.9 643.3,443.6 654.3,478.3 643.0,456.7 634.0,444.2 666.3,491.9 662.9,485.5 675.4,497.6 634.8,441.6 634.3,435.1 644.6,456.7 640.4,454.4 644.0,460.3 634.2,447.2 661.8,485.1 643.2,439.5 638.7,445.5 665.1,490.5 645.8,458.2 646.1,452.4 671.7,497.5 637.5,443.3 636.5,457.0 654.1,468.1 657.3,472.6 639.8,442.3 635.8,452.4 659.2,483.0 684.7,502.8 630.2,418.6"/>
</g>
<g fill="#000" transform="translate(400.0 502.5) rotate(-90) scale(1 1.06)"><text x="0.00" y="0.00" font-size="17" font-weight="bold" font-style="italic">B</text><text x="11.40" y="0.00" font-size="16">(</text><text x="15.30" y="0.00" font-size="17">D</text><text x="27.70" y="4.60" font-size="12">s</text><text x="27.60" y="-7.10" font-size="12">+</text><path d="M35.80 -5.30H51.60M46.70 -9.50L52.00 -5.30L46.70 -1.10" fill="none" stroke="#000" stroke-width="1.05" stroke-linejoin="miter"/><text x="53.50" y="0.00" font-size="15">f</text><text x="60.90" y="4.60" font-size="12">1</text><text x="68.40" y="0.00" font-size="16">(</text><text x="75.70" y="0.00" font-size="17">1420</text><text x="108.50" y="0.00" font-size="16">)</text><text x="116.96" y="0.00" font-size="16.5">e</text><text x="125.60" y="-7.60" font-size="12">+</text><text transform="translate(132.20 0.00) scale(1.100 1)" font-size="16.5" font-weight="bold">&#957;</text><text x="139.33" y="4.60" font-size="12">e</text><text x="144.90" y="0.00" font-size="16">)</text><text x="151.70" y="0.00" font-size="16">(</text><text x="156.80" y="0.00" font-size="17.5">&#215;</text><text x="166.96" y="0.00" font-size="17.5">10</text><text x="184.50" y="-6.60" font-size="11.5">-</text><text x="188.25" y="-6.40" font-size="13">3</text><text x="194.10" y="0.00" font-size="16">)</text></g>
<text transform="translate(569.2 539.1) scale(1.2 1)" font-size="19" fill="#000">&#952;</text>
<text x="579.2" y="543.8" font-size="12" font-weight="bold" fill="#000">3P1</text>
<text text-anchor="middle" x="584.6" y="567.1" font-size="18" font-weight="bold" fill="#0000ff" word-spacing="0.4">( b<tspan dy="3.6" font-size="12">2</tspan><tspan dy="-3.6"> )</tspan></text>
</g>
<g id="b3">
<rect class="fr" x="818.00" y="303.00" width="292.50" height="200.50"/>
<text class="t" text-anchor="middle" transform="translate(818.3 516.6) scale(0.925 1)">-180</text>
<text class="t" text-anchor="middle" transform="translate(867.0 516.6) scale(0.925 1)">-120</text>
<text class="t" text-anchor="middle" transform="translate(915.8 516.6) scale(0.925 1)">-60</text>
<text class="t" text-anchor="middle" transform="translate(964.5 516.6) scale(0.925 1)">0</text>
<text class="t" text-anchor="middle" transform="translate(1013.3 516.6) scale(0.925 1)">60</text>
<text class="t" text-anchor="middle" transform="translate(1062.0 516.6) scale(0.925 1)">120</text>
<text class="t" text-anchor="middle" transform="translate(1110.8 516.6) scale(0.925 1)">180</text>
<text class="t" text-anchor="end" transform="translate(814.2 507.3) scale(0.92 1)">0.0</text>
<text class="t" text-anchor="end" transform="translate(814.2 457.2) scale(0.92 1)">0.2</text>
<text class="t" text-anchor="end" transform="translate(814.2 407.1) scale(0.92 1)">0.4</text>
<text class="t" text-anchor="end" transform="translate(814.2 356.9) scale(0.92 1)">0.6</text>
<text class="t" text-anchor="end" transform="translate(814.2 306.8) scale(0.92 1)">0.8</text>
<path class="tk" d="M866.75 503.50v-3.4M866.75 303.00v3.4M915.50 503.50v-3.4M915.50 303.00v3.4M964.25 503.50v-3.4M964.25 303.00v3.4M1013.00 503.50v-3.4M1013.00 303.00v3.4M1061.75 503.50v-3.4M1061.75 303.00v3.4M818.00 453.38h3.4M1110.50 453.38h-3.4M818.00 403.25h3.4M1110.50 403.25h-3.4M818.00 353.12h3.4M1110.50 353.12h-3.4"/>
<g clip-path="url(#cb3)">
<polyline fill="none" stroke="none" marker-start="url(#mg)" marker-mid="url(#mg)" marker-end="url(#mg)" points="870.3,457.6 1005.0,423.9 1006.5,416.0 967.3,437.0 1015.8,475.8 822.4,443.1 822.1,449.0 826.1,480.0 854.3,428.4 984.5,429.8 995.4,464.1 836.6,402.8 967.9,454.9 826.7,456.8 1001.0,429.2 978.7,459.4 856.4,449.5 962.9,443.1 833.1,447.5 827.1,430.5 981.6,419.3 997.3,476.0 825.6,445.7 844.4,448.7 985.2,413.2 994.7,388.2 970.0,465.4 818.1,447.9 839.8,402.2 851.9,401.6 981.1,464.0 821.8,435.0 965.6,427.9 851.2,469.6 844.9,463.7 846.6,409.1 851.2,402.1 856.1,411.7 818.9,477.5 848.6,411.3 999.6,411.6 836.0,421.0 1000.0,394.4 986.9,434.7 856.0,405.5 1007.2,436.9 1003.7,408.8 993.1,405.8 993.6,423.7 1003.8,394.2 835.1,407.0 998.8,393.3 974.6,412.2 974.2,445.6 1003.0,478.4 870.2,460.7 823.4,478.8 851.5,439.9 1012.9,422.4 842.7,433.9 970.8,460.5 975.7,402.9 993.7,413.8 858.9,418.2 968.3,447.6 997.1,393.8 844.0,418.0 992.9,384.0 984.2,465.8 832.7,423.5 860.6,451.5 854.4,430.6 972.4,475.6 875.6,456.0 1000.7,462.6 991.8,464.6 848.2,416.9 1000.0,470.5 825.2,435.6 869.0,435.1 826.1,426.5 870.1,475.2 973.8,449.1 975.3,473.5 822.6,435.6 846.1,444.2 997.9,464.4 820.7,424.4 979.7,469.2 963.7,438.3 837.8,476.4 986.3,461.8 965.1,474.7 850.9,411.7 1002.1,465.9 850.0,445.5 966.8,459.7 1014.2,447.5 985.6,454.6 1000.9,469.6 865.3,473.8 822.2,419.5 1009.6,458.3 1015.4,434.7 823.9,453.6 981.5,455.9 817.7,430.3 970.7,477.8 1004.0,448.6 844.3,478.3 992.9,443.0 851.8,471.8 833.1,466.7 962.2,462.0 1014.8,471.7 827.9,437.5 1014.8,416.9 997.0,424.1 852.4,399.8 992.3,475.4 841.3,398.8 817.7,454.7 836.6,381.3 865.7,435.7 987.5,428.6 983.4,458.2 974.2,407.2 990.1,462.3 993.4,438.8 859.6,434.4 966.4,416.9 994.8,420.5 824.7,413.2 831.0,403.3 847.6,450.0 841.0,449.2 972.8,409.6 976.1,427.2 846.1,446.6 999.0,456.6 981.7,428.2 828.3,462.3 971.8,460.5 1008.3,438.4 974.2,426.5 852.0,443.4 985.5,432.5 1004.2,419.3 986.8,447.1 850.2,457.7 837.7,418.0 860.2,426.2 992.1,448.3 1016.1,454.7 1001.6,414.5 864.6,470.8 967.3,421.1 832.8,411.3 846.3,470.2 986.3,416.1 856.7,456.1 839.3,445.0 998.2,442.3 829.5,466.6 835.6,412.4 1012.3,426.6 980.4,427.8 1005.8,414.6 972.2,417.5 965.4,425.6 974.4,405.3 861.4,393.1 865.3,444.1 987.5,438.8 994.9,445.5 837.8,416.6 999.0,465.0 1011.4,428.2 998.9,421.3 846.3,443.4 862.5,451.3 839.3,478.9 999.5,461.9 867.6,410.3 851.3,464.7 868.3,466.7 986.8,433.1 838.1,478.4 868.6,439.8 872.3,464.7 832.9,396.0 859.1,414.7 844.8,403.7 984.6,402.0 818.7,426.0 832.2,401.1 853.2,420.2 861.9,455.0 1009.8,408.2 852.0,405.5 1007.3,456.6 833.4,426.0 975.1,471.9 982.3,422.2 976.7,444.2 973.2,404.2 965.8,445.3 999.5,479.8 834.0,417.0 1016.3,473.9 993.0,468.4 988.2,473.0 826.8,465.4 846.4,429.8 1003.1,391.2 826.1,420.9 842.7,375.7 986.3,445.2 992.7,445.1 836.4,373.0 852.9,417.4 990.3,413.2 853.0,433.9 991.8,437.7 1002.0,408.0 1013.1,472.6 856.7,433.7 824.0,428.6 847.0,407.4 989.3,424.7 986.4,448.1 971.9,426.2 855.0,408.1 858.3,435.2 817.6,458.8 832.7,458.9 963.1,442.4 852.4,424.9 972.9,435.4 851.8,461.4 837.4,456.8 850.0,474.9 863.9,429.4 876.3,466.8 820.4,432.0 829.1,476.9 1010.6,405.1 992.2,406.6 849.5,428.1 968.8,416.7 1003.6,406.4 1015.7,448.5 985.2,445.1 862.9,417.3 839.0,453.6 976.8,426.8 990.3,416.3 869.1,457.7 854.7,447.4 842.4,472.7 1001.7,459.4 1002.6,436.7 998.4,427.7 978.8,411.4 855.9,472.1 843.6,376.8 1013.6,459.6 842.4,452.5 845.1,459.2 966.7,442.3 978.7,411.7 983.3,431.9 1008.5,428.4 996.4,450.6 841.6,455.0 846.9,404.2 854.0,468.5 848.9,423.1 978.6,403.2 818.2,456.9 856.4,429.9 994.3,470.0 988.7,397.8 973.9,468.5 842.9,470.4 994.9,422.5 965.6,474.3 974.7,409.4 983.8,464.9 844.6,458.8 993.6,461.6 826.5,416.8 983.7,443.6 961.3,467.4 982.7,398.7 987.1,465.1 993.1,452.9 852.5,467.7 965.5,424.4 852.0,436.2 988.7,430.1 997.8,401.9 824.3,426.0 842.1,370.6 1016.4,465.1 995.2,383.1 978.7,402.4 1006.2,423.6 843.7,464.9 982.6,437.1 986.8,425.0 826.0,480.9 963.0,449.6 991.6,394.3 863.8,463.2 831.2,460.5 974.5,460.4 857.8,406.7 840.8,456.5 855.0,438.4 976.8,472.2 843.2,382.3 966.7,469.1 860.9,468.5 841.0,473.0 966.7,424.0 975.5,427.4 846.1,407.0 1007.5,408.1 825.6,429.9 961.9,444.4 1012.5,448.7 854.7,380.9 995.0,416.6 851.0,466.4 979.2,445.0 838.4,466.8 977.3,417.3 966.4,437.2 832.4,407.4 837.6,414.9 1011.4,457.7 867.5,413.4 972.6,439.2 862.5,400.5 985.2,460.5 860.2,475.0 989.4,431.2 1014.5,471.4 864.2,426.7 976.3,467.8 1006.6,431.8 849.3,455.1 1005.1,401.7 991.0,394.4 822.0,463.2 986.3,420.8 834.1,444.5 1002.5,437.8 864.3,442.3 846.5,468.1 993.7,389.2 1001.3,409.7 1015.2,436.8 995.4,407.3 978.4,444.2 968.9,475.0 829.8,406.7 842.5,459.6 845.8,441.2 863.7,464.5 859.0,476.3 844.7,393.2 825.0,458.7 854.4,432.2 1015.1,450.9 996.2,448.9 989.2,479.3 820.6,455.4 980.4,406.9 848.6,444.9 971.9,472.3 996.4,413.6 1014.0,444.2 840.7,421.0 826.9,430.0 868.8,463.5 973.3,417.4 859.1,417.6 1004.3,446.4 841.8,432.6 854.8,473.1 990.8,437.7 836.7,433.7 980.3,441.3 848.2,452.1 830.6,411.8 990.6,429.6 830.0,476.8 833.7,472.6 1013.3,415.3 1005.7,450.4 834.5,473.8 863.2,405.8 991.3,459.7 977.3,453.0 834.7,468.5 970.6,442.9 847.5,471.8 836.2,401.4 845.6,402.1 831.4,446.3 857.3,406.9 830.4,459.6 863.3,429.0 1004.8,443.2 982.5,409.0 852.9,453.5 996.1,453.8 818.9,441.1 842.8,450.4 830.8,395.0 984.2,450.0 998.1,468.1 996.9,452.3 852.2,412.5 1000.6,450.0 825.8,416.6 844.0,436.2 974.4,439.1 840.5,429.6 850.4,370.5 818.8,470.8 997.2,411.1 984.6,450.1 858.8,429.1 850.6,456.9 863.0,448.3 868.2,462.3 976.9,396.2 1001.0,422.0 837.3,415.7 979.7,409.4 984.3,406.1 872.8,481.7 848.7,463.4 836.5,404.3 989.7,420.2 862.3,455.8 1002.8,412.0 837.9,442.4 970.8,419.1 842.8,451.0 1008.9,403.6 997.0,403.7 863.9,415.7 823.7,423.9 968.6,462.4 857.6,473.8 841.9,387.5 867.5,430.0 980.2,447.1 850.7,445.2 976.5,445.9 1004.5,422.6 986.0,411.7 982.0,463.6 997.5,470.8 850.4,463.4 976.5,431.3 979.2,436.5 834.3,417.1 853.7,427.2 843.2,392.9 827.3,464.9 838.7,433.6 836.3,461.4 846.8,413.9 993.7,450.4 840.4,399.9 974.8,472.5 821.4,450.4 970.9,473.9 823.4,437.5 993.8,434.0 847.9,368.0 832.6,435.8 850.7,447.2 986.3,412.7 974.6,414.7 831.3,420.9 845.4,465.1 991.8,454.3 868.0,450.4 854.7,422.2 978.1,461.9 846.8,458.2 825.5,471.6 986.6,430.3 846.0,387.3 992.8,384.8 995.4,385.9 992.7,466.1 851.4,429.6 994.4,403.3 991.2,408.2 821.6,471.1 830.8,411.4 1008.3,415.0 1001.1,412.4 826.3,411.9 835.0,439.0 841.1,433.5 868.6,456.3 976.8,419.3 981.6,450.0 860.3,460.3 828.8,445.6 853.9,404.8 1009.8,454.1 980.9,418.9 848.5,431.6 826.6,470.4 1011.8,461.9 845.8,420.8 990.3,472.4 1011.0,422.2 1002.1,400.5 975.0,409.3 839.0,439.5 868.8,415.6 819.8,457.1 836.5,387.2 844.5,386.8 862.3,402.7 1002.9,425.7 836.2,429.2 848.4,407.1 862.1,461.2 973.6,466.2 991.3,426.5 974.2,442.7 1001.9,432.0 984.4,459.9 831.0,409.0 828.1,418.3 1003.7,422.2 1010.0,419.5 864.9,443.8 836.5,433.6 818.6,472.1 993.9,405.6 994.4,474.5 865.7,436.2 1007.6,406.9 996.7,459.6 856.6,455.5 970.8,457.0 990.9,439.6 824.6,405.8 963.5,463.1 826.6,466.7 975.3,427.9 859.2,466.9 843.3,410.3 841.0,475.6 1003.9,470.4 976.5,448.3 862.9,407.2 863.5,471.8 852.6,376.2 991.0,441.1 1008.5,465.8 849.5,465.4 863.5,410.9 868.9,426.5 844.5,461.6 987.1,460.2 852.9,394.5 992.2,437.2 841.8,441.7 993.1,458.7 819.6,438.8 825.8,418.0 864.1,436.3 848.6,476.5 966.7,455.3 860.4,445.0 863.7,426.3 985.1,427.7 1011.6,451.9 825.7,429.6 858.1,430.9 851.0,440.0 845.3,477.1 838.8,431.7 823.0,425.4 828.2,441.4 980.5,407.0 841.4,425.5 1008.8,395.8 864.9,466.7 866.3,477.3 992.4,448.1 863.5,415.5 1013.9,441.9 845.4,451.8 865.4,412.9 848.5,464.1 973.4,430.7 826.5,473.8 836.9,419.6 1013.5,472.7 1006.5,458.4 852.6,474.0 844.5,426.2 865.5,477.6 857.0,402.6 838.6,377.7 1007.8,467.4 979.1,403.6 1002.9,427.0 840.0,416.5 834.8,444.5 865.6,423.9 992.0,456.0 829.2,403.5 841.5,401.1 823.2,458.6 837.4,422.3 979.7,405.2 970.4,432.7 843.8,470.3 838.2,465.1 835.2,399.9 860.8,444.9 860.5,426.4 990.5,478.0 841.9,438.1 834.6,437.5 862.2,422.2 999.9,463.8 997.1,470.9 1004.5,390.3 1001.5,474.9 833.9,433.0 994.6,458.0 985.8,408.0 835.9,458.2 962.6,462.1 977.7,459.6 1007.9,420.7 985.8,401.0 834.4,408.2 988.3,448.1 969.9,453.1 832.7,462.0 850.1,469.7 999.0,422.4 844.4,430.2 847.5,396.8 990.6,479.3 1003.3,460.2 857.9,406.2 997.5,454.1 991.2,418.1 829.9,446.2 1004.5,462.6 859.1,453.0 821.2,428.0 999.8,402.0 969.0,467.4 999.2,475.3 822.7,419.7 862.9,411.1 870.5,440.3 1001.8,425.8 1015.2,465.2 838.0,400.6 982.7,470.0 860.1,425.7 863.8,440.4 860.7,418.9 967.5,417.9 821.9,479.0 827.4,447.0 843.3,454.8 830.0,398.5 826.3,463.6 964.3,437.2 992.8,380.8 869.3,473.8 970.9,427.7 1000.3,443.5 843.3,453.8 1002.0,453.2 852.6,458.5 971.4,464.9 824.3,468.8 1006.3,424.5 969.3,441.1 842.6,415.6 986.9,449.8 854.2,410.8 995.0,456.5 1009.6,439.5 1003.5,402.2 995.0,438.6 826.6,466.0 968.6,444.0 848.7,463.6 845.2,456.9 994.7,478.7 1001.3,392.2 853.6,413.8 984.3,454.8 857.1,397.7 824.9,434.7 975.0,407.5 1000.8,393.0 993.8,474.1 840.6,442.6 855.2,463.1 857.7,458.3 984.8,459.3 1005.6,428.0 828.4,413.1 1015.0,417.8 981.7,465.5 835.0,472.1 857.6,477.7 1009.2,415.1 841.1,367.7 966.9,449.2 849.5,420.2 847.6,428.8 847.7,473.2 859.0,437.5 964.8,479.0 831.7,406.4 993.5,445.4 978.7,460.4 855.3,417.2 988.7,422.3 869.6,472.0 827.9,457.3 995.4,398.1 839.0,418.2 836.0,440.6 1002.5,389.5 856.0,414.1 868.2,470.2 820.3,455.4 845.6,449.2 869.1,456.9 870.5,431.9 839.8,391.4 838.5,454.8 850.8,405.1 865.8,440.8 987.9,423.8 836.1,395.8 1013.7,436.6 838.0,450.4 851.1,403.7 858.6,433.3 1003.6,422.0 828.3,442.9 822.6,472.6 851.6,375.9 842.9,479.0 989.3,457.7 980.7,446.3 1004.2,411.0 1011.6,408.0 845.0,425.4 832.1,477.1 850.6,471.1 998.5,389.8 993.9,444.8 855.7,465.2 832.2,407.9 858.1,406.9 1009.5,403.4 858.0,444.0 861.0,399.9 822.7,431.3 990.0,471.5 857.2,433.3 842.0,398.8 992.4,388.8 836.4,475.2 848.4,437.5 845.8,436.0 825.0,473.5 820.9,426.8 834.2,414.5 973.1,420.6 829.6,476.1 978.7,456.0 864.0,434.2 831.3,402.3 865.1,431.8 968.9,461.5 977.1,410.6 862.2,476.3 836.6,454.0 849.1,448.7 988.5,467.2 983.3,433.3 850.5,411.3 847.0,399.9 837.4,440.3 836.7,406.2 1001.6,475.5 971.5,445.6 994.9,472.5 817.5,467.1 996.6,460.1 1009.4,401.4 857.9,467.3 853.0,476.1 840.9,442.5 838.8,382.4 838.7,480.0 829.6,408.9 965.7,425.4 967.3,435.1 1011.2,409.6 828.1,427.2 860.3,431.2 1012.2,426.5 837.4,447.3 979.8,441.4 843.8,456.1 839.9,421.5 865.2,400.4 976.7,404.2 830.0,439.3 1009.2,419.8 826.4,413.8 846.6,429.3 834.8,471.6 976.2,413.9 972.5,429.7 852.6,402.4 859.5,420.7 853.6,396.6 1009.3,397.5 866.9,424.3 1011.9,444.4 836.1,379.3 837.2,416.4 834.5,476.1 832.6,472.9 1010.0,432.9 821.3,445.9 1001.8,397.9 967.6,471.7 964.3,470.7 973.4,426.2 968.1,443.8 851.5,380.8 982.7,417.9 962.0,456.2 831.7,440.7 862.7,463.0 821.2,474.1 996.2,389.1 837.6,455.1 988.9,457.6 1006.8,440.0 1016.2,424.7 975.1,399.4 968.6,418.4 830.4,411.7 1000.8,448.3 848.4,373.3 1011.7,425.4 973.6,477.5 967.5,424.3 860.4,462.8 859.6,449.3 979.7,429.8 978.0,419.7 976.1,414.7 985.2,434.1 970.4,447.6 1007.9,416.4 1008.3,463.0 849.1,394.9 994.5,403.7 861.7,447.5 984.2,475.3 1009.2,417.4 985.7,400.7 856.6,442.1 970.5,457.2 975.7,416.9 862.8,456.6 836.4,418.9 867.7,418.9 1001.2,415.4 861.0,475.7 994.1,427.8 856.1,449.2 848.8,460.7 970.3,462.0 1008.0,409.2 829.5,409.5 990.5,457.5 1012.1,419.9 974.6,469.3 853.6,424.2 980.0,464.3 987.6,418.1 861.8,444.7 997.8,458.3 840.1,389.7 841.4,452.4 966.5,447.4 874.6,458.4 856.4,391.0 860.0,445.6 1010.5,425.9 996.4,456.0 1015.8,445.4 999.0,468.6 858.9,386.9 864.0,465.0 825.3,447.4 971.6,411.7 818.0,475.9 838.9,473.1 821.5,482.1 962.9,467.9 983.2,434.4 962.9,470.9 834.2,408.4 862.9,465.1 1005.1,475.0 867.3,473.2 989.0,471.9 995.3,475.5"/>
<polyline fill="none" stroke="none" marker-start="url(#mr)" marker-mid="url(#mr)" marker-end="url(#mr)" points="827.0,433.9 861.4,444.7 851.6,468.2 847.5,447.4 819.3,448.7 822.8,471.5 856.0,457.3 836.1,406.3 831.9,457.5 844.8,457.1 822.8,430.2 834.4,440.1 831.0,421.7 855.2,451.1 837.0,451.6 831.2,454.2 854.0,417.2 833.3,426.8 818.1,446.9 840.9,396.5 859.2,440.6 844.6,451.4 848.9,403.9 847.6,437.0 840.4,457.9 831.8,446.1 826.7,450.8 855.5,460.3 862.0,441.0 852.5,423.0 846.0,467.3 843.9,404.7 860.2,444.4 842.1,439.2 862.1,457.1 840.6,468.0 844.6,422.3 831.2,416.8 828.2,437.9 836.2,428.4 829.1,435.8 851.3,447.8 857.4,427.7 854.9,411.7 852.8,425.5 862.0,447.8 819.8,439.7 845.3,420.6 840.0,422.1 860.4,448.6 843.0,422.9 843.1,419.1 835.7,460.2 835.2,417.3 819.0,444.0 852.4,411.3 854.5,430.5 831.9,443.4 819.1,455.2 837.5,443.2 840.7,464.1 821.9,462.4 836.3,458.8 856.0,429.3 835.8,437.5 856.6,438.7 828.1,431.3 851.3,451.8 838.7,411.1 848.1,423.7 819.2,439.9 838.7,403.8 830.2,430.3 849.2,420.2 858.3,447.1 833.8,408.5 856.4,438.4 825.2,427.0 830.9,415.7 852.6,419.1 857.0,443.0 853.7,449.2 836.1,402.4 837.4,456.7 842.6,444.8 826.9,428.0 843.5,445.5 850.8,456.1 849.8,444.8 858.2,422.2 842.5,437.8 850.6,432.4 860.6,429.1 842.4,405.5 854.5,419.8 831.2,470.6 832.7,438.3 839.5,417.3 822.8,454.7 821.7,442.5 860.8,429.8 842.1,468.7 858.7,428.5 848.0,404.1 855.3,441.6 846.5,418.7 842.9,419.7 824.8,449.4 844.4,471.4 849.6,450.5 847.1,417.9 856.3,468.1 860.0,451.8 821.6,438.7 832.4,471.2 818.0,456.3 845.4,453.0 826.7,437.1 847.9,431.5 830.2,451.1 857.9,403.3 831.2,454.1 842.4,454.6 857.4,460.8 853.3,451.6 843.9,446.4 842.4,437.6 828.8,429.8 832.8,421.4 861.6,465.5 837.5,465.7 833.7,436.0 846.8,410.2 829.9,416.2 840.0,453.9 833.8,444.3 841.1,401.1 850.0,449.4 828.6,420.3 858.7,464.5 841.3,467.0 856.2,406.3 858.7,419.3 855.0,457.7 835.9,423.6 841.1,417.2 861.2,457.1 833.4,421.4 845.5,414.8 843.8,395.6 839.7,439.4 838.0,407.4 822.4,440.5 830.1,471.0 858.6,462.8 853.5,430.2 841.3,401.5 847.5,444.5 855.6,421.9 852.4,451.1 859.8,417.3 858.7,412.6 836.2,452.2 843.1,458.5 825.6,466.5 847.0,442.4 856.7,455.3 850.3,440.1 830.0,426.5 861.5,427.6 857.2,464.4 839.1,403.3 842.5,461.3 851.3,432.4 845.7,460.7 827.2,445.6 828.4,458.4 852.0,436.7 844.2,442.1 851.0,457.4 835.6,446.6 823.7,466.9 853.7,410.5 836.4,415.6 842.8,394.7 856.0,459.5 818.7,437.2 820.1,465.4 857.1,417.3 843.3,396.9 843.6,452.1 835.4,454.7 851.1,410.8 822.0,461.4 851.4,458.6 835.9,425.4 838.3,445.2 834.7,467.0 822.3,451.7 835.0,434.9 858.5,451.6 827.5,465.8 831.4,427.4 834.0,422.3 861.8,428.7 848.5,450.1 846.4,401.9 843.5,405.2 858.8,468.2 827.4,454.4 823.8,427.8 860.9,419.1 819.8,467.5 849.5,447.0 829.1,458.6 860.9,426.2 857.9,461.7 861.2,442.4 833.2,444.4 845.7,464.2 827.8,427.2 839.4,454.8 845.0,399.8 843.9,430.0 835.2,408.7 853.2,420.5 859.4,421.6 847.2,445.7 851.6,429.1 855.5,414.4 860.7,441.8 840.6,455.9 834.0,408.7 831.9,436.0 844.0,460.4 836.8,416.4 826.7,436.9 856.0,415.0 854.6,447.4 849.2,443.6 826.7,431.0 855.6,468.0 833.2,434.9 835.7,402.9 847.9,408.2 823.6,452.8 821.2,439.6 842.6,438.6 860.5,427.0 842.5,404.8 842.0,389.5 1007.5,435.1 985.0,428.5 997.5,450.5 974.7,438.9 978.7,432.0 992.1,454.6 998.0,396.0 992.1,464.2 986.8,441.6 983.7,452.1 998.9,398.9 982.0,427.2 996.7,457.6 998.8,432.4 969.9,448.2 1004.6,446.9 979.5,416.6 978.2,471.8 1006.3,432.9 984.6,414.9 980.5,410.1 987.9,432.8 989.8,413.7 993.6,395.5 993.6,414.9 990.7,419.7 969.9,448.5 1006.4,465.0 973.4,471.9 982.3,438.2 971.8,469.8 993.6,454.8 1003.7,467.2 1008.1,442.1 972.2,447.3 986.3,463.9 1005.3,406.4 994.8,398.8 983.8,432.3 1004.1,431.1 969.0,466.6 991.5,464.5 978.3,457.5 977.8,448.7 1007.1,432.3 979.3,465.3 968.3,468.1 976.9,443.6 1003.6,420.1 974.7,433.1 982.3,433.9 986.3,407.3 1003.5,423.5 979.4,457.2 980.1,449.0 992.8,460.9 980.3,452.5 1006.8,415.8 992.0,449.5 993.7,413.7 1007.0,445.7 1005.1,471.9 983.5,442.9 984.4,463.7 992.3,442.4 1001.5,436.2 980.3,459.9 997.5,406.0 987.5,451.3 978.1,429.0 998.1,436.9 974.6,430.2 991.3,437.8 982.5,446.8 1000.6,403.4 998.1,443.9 978.6,463.5 1000.4,412.0 993.5,436.6 1005.1,429.6 1004.3,415.8 985.3,416.2 1006.1,414.1 980.4,408.1 992.0,442.0 989.1,415.1 999.7,465.4 989.4,414.1 973.5,433.2 971.3,449.5 992.2,465.7 994.6,443.9 997.8,468.4 981.8,422.1 991.7,444.7 986.9,458.1 986.5,469.1 981.3,463.9 1000.6,423.2 1004.8,468.2 972.5,430.6 992.8,442.7 1004.0,441.7 981.1,464.3 996.5,403.9 999.9,425.0 986.5,452.2 1007.6,412.2 1007.5,420.4 977.2,466.2 994.6,420.8 1001.2,443.1 986.0,463.3 996.5,408.2 1006.8,432.0 982.4,443.2 994.8,465.1 999.5,409.5 973.1,426.0 980.3,448.6 1002.9,454.7 1005.3,469.7 986.0,449.8 1005.0,424.4 986.8,419.2 998.1,410.4 995.4,411.6 971.8,443.5 1006.2,432.2 980.0,467.2 985.4,409.1 986.9,422.7 980.9,432.5 1004.7,421.2 1001.7,470.9 987.6,411.8 991.6,468.3 1008.3,432.0 998.3,410.8 992.0,467.3 970.7,458.4 991.8,447.2 984.0,404.7 1001.3,430.7 1002.9,456.4 1003.1,448.9 1009.0,429.6 1007.3,445.6 994.7,439.8 986.2,428.7 982.0,408.8 1005.4,414.7 976.6,416.4 989.9,459.6 987.1,448.6 997.1,402.6 992.5,462.8 975.6,457.6 994.1,422.8 1006.4,412.6 980.3,406.8 990.1,418.1 993.3,400.9 991.1,434.2 1000.6,407.5 1007.0,419.5 1000.5,465.8 985.1,466.3 968.7,468.9 1008.3,442.2 1007.5,448.5 999.5,452.8 1000.0,415.1 983.4,404.8 978.2,461.1 993.1,441.1 987.9,472.5 1004.5,436.4 990.0,462.2 988.3,412.5 993.8,401.7 1005.3,453.2 998.4,441.3 992.4,466.5 997.8,415.3 974.6,451.6 1000.0,435.6 975.6,420.6 982.6,422.3 999.8,428.8 988.2,463.1 986.3,437.9 977.2,436.2 982.1,470.7 1008.7,441.4 995.6,452.3 993.3,418.7 991.8,448.4 990.9,448.2 998.1,424.2 979.5,419.0 1007.5,446.7 1001.4,406.9 985.5,470.9 1005.1,411.5 1005.4,461.0 998.3,435.6 981.1,420.9 989.8,440.7 1003.1,432.1 1005.7,432.5 980.6,454.9 978.1,431.1 1002.1,471.9 989.7,409.5 990.1,444.8 1000.1,429.0 997.6,442.0 989.0,451.5 995.9,453.7 999.0,457.8 982.6,459.0 1008.7,470.9 981.1,453.2 971.8,427.8 1005.7,412.8 969.9,447.0 990.3,413.4 973.0,417.6 980.8,413.3 1005.5,429.6 984.0,409.4 987.3,402.5 1000.5,424.4 988.6,430.1 996.8,449.1 971.3,423.0 978.9,466.3 1000.8,414.7 995.0,416.7 1005.2,429.9 987.3,461.4 991.1,454.9 1004.2,466.8 981.4,465.3 985.5,438.4 970.1,459.3 977.4,454.1 983.9,452.8 983.6,407.2 991.8,459.7 972.2,430.6 979.6,445.6 988.3,437.3 995.5,440.4 995.5,389.0 998.0,395.5"/>
</g>
<g fill="#000" transform="translate(779.5 503.5) rotate(-90) scale(1 1.06)"><text x="0.00" y="0.00" font-size="17" font-weight="bold" font-style="italic">B</text><text x="11.40" y="0.00" font-size="16">(</text><text x="15.30" y="0.00" font-size="17">D</text><text x="27.70" y="4.60" font-size="12">s</text><text x="27.60" y="-7.10" font-size="12">+</text><path d="M35.80 -5.30H51.60M46.70 -9.50L52.00 -5.30L46.70 -1.10" fill="none" stroke="#000" stroke-width="1.05" stroke-linejoin="miter"/><text x="53.50" y="0.00" font-size="15">h</text><text x="60.90" y="4.60" font-size="12">1</text><text x="68.40" y="0.00" font-size="16">(</text><text x="75.70" y="0.00" font-size="17">1415</text><text x="108.50" y="0.00" font-size="16">)</text><text x="116.96" y="0.00" font-size="16.5">e</text><text x="125.60" y="-7.60" font-size="12">+</text><text transform="translate(132.20 0.00) scale(1.100 1)" font-size="16.5" font-weight="bold">&#957;</text><text x="139.33" y="4.60" font-size="12">e</text><text x="144.90" y="0.00" font-size="16">)</text><text x="151.70" y="0.00" font-size="16">(</text><text x="156.80" y="0.00" font-size="17.5">&#215;</text><text x="166.96" y="0.00" font-size="17.5">10</text><text x="184.50" y="-6.60" font-size="11.5">-</text><text x="188.25" y="-6.40" font-size="13">3</text><text x="194.10" y="0.00" font-size="16">)</text></g>
<text transform="translate(948.8 538.8) scale(1.2 1)" font-size="19" fill="#000">&#952;</text>
<text x="959.3" y="543.5" font-size="12" font-weight="bold" fill="#000">1P1</text>
<text text-anchor="middle" x="964.4" y="567.1" font-size="18" font-weight="bold" fill="#0000ff" word-spacing="0.4">( b<tspan dy="3.6" font-size="12">3</tspan><tspan dy="-3.6"> )</tspan></text>
</g>
<g id="legend">
<circle cx="221.3" cy="18.7" r="1.6" fill="none" stroke="#c0c0c0" stroke-width="0.9"/>
<path d="M219.35 40.3h3.9M221.3 38.35v3.9M219.65 38.65l3.3 3.3M222.95 38.65l-3.3 3.3" fill="none" stroke="#ff0000" stroke-width="1.0"/>
<text x="243" y="24" font-size="16" fill="#000">Br within 2&#963;</text>
<text x="243" y="45.5" font-size="16" fill="#000">Br within 1&#963;</text>
</g>
</svg>
</body></html>
